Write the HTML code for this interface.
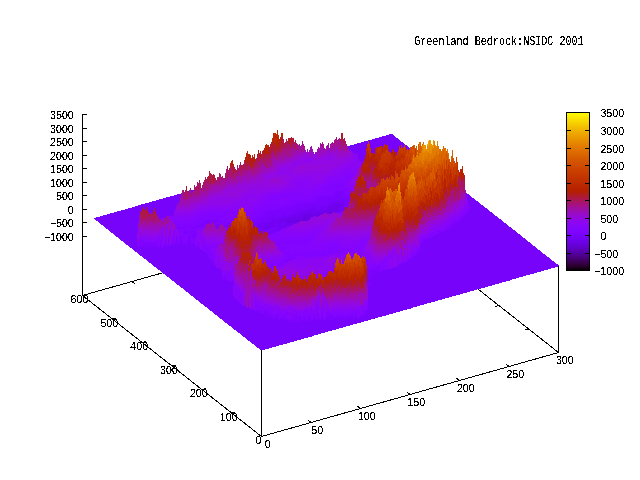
<!DOCTYPE html>
<html lang="en"><head><meta charset="utf-8"><title>Greenland Bedrock:NSIDC 2001</title>
<style>html,body{margin:0;padding:0;background:#fff}svg{display:block}</style></head><body>
<svg width="640" height="480" viewBox="0 0 640 480">
<rect width="640" height="480" fill="#fff"/>
<g stroke="#000" stroke-width="1" fill="none" shape-rendering="crispEdges">
<line x1="82.5" y1="295.5" x2="261.5" y2="436.5"/>
<line x1="261.5" y1="436.5" x2="558.5" y2="352.5"/>
<line x1="558.5" y1="352.5" x2="379.5" y2="211.5"/>
<line x1="379.5" y1="211.5" x2="82.5" y2="295.5"/>
<line x1="82.5" y1="114" x2="82.5" y2="295.5"/>
<line x1="82.5" y1="114.5" x2="87.0" y2="114.5"/>
<line x1="82.5" y1="128.5" x2="87.0" y2="128.5"/>
<line x1="82.5" y1="141.5" x2="87.0" y2="141.5"/>
<line x1="82.5" y1="155.5" x2="87.0" y2="155.5"/>
<line x1="82.5" y1="168.5" x2="87.0" y2="168.5"/>
<line x1="82.5" y1="182.5" x2="87.0" y2="182.5"/>
<line x1="82.5" y1="195.5" x2="87.0" y2="195.5"/>
<line x1="82.5" y1="209.5" x2="87.0" y2="209.5"/>
<line x1="82.5" y1="222.5" x2="87.0" y2="222.5"/>
<line x1="82.5" y1="236.5" x2="87.0" y2="236.5"/>
<line x1="261.5" y1="436.5" x2="257.9" y2="433.7"/>
<line x1="82.5" y1="295.5" x2="86.1" y2="298.3"/>
<line x1="311.0" y1="422.5" x2="307.4" y2="419.7"/>
<line x1="132.0" y1="281.5" x2="135.6" y2="284.3"/>
<line x1="360.5" y1="408.5" x2="356.9" y2="405.7"/>
<line x1="181.5" y1="267.5" x2="185.1" y2="270.3"/>
<line x1="410.0" y1="394.5" x2="406.4" y2="391.7"/>
<line x1="231.0" y1="253.5" x2="234.6" y2="256.3"/>
<line x1="459.5" y1="380.5" x2="455.9" y2="377.7"/>
<line x1="280.5" y1="239.5" x2="284.1" y2="242.3"/>
<line x1="509.0" y1="366.5" x2="505.4" y2="363.7"/>
<line x1="330.0" y1="225.5" x2="333.6" y2="228.3"/>
<line x1="558.5" y1="352.5" x2="554.9" y2="349.7"/>
<line x1="379.5" y1="211.5" x2="383.1" y2="214.3"/>
<line x1="261.5" y1="436.5" x2="265.5" y2="435.4"/>
<line x1="558.5" y1="352.5" x2="554.5" y2="353.6"/>
<line x1="231.7" y1="413.0" x2="235.6" y2="411.9"/>
<line x1="528.7" y1="329.0" x2="524.7" y2="330.1"/>
<line x1="201.8" y1="389.5" x2="205.8" y2="388.4"/>
<line x1="498.8" y1="305.5" x2="494.9" y2="306.6"/>
<line x1="172.0" y1="366.0" x2="176.0" y2="364.9"/>
<line x1="469.0" y1="282.0" x2="465.0" y2="283.1"/>
<line x1="142.2" y1="342.5" x2="146.1" y2="341.4"/>
<line x1="439.2" y1="258.5" x2="435.2" y2="259.6"/>
<line x1="112.3" y1="319.0" x2="116.3" y2="317.9"/>
<line x1="409.3" y1="235.0" x2="405.4" y2="236.1"/>
<line x1="82.5" y1="295.5" x2="86.5" y2="294.4"/>
<line x1="379.5" y1="211.5" x2="375.5" y2="212.6"/>
</g>
<g shape-rendering="crispEdges" fill="none" stroke-width="1">
<path stroke="#6a01e1" d="M285.5 220v1M286.5 220v2M288.5 221v1M289.5 220v1M290.5 221v1M291.5 221v1M293.5 220v2M294.5 222v1M296.5 220v2M297.5 220v2M298.5 220v2M299.5 220v2M302.5 219v2M303.5 218v2M304.5 216v5M305.5 215v6M306.5 215v4M307.5 215v6M308.5 215v2M309.5 215v2M309.5 218v2M313.5 216v1M328.5 213v1M329.5 212v1M331.5 212v1M332.5 212v1"/>
<path stroke="#6e02ec" d="M265.5 227v2M266.5 226v3M267.5 227v2M268.5 227v1M269.5 227v1M270.5 226v2M271.5 225v2M272.5 225v2M280.5 221v1M281.5 220v2M282.5 220v1M283.5 220v2M284.5 219v2M285.5 219v1M286.5 219v1M286.5 225v1M287.5 218v6M288.5 218v3M288.5 222v1M289.5 217v3M289.5 221v4M290.5 217v4M290.5 223v2M291.5 217v4M291.5 222v3M292.5 219v5M293.5 217v3M293.5 222v2M294.5 217v5M295.5 217v7M296.5 217v3M296.5 222v1M297.5 218v2M297.5 223v1M298.5 217v3M299.5 216v4M300.5 215v6M301.5 214v7M302.5 213v6M303.5 213v5M303.5 220v1M304.5 213v3M305.5 213v2M306.5 213v2M306.5 219v2M307.5 213v2M308.5 212v3M308.5 217v3M309.5 212v3M309.5 217v1M310.5 212v7M311.5 212v5M312.5 213v4M313.5 213v3M314.5 214v2M315.5 212v4M316.5 213v4M317.5 212v5M318.5 212v4M319.5 213v3M320.5 212v3M321.5 212v3M322.5 212v2M323.5 211v3M324.5 210v3M325.5 211v2M326.5 210v3M327.5 209v5M328.5 209v4M329.5 208v4M329.5 213v1M330.5 207v7M331.5 207v5M331.5 213v1M332.5 206v6M333.5 206v6M334.5 205v7M335.5 204v7M335.5 212v1M336.5 204v8M337.5 204v8M338.5 204v5M339.5 204v4M340.5 204v2M341.5 204v2"/>
<path stroke="#7302f4" d="M253.5 226v2M257.5 225v3M258.5 224v4M258.5 229v2M259.5 225v1M259.5 227v1M259.5 229v3M260.5 224v7M261.5 224v7M262.5 224v8M263.5 223v8M264.5 223v8M265.5 222v5M265.5 229v1M266.5 223v3M266.5 229v1M267.5 222v5M268.5 222v5M268.5 228v1M269.5 222v5M269.5 228v2M270.5 219v1M270.5 221v5M271.5 219v1M271.5 221v4M272.5 218v7M273.5 218v9M274.5 217v2M274.5 221v6M275.5 220v3M275.5 225v1M275.5 229v1M276.5 217v2M276.5 220v6M276.5 229v1M277.5 219v9M277.5 229v1M278.5 217v7M278.5 226v2M278.5 229v1M279.5 218v12M280.5 217v4M280.5 222v7M281.5 218v2M281.5 222v1M281.5 225v2M281.5 228v1M282.5 216v4M282.5 221v1M282.5 226v1M283.5 217v3M283.5 223v2M283.5 227v1M284.5 216v3M284.5 221v7M285.5 217v2M285.5 221v6M286.5 216v3M286.5 222v3M286.5 226v1M287.5 216v2M287.5 224v2M288.5 216v2M288.5 223v4M289.5 215v2M289.5 225v1M290.5 216v1M290.5 222v1M291.5 215v2M292.5 214v5M292.5 224v1M293.5 214v3M294.5 214v3M295.5 214v3M296.5 213v4M297.5 212v6M297.5 222v1M298.5 213v4M299.5 213v3M300.5 212v3M301.5 211v3M302.5 211v2M303.5 211v2M304.5 210v3M305.5 211v2M306.5 210v3M307.5 209v4M308.5 210v2M309.5 208v4M310.5 208v4M311.5 209v3M312.5 208v5M313.5 206v7M314.5 207v2M314.5 210v4M315.5 208v1M315.5 210v2M316.5 208v1M316.5 211v2M317.5 210v2M318.5 209v3M319.5 209v4M320.5 208v4M321.5 207v5M322.5 207v5M323.5 207v4M324.5 207v3M325.5 207v4M326.5 206v4M327.5 206v3M328.5 205v4M329.5 205v3M330.5 204v3M331.5 203v4M332.5 202v4M333.5 202v4M334.5 203v2M335.5 202v2M335.5 211v1M336.5 201v3M336.5 212v1M337.5 202v2M338.5 201v3M338.5 209v3M339.5 200v4M339.5 208v3M340.5 201v3M340.5 206v5M341.5 202v2M341.5 206v2M341.5 209v2M342.5 201v10M343.5 203v8M344.5 209v1"/>
<path stroke="#7703fa" d="M94.5 218v1M95.5 218v2M96.5 217v4M97.5 217v4M98.5 217v5M99.5 217v6M100.5 216v8M101.5 216v9M102.5 216v9M103.5 215v11M104.5 215v12M105.5 215v13M106.5 215v14M107.5 214v15M108.5 214v16M109.5 214v17M110.5 213v19M111.5 213v20M112.5 213v20M113.5 213v21M114.5 212v23M115.5 212v24M116.5 212v25M117.5 211v26M118.5 211v27M119.5 211v28M120.5 211v29M121.5 210v31M122.5 210v31M123.5 210v32M124.5 210v33M125.5 209v35M126.5 209v36M127.5 209v36M128.5 208v38M129.5 208v39M130.5 208v40M131.5 208v40M132.5 207v42M133.5 207v43M134.5 207v44M135.5 206v46M136.5 206v28M136.5 237v1M136.5 240v12M137.5 206v24M137.5 246v7M138.5 205v17M138.5 247v7M139.5 205v10M139.5 247v8M140.5 205v7M140.5 247v9M141.5 204v7M141.5 247v9M142.5 204v5M142.5 248v9M143.5 204v3M143.5 248v10M144.5 204v5M144.5 248v11M145.5 203v7M145.5 248v11M146.5 203v4M146.5 249v11M147.5 203v8M147.5 249v12M148.5 203v11M148.5 249v13M149.5 202v10M149.5 247v1M149.5 249v14M150.5 202v12M150.5 249v14M151.5 202v11M151.5 249v15M152.5 201v13M152.5 249v16M153.5 201v9M153.5 249v17M154.5 201v7M154.5 249v18M155.5 201v11M155.5 247v1M155.5 249v18M156.5 200v14M156.5 249v19M157.5 200v16M157.5 249v20M158.5 200v17M158.5 248v22M159.5 199v20M159.5 248v22M160.5 199v20M160.5 248v23M161.5 199v20M161.5 248v24M162.5 199v19M162.5 248v25M163.5 198v20M163.5 247v27M164.5 198v20M164.5 247v27M165.5 198v20M165.5 247v28M166.5 197v19M166.5 247v29M167.5 197v19M167.5 246v31M168.5 197v19M168.5 247v30M169.5 197v19M169.5 246v32M170.5 196v21M170.5 246v33M171.5 196v20M171.5 245v35M172.5 196v20M172.5 246v35M173.5 196v19M173.5 245v36M174.5 195v16M174.5 245v37M175.5 195v13M175.5 244v39M176.5 195v11M176.5 245v39M177.5 194v9M177.5 245v40M178.5 194v10M178.5 245v40M179.5 194v7M179.5 244v42M180.5 194v3M180.5 244v43M181.5 245v43M182.5 244v44M183.5 244v45M184.5 244v46M185.5 244v47M186.5 245v47M187.5 244v48M188.5 191v1M188.5 244v49M189.5 244v50M190.5 245v50M191.5 190v3M191.5 244v52M192.5 190v2M192.5 244v52M193.5 190v1M193.5 237v1M193.5 245v52M194.5 237v1M194.5 246v52M195.5 236v1M195.5 246v53M196.5 247v53M197.5 247v53M198.5 248v53M199.5 248v54M200.5 249v54M201.5 250v54M202.5 250v54M203.5 251v54M204.5 252v54M205.5 224v1M205.5 252v55M206.5 253v54M207.5 222v1M207.5 255v53M208.5 255v54M209.5 258v52M210.5 260v51M211.5 260v51M212.5 262v50M213.5 263v50M214.5 265v49M215.5 265v50M216.5 228v1M216.5 268v47M217.5 228v1M217.5 268v48M218.5 227v1M218.5 269v48M219.5 270v48M220.5 268v51M221.5 270v49M222.5 279v41M223.5 280v41M224.5 280v42M225.5 280v43M226.5 280v43M227.5 281v43M228.5 281v44M229.5 281v45M230.5 282v44M231.5 282v45M232.5 282v13M232.5 296v32M233.5 282v4M233.5 297v32M234.5 298v32M235.5 299v31M236.5 299v32M237.5 301v31M238.5 302v31M239.5 303v30M240.5 304v30M241.5 304v31M242.5 305v31M243.5 306v31M244.5 306v31M245.5 305v33M246.5 307v32M247.5 308v32M248.5 308v33M249.5 309v32M250.5 309v33M251.5 310v33M252.5 311v33M253.5 222v4M253.5 311v33M254.5 222v5M254.5 311v34M255.5 222v4M255.5 312v34M256.5 222v5M256.5 311v36M257.5 222v3M257.5 313v35M258.5 221v3M258.5 228v1M258.5 313v35M259.5 222v3M259.5 226v1M259.5 228v1M259.5 232v2M259.5 313v36M260.5 221v3M260.5 314v36M261.5 220v4M261.5 231v2M261.5 313v38M262.5 220v4M262.5 232v2M262.5 314v36M263.5 220v3M263.5 314v36M264.5 219v4M264.5 231v1M264.5 315v35M265.5 219v3M265.5 315v34M266.5 219v4M266.5 315v34M267.5 216v6M267.5 316v33M268.5 215v7M268.5 232v3M268.5 316v33M269.5 215v7M269.5 231v4M269.5 317v31M270.5 214v5M270.5 220v1M270.5 228v2M270.5 231v4M270.5 317v31M271.5 214v5M271.5 220v1M271.5 227v7M271.5 318v30M272.5 214v4M272.5 227v7M272.5 318v29M273.5 213v5M273.5 227v7M273.5 318v29M274.5 214v3M274.5 219v2M274.5 227v3M274.5 232v1M274.5 319v28M275.5 213v7M275.5 223v2M275.5 226v3M275.5 231v2M275.5 319v28M276.5 214v3M276.5 219v1M276.5 226v3M276.5 231v1M276.5 319v27M277.5 212v1M277.5 214v5M277.5 228v1M277.5 230v2M277.5 319v27M278.5 213v4M278.5 224v2M278.5 228v1M278.5 320v26M279.5 215v3M279.5 320v25M280.5 214v3M280.5 229v1M280.5 319v26M281.5 216v2M281.5 223v2M281.5 227v1M281.5 321v24M282.5 214v2M282.5 222v4M282.5 227v1M282.5 321v24M283.5 214v3M283.5 222v1M283.5 225v2M283.5 228v1M283.5 321v23M284.5 213v3M284.5 321v23M285.5 212v5M285.5 227v1M285.5 320v24M286.5 214v2M286.5 227v1M286.5 321v23M287.5 213v3M287.5 321v22M288.5 212v4M288.5 320v23M289.5 213v2M289.5 322v21M290.5 211v5M290.5 322v20M291.5 211v4M291.5 225v1M291.5 322v20M292.5 210v4M292.5 322v20M293.5 210v4M293.5 322v20M294.5 210v4M294.5 322v19M295.5 210v4M295.5 322v19M296.5 210v3M296.5 322v19M297.5 208v4M297.5 323v17M298.5 209v4M298.5 323v17M299.5 205v1M299.5 208v5M299.5 323v17M300.5 207v5M300.5 323v17M301.5 209v2M301.5 322v17M302.5 207v4M302.5 322v17M303.5 208v3M303.5 322v17M304.5 208v2M304.5 322v16M305.5 206v5M305.5 322v16M306.5 206v4M306.5 321v17M307.5 205v4M307.5 322v16M308.5 205v5M308.5 321v16M309.5 205v3M309.5 321v16M310.5 205v3M310.5 322v15M311.5 203v6M311.5 321v16M312.5 205v3M312.5 321v15M313.5 205v1M313.5 321v15M314.5 204v3M314.5 209v1M314.5 321v14M315.5 204v4M315.5 209v1M315.5 319v16M316.5 204v4M316.5 209v2M316.5 320v15M317.5 203v7M317.5 321v14M318.5 204v5M318.5 321v13M319.5 200v1M319.5 203v6M319.5 321v13M320.5 203v5M320.5 320v14M321.5 204v3M321.5 320v13M322.5 199v1M322.5 204v3M322.5 320v13M323.5 204v3M323.5 321v12M324.5 203v4M324.5 320v13M325.5 204v3M325.5 320v12M326.5 203v3M326.5 320v12M327.5 202v4M327.5 320v12M328.5 201v4M328.5 320v11M329.5 200v5M329.5 320v11M330.5 200v4M330.5 320v11M331.5 199v4M331.5 320v11M332.5 199v3M332.5 320v10M333.5 199v3M333.5 319v11M334.5 198v5M334.5 319v11M335.5 198v4M335.5 319v11M336.5 195v6M336.5 319v10M337.5 194v8M337.5 212v1M337.5 320v9M338.5 194v7M338.5 212v1M338.5 319v10M339.5 193v7M339.5 211v1M339.5 319v9M340.5 192v4M340.5 198v3M340.5 211v1M340.5 319v9M341.5 198v4M341.5 208v1M341.5 320v8M342.5 194v1M342.5 199v2M342.5 319v9M343.5 200v3M343.5 318v9M344.5 198v11M344.5 319v8M345.5 199v8M345.5 317v10M346.5 200v4M346.5 205v2M346.5 317v9M347.5 204v4M347.5 320v6M348.5 146v3M348.5 318v8M349.5 146v5M349.5 316v10M350.5 145v5M350.5 317v8M351.5 145v6M351.5 319v6M352.5 145v7M352.5 319v6M353.5 145v8M353.5 319v5M354.5 144v9M354.5 318v6M355.5 144v10M355.5 318v6M356.5 144v10M356.5 315v9M357.5 143v10M357.5 318v5M358.5 143v15M358.5 318v5M359.5 143v18M359.5 318v5M360.5 143v18M360.5 317v6M361.5 142v19M361.5 316v6M362.5 142v21M362.5 316v6M363.5 142v19M363.5 315v7M364.5 141v18M364.5 314v7M365.5 141v14M365.5 313v8M366.5 141v7M366.5 312v9M367.5 141v3M367.5 280v3M367.5 310v11M368.5 140v1M368.5 280v3M368.5 288v1M368.5 294v26M369.5 140v4M369.5 279v4M369.5 292v28M370.5 140v8M370.5 279v4M370.5 287v33M371.5 140v13M371.5 279v5M371.5 286v33M372.5 139v14M372.5 276v43M373.5 139v14M373.5 275v44M374.5 139v15M374.5 273v46M375.5 138v10M375.5 273v45M376.5 138v9M376.5 273v45M377.5 138v10M377.5 272v46M378.5 138v9M378.5 272v45M379.5 137v10M379.5 272v45M380.5 137v9M380.5 271v46M381.5 137v9M381.5 271v46M382.5 136v12M382.5 271v45M383.5 136v10M383.5 270v46M384.5 136v8M384.5 270v46M385.5 136v9M385.5 270v46M386.5 135v10M386.5 270v45M387.5 135v10M387.5 269v46M388.5 135v14M388.5 269v46M389.5 134v18M389.5 269v45M390.5 134v18M390.5 269v45M391.5 134v19M391.5 268v46M392.5 134v15M392.5 268v46M393.5 135v15M393.5 268v45M394.5 136v16M394.5 267v46M395.5 137v15M395.5 267v46M396.5 138v17M396.5 267v45M397.5 138v14M397.5 266v46M398.5 139v11M398.5 266v46M399.5 140v6M399.5 265v47M400.5 141v7M400.5 265v46M401.5 142v3M401.5 264v47M402.5 142v6M402.5 264v47M403.5 143v4M403.5 263v47M404.5 144v1M404.5 263v47M405.5 145v2M405.5 262v48M406.5 145v5M406.5 261v49M407.5 146v3M407.5 261v48M408.5 147v3M408.5 261v48M409.5 148v1M409.5 260v49M410.5 259v50M411.5 259v49M412.5 258v50M413.5 258v49M414.5 257v50M415.5 256v51M416.5 255v52M417.5 254v52M418.5 253v53M419.5 251v55M420.5 248v57M421.5 244v61M422.5 243v62M423.5 243v62M424.5 242v62M425.5 241v63M426.5 241v63M427.5 240v63M428.5 239v64M429.5 239v64M430.5 238v65M431.5 238v64M432.5 237v65M433.5 237v65M434.5 236v66M435.5 236v65M436.5 235v66M437.5 235v66M438.5 234v66M439.5 234v66M440.5 233v67M441.5 233v67M442.5 232v67M443.5 231v68M444.5 231v68M445.5 231v67M446.5 230v68M447.5 230v68M448.5 229v69M449.5 229v68M450.5 228v69M451.5 227v70M452.5 227v69M453.5 225v71M454.5 225v71M455.5 225v71M456.5 224v71M457.5 223v72M458.5 223v72M459.5 222v73M460.5 221v73M461.5 220v74M462.5 220v74M463.5 218v75M464.5 217v76M465.5 216v77M466.5 193v4M466.5 215v78M467.5 194v6M467.5 214v78M468.5 194v8M468.5 213v79M469.5 195v11M469.5 211v81M470.5 196v95M471.5 197v94M472.5 198v93M473.5 198v93M474.5 199v91M475.5 200v90M476.5 201v89M477.5 201v88M478.5 202v87M479.5 203v86M480.5 204v85M481.5 205v83M482.5 205v83M483.5 206v82M484.5 207v81M485.5 208v79M486.5 208v79M487.5 209v78M488.5 210v76M489.5 211v75M490.5 212v74M491.5 212v74M492.5 213v72M493.5 214v71M494.5 215v70M495.5 216v68M496.5 216v68M497.5 217v67M498.5 218v66M499.5 219v64M500.5 219v64M501.5 220v63M502.5 221v61M503.5 222v60M504.5 223v59M505.5 223v59M506.5 224v57M507.5 225v56M508.5 226v55M509.5 227v54M510.5 227v53M511.5 228v52M512.5 229v50M513.5 230v49M514.5 230v49M515.5 231v48M516.5 232v46M517.5 233v45M518.5 234v44M519.5 234v43M520.5 235v42M521.5 236v41M522.5 237v40M523.5 238v38M524.5 238v38M525.5 239v37M526.5 240v35M527.5 241v34M528.5 242v33M529.5 242v33M530.5 243v31M531.5 244v30M532.5 245v29M533.5 246v28M534.5 246v27M535.5 247v26M536.5 248v25M537.5 249v23M538.5 250v22M539.5 250v22M540.5 251v21M541.5 252v19M542.5 253v18M543.5 254v17M544.5 254v16M545.5 255v15M546.5 256v14M547.5 257v13M548.5 257v12M549.5 258v11M550.5 259v10M551.5 260v8M552.5 261v7M553.5 261v7M554.5 262v6M555.5 263v4M556.5 264v3M557.5 264v3M558.5 265v2"/>
<path stroke="#7b03fe" d="M136.5 238v2M139.5 245v2M140.5 241v1M141.5 245v2M142.5 241v1M142.5 245v3M143.5 241v7M144.5 243v1M144.5 246v2M145.5 242v6M146.5 244v5M147.5 242v2M147.5 245v4M148.5 243v6M149.5 245v2M149.5 248v1M150.5 242v2M150.5 245v4M151.5 244v5M152.5 246v3M153.5 243v2M153.5 246v3M154.5 243v6M155.5 248v1M156.5 245v4M157.5 246v3M159.5 246v2M160.5 243v5M161.5 246v2M164.5 244v3M165.5 240v7M167.5 244v2M168.5 240v7M171.5 243v2M172.5 239v7M175.5 241v3M176.5 228v1M176.5 237v8M177.5 228v1M177.5 242v3M178.5 227v2M178.5 243v2M179.5 227v2M179.5 241v3M180.5 227v2M180.5 236v8M181.5 227v2M181.5 236v9M182.5 227v2M183.5 226v3M183.5 233v1M184.5 226v2M184.5 232v2M185.5 227v1M185.5 231v3M186.5 231v3M187.5 232v1M187.5 241v3M188.5 232v1M188.5 236v8M189.5 231v2M189.5 235v1M189.5 237v7M190.5 227v1M190.5 233v1M190.5 235v1M190.5 237v8M191.5 227v2M191.5 231v3M191.5 235v2M191.5 243v1M192.5 227v2M192.5 231v2M192.5 234v3M192.5 240v1M193.5 227v2M193.5 231v1M193.5 234v3M193.5 243v2M194.5 226v3M194.5 231v1M194.5 233v4M194.5 240v1M194.5 243v3M195.5 227v1M195.5 231v5M196.5 225v4M196.5 231v3M197.5 225v2M197.5 245v2M198.5 224v4M198.5 230v1M198.5 242v6M199.5 225v2M200.5 224v3M201.5 222v5M202.5 221v5M202.5 227v1M203.5 222v5M204.5 221v4M205.5 220v4M206.5 220v4M207.5 220v2M207.5 223v1M208.5 220v4M209.5 220v2M210.5 221v3M211.5 221v2M212.5 220v2M213.5 220v3M214.5 220v4M215.5 220v3M215.5 224v1M215.5 226v2M216.5 220v3M216.5 225v3M217.5 220v2M217.5 224v4M218.5 220v1M218.5 224v3M219.5 219v2M219.5 225v1M219.5 267v3M220.5 224v1M223.5 224v2M223.5 278v2M224.5 223v4M224.5 275v5M225.5 224v4M226.5 224v4M226.5 279v1M227.5 224v4M228.5 223v5M228.5 280v1M229.5 223v2M230.5 224v3M230.5 281v1M232.5 280v2M249.5 218v1M249.5 307v2M250.5 220v1M252.5 219v3M252.5 308v3M253.5 219v3M253.5 309v2M254.5 219v3M255.5 220v2M255.5 311v1M256.5 218v4M257.5 218v4M257.5 311v2M258.5 217v4M258.5 307v1M258.5 310v3M259.5 217v5M260.5 217v4M260.5 312v2M261.5 217v3M262.5 214v1M262.5 216v4M262.5 312v2M263.5 215v5M264.5 214v5M264.5 313v2M265.5 210v9M265.5 230v2M265.5 310v5M266.5 211v8M266.5 230v2M267.5 211v5M267.5 229v4M267.5 309v7M268.5 211v4M268.5 229v3M269.5 211v4M269.5 230v1M269.5 315v2M270.5 210v4M270.5 230v1M270.5 313v4M271.5 210v4M272.5 210v1M272.5 212v2M272.5 316v2M273.5 209v4M274.5 210v4M274.5 230v2M274.5 318v1M275.5 209v4M275.5 230v1M275.5 315v4M276.5 210v4M276.5 230v1M276.5 317v2M277.5 209v3M277.5 213v1M277.5 313v6M278.5 209v4M278.5 230v2M279.5 208v7M279.5 230v1M279.5 319v1M280.5 208v6M280.5 230v1M280.5 250v1M281.5 207v9M281.5 229v1M281.5 250v1M281.5 319v2M282.5 208v6M282.5 228v1M282.5 250v1M282.5 264v1M282.5 318v3M283.5 209v5M283.5 248v1M283.5 314v7M284.5 207v2M284.5 211v2M284.5 243v1M284.5 318v3M285.5 207v2M285.5 211v1M285.5 261v2M285.5 313v2M286.5 206v3M286.5 210v4M286.5 261v2M286.5 317v4M287.5 207v6M287.5 260v2M287.5 312v2M288.5 207v5M288.5 254v1M288.5 260v1M289.5 206v7M289.5 243v1M289.5 259v2M290.5 206v5M290.5 258v2M291.5 206v5M291.5 259v1M292.5 206v4M292.5 258v1M292.5 319v3M293.5 206v4M293.5 257v1M293.5 314v2M293.5 319v3M294.5 206v4M294.5 315v7M295.5 204v6M295.5 257v1M295.5 320v2M296.5 203v7M296.5 316v2M297.5 203v5M297.5 321v2M298.5 203v6M298.5 318v5M299.5 203v2M299.5 206v2M299.5 316v7M300.5 202v5M300.5 243v1M300.5 317v6M301.5 202v7M301.5 320v2M302.5 202v5M302.5 243v1M302.5 320v2M303.5 202v6M303.5 319v3M304.5 201v7M304.5 315v7M305.5 203v3M305.5 319v3M306.5 203v3M307.5 202v3M308.5 202v3M308.5 318v3M309.5 202v3M309.5 314v7M310.5 202v3M310.5 317v5M311.5 202v1M312.5 202v3M313.5 201v4M313.5 318v3M314.5 201v3M314.5 314v7M315.5 202v2M316.5 199v5M317.5 198v5M317.5 318v3M318.5 197v7M318.5 313v8M319.5 196v4M319.5 201v2M319.5 318v3M320.5 196v7M321.5 196v8M321.5 317v3M322.5 196v3M322.5 200v4M322.5 312v8M323.5 196v8M323.5 254v1M323.5 318v3M324.5 196v7M324.5 254v1M325.5 196v8M325.5 254v1M325.5 318v2M326.5 195v8M326.5 315v5M327.5 196v6M327.5 253v1M327.5 312v8M328.5 196v5M328.5 253v1M328.5 311v9M329.5 196v4M329.5 316v4M330.5 196v4M330.5 313v7M331.5 196v3M331.5 314v6M332.5 196v3M332.5 315v5M333.5 195v4M333.5 318v1M334.5 193v2M334.5 196v2M334.5 317v2M335.5 192v6M335.5 317v2M336.5 191v4M336.5 317v2M337.5 190v4M337.5 316v4M338.5 190v4M338.5 213v1M338.5 316v3M339.5 191v2M339.5 212v1M339.5 318v1M340.5 191v1M340.5 196v2M340.5 212v1M340.5 317v2M341.5 190v8M341.5 211v2M341.5 316v4M342.5 191v3M342.5 195v4M342.5 211v1M342.5 316v3M343.5 191v3M343.5 197v3M343.5 317v1M344.5 192v1M344.5 195v3M344.5 316v3M345.5 197v2M345.5 316v1M346.5 196v4M346.5 204v1M346.5 316v1M347.5 198v6M347.5 317v3M348.5 196v9M348.5 315v3M349.5 197v2M349.5 200v1M350.5 315v2M351.5 314v5M352.5 315v4M353.5 318v1M354.5 315v3M355.5 311v7M360.5 314v1M360.5 316v1M361.5 315v1M364.5 310v4M366.5 309v3M367.5 275v5M367.5 284v3M368.5 273v7M368.5 284v4M368.5 289v5M369.5 270v9M369.5 284v8M370.5 270v9M370.5 284v3M371.5 270v9M371.5 284v2M372.5 269v7M373.5 269v6M374.5 270v3M375.5 269v4M376.5 269v4M377.5 267v5M378.5 266v6M379.5 270v2M398.5 263v3M400.5 263v2M402.5 261v3M408.5 258v3M411.5 257v2M413.5 256v2M414.5 254v3M416.5 254v1M417.5 251v3M418.5 252v1M419.5 250v1M420.5 243v5M421.5 243v1M423.5 241v2M424.5 240v2M425.5 238v3M426.5 239v1M427.5 237v3M429.5 235v1M429.5 238v1M431.5 236v2M433.5 233v1M433.5 236v1M435.5 234v2M437.5 230v2M437.5 234v1M438.5 233v1M439.5 230v4M441.5 230v3M444.5 230v1M447.5 226v1M447.5 228v2M449.5 228v1M450.5 226v2M451.5 226v1M452.5 224v3M453.5 224v1M454.5 222v3M455.5 222v3M456.5 221v3M457.5 221v2M459.5 219v3M460.5 219v2M461.5 217v3M462.5 217v3M463.5 215v3M464.5 214v3M465.5 213v3M466.5 214v1M467.5 211v3M468.5 210v3M469.5 208v3"/>
<path stroke="#8004ff" d="M136.5 234v3M137.5 230v2M137.5 233v1M137.5 243v3M138.5 241v6M139.5 239v6M140.5 243v4M141.5 238v7M142.5 244v1M144.5 244v2M145.5 241v1M146.5 243v1M147.5 241v1M147.5 244v1M148.5 241v2M150.5 244v1M151.5 242v2M152.5 242v4M153.5 245v1M154.5 242v1M155.5 244v3M156.5 240v5M157.5 238v8M158.5 238v10M160.5 240v3M161.5 236v10M162.5 243v5M175.5 208v2M175.5 224v2M176.5 224v4M177.5 224v4M177.5 229v1M178.5 224v3M178.5 229v3M178.5 240v3M179.5 223v4M179.5 229v5M179.5 235v6M180.5 224v3M180.5 229v5M181.5 223v4M181.5 229v6M182.5 224v3M182.5 229v6M182.5 240v4M183.5 223v3M183.5 229v4M183.5 234v10M184.5 223v3M184.5 228v4M184.5 235v9M185.5 223v4M185.5 228v3M185.5 235v9M186.5 224v7M186.5 235v10M187.5 223v9M187.5 233v2M187.5 240v1M188.5 225v7M188.5 233v3M189.5 225v6M189.5 233v2M190.5 224v3M190.5 228v5M190.5 234v1M191.5 224v3M191.5 229v2M191.5 234v1M191.5 241v2M192.5 224v3M192.5 229v2M192.5 233v1M192.5 237v3M192.5 241v3M193.5 223v4M193.5 229v2M193.5 232v2M193.5 238v5M194.5 222v4M194.5 229v2M194.5 232v1M194.5 239v1M195.5 222v5M195.5 228v3M196.5 221v1M196.5 223v2M196.5 229v2M197.5 221v4M197.5 227v2M197.5 243v2M198.5 220v4M198.5 228v2M199.5 219v6M199.5 227v3M200.5 218v6M200.5 227v3M201.5 217v5M201.5 227v2M202.5 217v4M202.5 226v1M203.5 216v6M203.5 227v3M204.5 216v5M204.5 225v3M204.5 248v4M205.5 216v4M205.5 225v2M205.5 243v9M206.5 216v4M206.5 246v7M207.5 214v6M207.5 248v7M208.5 214v6M208.5 248v7M209.5 214v6M209.5 250v3M209.5 255v3M210.5 215v6M210.5 251v9M211.5 215v6M211.5 223v2M211.5 251v3M211.5 255v5M212.5 215v1M212.5 217v3M212.5 252v10M213.5 215v1M213.5 217v3M213.5 253v3M213.5 257v2M214.5 214v1M214.5 217v3M214.5 224v1M215.5 213v2M215.5 216v4M215.5 223v1M215.5 225v1M216.5 215v5M216.5 223v2M217.5 215v5M217.5 222v2M218.5 214v6M218.5 221v3M219.5 215v4M219.5 221v4M220.5 216v4M220.5 221v3M221.5 216v3M221.5 220v4M222.5 214v3M222.5 220v5M223.5 214v4M223.5 221v3M223.5 275v3M224.5 214v1M224.5 216v1M224.5 222v1M225.5 214v2M225.5 221v3M225.5 276v4M226.5 219v5M226.5 228v2M226.5 271v8M227.5 220v4M227.5 228v3M228.5 221v2M228.5 271v9M229.5 220v3M230.5 220v4M230.5 277v4M231.5 220v3M232.5 220v1M232.5 277v3M232.5 295v1M233.5 219v2M237.5 299v2M238.5 295v2M244.5 302v4M246.5 215v1M247.5 216v3M248.5 214v1M248.5 303v5M249.5 216v2M250.5 214v1M250.5 216v4M251.5 215v5M252.5 215v4M253.5 215v4M254.5 212v1M254.5 215v4M255.5 211v3M255.5 215v5M255.5 308v3M256.5 211v7M257.5 211v7M257.5 309v2M258.5 211v6M258.5 305v1M259.5 210v7M259.5 309v4M260.5 209v8M260.5 307v5M261.5 208v9M262.5 208v6M262.5 215v1M262.5 311v1M263.5 208v7M264.5 207v7M264.5 310v3M265.5 207v3M265.5 305v1M266.5 206v5M266.5 312v3M267.5 206v5M267.5 265v2M267.5 307v1M268.5 201v1M268.5 206v5M268.5 266v1M268.5 312v4M269.5 206v5M269.5 266v2M269.5 308v7M270.5 201v1M270.5 205v5M270.5 265v2M270.5 309v1M271.5 206v4M271.5 264v2M271.5 314v4M272.5 200v1M272.5 205v5M272.5 211v1M272.5 265v1M272.5 309v7M273.5 204v5M273.5 264v2M274.5 199v2M274.5 205v5M274.5 265v1M274.5 314v4M275.5 205v4M275.5 242v3M276.5 198v1M276.5 205v5M276.5 241v1M276.5 243v2M276.5 264v1M276.5 315v2M277.5 199v1M277.5 206v3M277.5 243v1M277.5 263v2M278.5 205v4M278.5 242v2M278.5 245v1M278.5 247v2M278.5 263v2M278.5 316v4M279.5 198v1M279.5 206v2M279.5 241v4M279.5 246v4M279.5 263v2M279.5 310v9M280.5 197v1M280.5 205v3M280.5 242v2M280.5 247v3M280.5 262v4M280.5 313v1M280.5 316v3M281.5 196v2M281.5 205v2M281.5 241v4M281.5 246v4M281.5 262v3M281.5 313v6M282.5 205v3M282.5 241v4M282.5 247v3M282.5 261v3M282.5 316v2M283.5 196v1M283.5 205v4M283.5 241v3M283.5 246v2M283.5 249v1M283.5 252v2M283.5 261v3M283.5 311v1M284.5 196v1M284.5 205v2M284.5 209v2M284.5 241v2M284.5 245v4M284.5 252v2M284.5 260v3M285.5 204v3M285.5 209v2M285.5 240v4M285.5 246v3M285.5 252v2M285.5 258v3M286.5 196v1M286.5 204v2M286.5 209v1M286.5 240v4M286.5 245v4M286.5 252v4M286.5 257v4M287.5 203v4M287.5 240v4M287.5 246v1M287.5 248v1M287.5 251v9M287.5 317v4M288.5 203v4M288.5 240v3M288.5 244v3M288.5 248v1M288.5 251v3M288.5 255v5M288.5 312v2M289.5 203v3M289.5 241v2M289.5 244v2M289.5 247v1M289.5 251v8M289.5 318v4M290.5 203v3M290.5 241v4M290.5 251v3M290.5 255v3M290.5 312v2M290.5 318v4M291.5 203v3M291.5 241v4M291.5 247v1M291.5 252v1M291.5 256v3M291.5 313v9M292.5 201v5M292.5 240v5M292.5 252v1M292.5 255v3M293.5 197v1M293.5 200v6M293.5 239v6M293.5 255v2M294.5 197v1M294.5 200v6M294.5 239v6M294.5 252v1M294.5 255v3M295.5 199v5M295.5 238v6M295.5 251v1M295.5 254v3M295.5 317v3M296.5 200v3M296.5 240v4M296.5 254v4M296.5 312v2M296.5 318v4M297.5 200v3M297.5 238v6M297.5 253v4M297.5 312v9M298.5 200v3M298.5 240v5M298.5 254v3M299.5 197v1M299.5 200v3M299.5 239v5M299.5 253v4M300.5 200v2M300.5 239v4M300.5 244v1M300.5 254v3M301.5 198v4M301.5 239v1M301.5 241v2M301.5 244v2M301.5 253v4M302.5 198v4M302.5 241v2M302.5 244v1M302.5 254v2M302.5 316v4M303.5 197v5M303.5 239v6M303.5 253v3M303.5 311v8M304.5 198v3M304.5 239v4M304.5 244v1M304.5 253v4M305.5 199v4M305.5 238v4M305.5 243v2M305.5 247v1M305.5 253v3M305.5 315v4M306.5 199v4M306.5 239v3M306.5 243v3M306.5 252v4M306.5 309v12M307.5 199v3M307.5 238v5M307.5 252v4M307.5 312v10M308.5 200v2M308.5 240v3M308.5 252v4M308.5 317v1M309.5 198v4M309.5 252v4M310.5 199v3M310.5 240v1M310.5 253v4M311.5 199v3M311.5 253v1M311.5 316v5M312.5 198v4M312.5 309v12M313.5 197v4M313.5 252v2M313.5 316v2M314.5 195v6M314.5 251v3M315.5 195v7M315.5 252v2M316.5 194v5M316.5 251v4M316.5 313v7M317.5 194v4M317.5 253v2M317.5 256v1M317.5 305v13M318.5 194v3M318.5 253v2M319.5 194v2M319.5 252v5M320.5 194v2M320.5 253v4M321.5 193v3M321.5 252v5M322.5 192v4M322.5 252v5M323.5 188v1M323.5 192v4M323.5 251v3M323.5 255v1M324.5 193v3M324.5 251v3M324.5 255v2M325.5 188v3M325.5 192v4M325.5 250v4M325.5 256v1M326.5 187v3M326.5 193v2M326.5 251v3M326.5 255v1M327.5 187v9M327.5 249v4M328.5 187v5M328.5 193v3M328.5 248v5M329.5 186v6M329.5 193v3M329.5 247v7M330.5 185v7M330.5 193v3M330.5 247v8M331.5 184v1M331.5 186v10M331.5 247v8M332.5 185v11M332.5 246v9M332.5 314v1M333.5 185v10M333.5 246v3M333.5 250v4M333.5 316v2M334.5 183v10M334.5 195v1M334.5 244v1M334.5 246v2M334.5 249v5M334.5 315v2M335.5 182v1M335.5 184v8M335.5 246v1M335.5 250v4M335.5 314v3M336.5 183v8M336.5 249v5M336.5 314v3M337.5 184v6M337.5 250v1M337.5 252v1M337.5 314v2M338.5 184v6M338.5 252v1M338.5 315v1M339.5 183v8M339.5 314v4M340.5 183v8M340.5 252v1M340.5 313v4M341.5 181v9M341.5 315v1M342.5 183v3M342.5 187v4M342.5 251v1M342.5 314v2M343.5 182v2M343.5 185v1M343.5 187v4M343.5 194v3M343.5 314v3M344.5 181v3M344.5 188v4M344.5 193v2M345.5 181v2M345.5 188v9M345.5 252v1M345.5 314v2M346.5 179v1M346.5 192v4M346.5 314v2M347.5 178v2M347.5 192v6M347.5 315v2M348.5 177v2M348.5 193v3M348.5 250v1M348.5 313v2M349.5 177v1M349.5 196v1M349.5 199v1M349.5 201v1M349.5 313v3M350.5 177v1M350.5 251v1M351.5 176v1M351.5 251v1M351.5 313v1M352.5 250v1M352.5 312v3M353.5 250v1M353.5 311v7M356.5 313v2M357.5 254v1M357.5 310v8M358.5 254v1M358.5 309v9M359.5 255v1M359.5 312v6M363.5 306v9M365.5 245v1M366.5 260v2M367.5 268v7M367.5 283v1M367.5 305v5M368.5 268v5M368.5 283v1M369.5 267v3M369.5 283v1M370.5 266v4M370.5 283v1M371.5 266v4M372.5 266v3M373.5 267v2M374.5 266v4M375.5 265v4M376.5 268v1M377.5 266v1M379.5 265v5M380.5 264v7M381.5 262v9M382.5 261v10M383.5 266v4M403.5 256v7M406.5 255v6M412.5 251v7M415.5 252v4M417.5 247v4M418.5 248v4M419.5 246v4M420.5 240v3M421.5 239v4M422.5 238v5M423.5 235v6M425.5 235v1M426.5 240v1M428.5 233v6M430.5 231v7M432.5 232v5M434.5 229v7M436.5 229v6M442.5 230v2M443.5 225v6M445.5 226v5M448.5 224v5M449.5 224v4M450.5 223v3M451.5 222v4M452.5 221v3M453.5 220v4M454.5 221v1M455.5 219v3M456.5 219v2M458.5 219v4M462.5 215v2M463.5 212v3M464.5 212v2M465.5 212v1M466.5 211v3M467.5 209v2M468.5 208v2M469.5 206v2"/>
<path stroke="#8305fe" d="M140.5 242v1M141.5 237v1M142.5 242v2M143.5 239v2M144.5 240v3M145.5 240v1M146.5 240v3M148.5 240v1M149.5 241v4M151.5 241v1M152.5 241v1M153.5 241v2M155.5 241v3M165.5 236v4M166.5 230v17M168.5 236v4M169.5 231v15M172.5 236v3M173.5 218v1M173.5 222v1M173.5 232v13M174.5 219v1M174.5 222v2M175.5 219v1M175.5 221v3M176.5 221v3M176.5 235v2M177.5 221v3M177.5 231v11M178.5 221v3M178.5 238v2M179.5 220v3M180.5 220v4M181.5 219v4M182.5 220v4M183.5 220v3M184.5 219v4M185.5 219v4M186.5 219v5M187.5 220v3M188.5 218v7M189.5 219v6M189.5 236v1M190.5 218v6M190.5 236v1M191.5 217v3M191.5 221v3M191.5 237v4M192.5 218v2M192.5 221v3M193.5 217v6M194.5 217v5M194.5 238v1M194.5 241v2M195.5 216v6M195.5 237v9M196.5 216v5M196.5 222v1M196.5 234v5M197.5 216v5M197.5 241v2M198.5 215v5M198.5 233v3M199.5 214v5M200.5 214v4M201.5 212v5M202.5 214v3M203.5 212v4M203.5 238v13M204.5 212v4M204.5 239v9M205.5 212v4M206.5 213v3M207.5 212v2M207.5 245v3M208.5 212v2M208.5 246v2M209.5 212v2M209.5 245v5M209.5 253v2M210.5 211v4M210.5 246v3M210.5 250v1M211.5 211v4M211.5 245v4M212.5 211v4M212.5 216v1M212.5 246v2M213.5 211v4M213.5 216v1M213.5 246v2M213.5 259v4M214.5 212v2M214.5 215v2M214.5 247v1M214.5 253v5M214.5 262v3M215.5 211v1M215.5 215v1M215.5 246v2M215.5 256v2M216.5 212v3M217.5 211v4M218.5 212v2M219.5 212v3M219.5 264v3M220.5 211v5M220.5 220v1M221.5 211v5M221.5 219v1M222.5 211v3M222.5 217v3M222.5 265v3M222.5 275v4M223.5 211v3M223.5 218v3M223.5 269v6M224.5 211v3M224.5 215v1M224.5 217v5M225.5 211v3M225.5 216v5M225.5 274v2M226.5 210v6M226.5 217v2M226.5 266v1M227.5 210v5M227.5 217v3M227.5 275v6M228.5 211v4M228.5 217v4M229.5 210v4M229.5 216v4M229.5 275v6M230.5 210v4M230.5 216v4M230.5 267v10M231.5 210v4M231.5 216v4M232.5 210v5M232.5 216v4M233.5 211v3M233.5 215v4M233.5 276v6M234.5 211v7M234.5 269v3M235.5 210v8M236.5 211v7M237.5 211v4M238.5 211v1M238.5 287v6M238.5 297v5M239.5 291v12M240.5 291v13M241.5 293v11M242.5 293v4M246.5 212v3M247.5 211v5M248.5 211v3M248.5 215v1M249.5 210v6M250.5 211v3M250.5 215v1M251.5 210v5M252.5 209v6M252.5 303v5M253.5 208v7M254.5 208v4M254.5 213v2M254.5 306v5M255.5 208v3M255.5 214v1M255.5 299v9M256.5 206v5M256.5 306v5M257.5 206v5M257.5 299v10M258.5 204v1M258.5 206v5M258.5 301v3M258.5 308v2M259.5 205v5M259.5 304v5M260.5 204v5M261.5 204v4M261.5 308v5M262.5 202v1M262.5 204v4M262.5 304v7M263.5 201v7M263.5 308v6M264.5 198v2M264.5 201v6M264.5 304v6M265.5 200v7M266.5 200v6M266.5 263v1M266.5 309v3M267.5 198v8M267.5 262v3M267.5 304v1M268.5 198v3M268.5 202v4M268.5 263v3M268.5 310v2M269.5 197v9M269.5 235v1M269.5 262v4M269.5 268v1M269.5 307v1M270.5 197v4M270.5 202v3M270.5 235v1M270.5 238v2M270.5 263v2M270.5 267v1M270.5 311v2M271.5 195v11M271.5 234v2M271.5 239v2M271.5 262v2M271.5 266v3M271.5 307v7M272.5 196v1M272.5 198v2M272.5 201v4M272.5 238v3M272.5 262v3M272.5 266v2M273.5 195v9M273.5 234v2M273.5 237v4M273.5 262v2M273.5 266v2M273.5 312v6M274.5 195v4M274.5 201v4M274.5 233v3M274.5 238v4M274.5 261v4M274.5 305v9M275.5 195v10M275.5 233v5M275.5 239v3M275.5 261v5M276.5 195v3M276.5 199v1M276.5 202v3M276.5 232v5M276.5 239v2M276.5 242v1M276.5 245v1M276.5 262v2M276.5 265v3M276.5 313v2M277.5 195v4M277.5 201v5M277.5 233v3M277.5 239v4M277.5 244v3M277.5 262v1M277.5 265v3M277.5 306v3M278.5 194v6M278.5 201v4M278.5 232v1M278.5 234v2M278.5 239v3M278.5 244v1M278.5 246v1M278.5 260v3M278.5 265v2M278.5 313v3M279.5 196v2M279.5 200v6M279.5 231v5M279.5 238v3M279.5 245v1M279.5 260v3M279.5 265v2M279.5 308v2M280.5 194v3M280.5 200v1M280.5 202v3M280.5 231v1M280.5 235v1M280.5 237v5M280.5 244v3M280.5 259v3M280.5 314v2M281.5 195v1M281.5 201v4M281.5 237v4M281.5 245v1M281.5 258v4M281.5 265v1M281.5 311v1M282.5 193v5M282.5 199v6M282.5 229v1M282.5 235v1M282.5 238v3M282.5 245v2M282.5 251v1M282.5 259v2M282.5 314v2M283.5 193v3M283.5 200v5M283.5 229v1M283.5 234v1M283.5 238v3M283.5 244v2M283.5 250v2M283.5 257v4M284.5 193v3M284.5 199v6M284.5 234v1M284.5 236v5M284.5 244v1M284.5 249v3M284.5 254v1M284.5 256v4M284.5 315v3M285.5 193v4M285.5 199v5M285.5 236v4M285.5 244v2M285.5 249v3M285.5 254v4M285.5 309v1M285.5 315v5M286.5 193v3M286.5 200v4M286.5 235v1M286.5 239v1M286.5 244v1M286.5 249v3M286.5 256v1M286.5 308v9M287.5 193v5M287.5 199v4M287.5 237v3M287.5 244v2M287.5 247v1M287.5 249v2M288.5 193v5M288.5 199v4M288.5 238v2M288.5 243v1M288.5 247v1M288.5 249v2M289.5 193v4M289.5 199v4M289.5 226v1M289.5 236v5M289.5 246v1M289.5 248v3M290.5 193v10M290.5 237v4M290.5 245v6M290.5 254v1M290.5 260v1M291.5 194v9M291.5 237v4M291.5 245v2M291.5 248v4M291.5 253v3M292.5 194v7M292.5 237v3M292.5 245v7M292.5 253v2M292.5 315v4M293.5 193v4M293.5 198v2M293.5 236v3M293.5 245v10M293.5 258v2M293.5 309v3M293.5 316v3M294.5 192v5M294.5 198v2M294.5 236v3M294.5 245v7M294.5 253v2M294.5 310v3M295.5 193v6M295.5 236v2M295.5 244v7M295.5 252v2M296.5 193v7M296.5 235v5M296.5 244v10M297.5 192v8M297.5 237v1M297.5 244v9M298.5 192v8M298.5 236v4M298.5 245v9M298.5 315v3M299.5 191v6M299.5 198v2M299.5 236v3M299.5 244v9M299.5 311v5M300.5 193v7M300.5 236v3M300.5 245v9M300.5 311v6M301.5 191v1M301.5 194v4M301.5 235v1M301.5 237v2M301.5 240v1M301.5 243v1M301.5 246v7M301.5 310v10M302.5 192v6M302.5 237v4M302.5 245v9M302.5 259v1M303.5 189v1M303.5 192v5M303.5 236v3M303.5 245v8M303.5 256v3M304.5 189v1M304.5 191v4M304.5 196v2M304.5 236v3M304.5 243v1M304.5 245v8M304.5 257v2M304.5 313v2M305.5 190v1M305.5 193v3M305.5 198v1M305.5 236v2M305.5 242v1M305.5 245v2M305.5 248v5M305.5 256v3M305.5 309v6M306.5 189v1M306.5 194v1M306.5 196v3M306.5 235v4M306.5 242v1M306.5 246v6M306.5 256v3M306.5 280v2M307.5 195v4M307.5 236v2M307.5 243v9M307.5 256v3M308.5 196v4M308.5 234v6M308.5 243v9M308.5 256v3M309.5 189v1M309.5 194v1M309.5 196v2M309.5 234v18M309.5 256v2M310.5 194v1M310.5 196v3M310.5 234v1M310.5 236v4M310.5 241v4M310.5 247v6M310.5 257v1M310.5 312v5M311.5 191v2M311.5 194v5M311.5 234v3M311.5 238v7M311.5 246v7M311.5 254v4M311.5 306v10M312.5 190v2M312.5 193v5M312.5 232v12M312.5 246v12M313.5 191v6M313.5 233v2M313.5 237v3M313.5 241v1M313.5 244v1M313.5 246v6M313.5 254v4M314.5 192v3M314.5 240v1M314.5 244v7M314.5 254v3M315.5 189v1M315.5 192v3M315.5 231v3M315.5 244v3M315.5 249v3M315.5 254v3M315.5 310v9M316.5 189v1M316.5 191v3M316.5 244v4M316.5 249v2M316.5 255v2M316.5 300v13M317.5 189v1M317.5 191v3M317.5 246v1M317.5 250v3M317.5 255v1M318.5 188v2M318.5 191v3M318.5 245v2M318.5 249v4M318.5 255v2M319.5 187v7M319.5 246v1M319.5 249v3M320.5 186v3M320.5 191v3M320.5 229v1M320.5 244v2M320.5 249v4M320.5 312v8M321.5 186v7M321.5 244v2M321.5 249v3M321.5 303v14M322.5 186v6M322.5 244v3M322.5 248v4M323.5 185v3M323.5 189v3M323.5 245v2M323.5 248v3M323.5 277v3M324.5 186v7M324.5 244v7M324.5 275v2M325.5 184v4M325.5 191v1M325.5 244v6M325.5 255v1M325.5 275v2M326.5 185v2M326.5 190v3M326.5 245v6M326.5 254v1M326.5 275v1M327.5 182v5M327.5 243v6M327.5 254v1M328.5 183v4M328.5 192v1M328.5 243v5M328.5 254v1M329.5 181v5M329.5 192v1M329.5 244v3M329.5 254v1M330.5 181v4M330.5 192v1M330.5 243v4M331.5 180v4M331.5 185v1M331.5 242v5M331.5 312v2M332.5 179v6M332.5 242v4M332.5 313v1M333.5 180v5M333.5 241v5M333.5 249v1M333.5 312v4M334.5 180v3M334.5 242v2M334.5 245v1M334.5 248v1M334.5 313v2M335.5 179v3M335.5 183v1M335.5 241v5M335.5 247v3M335.5 312v2M336.5 179v4M336.5 243v6M336.5 311v3M337.5 179v5M337.5 243v7M337.5 251v1M337.5 253v1M337.5 311v3M338.5 179v5M338.5 243v9M338.5 253v2M338.5 311v4M339.5 179v4M339.5 243v2M339.5 247v8M339.5 313v1M340.5 179v4M340.5 244v1M340.5 247v5M340.5 253v1M340.5 312v1M341.5 178v3M341.5 247v8M341.5 311v4M342.5 176v7M342.5 186v1M342.5 247v4M342.5 252v3M342.5 312v2M343.5 177v5M343.5 184v1M343.5 186v1M343.5 247v7M343.5 312v2M344.5 176v5M344.5 184v4M344.5 248v6M344.5 312v4M345.5 176v5M345.5 183v5M345.5 248v4M345.5 253v1M346.5 174v5M346.5 180v12M346.5 248v6M346.5 312v2M347.5 174v4M347.5 180v2M347.5 183v1M347.5 186v6M347.5 248v6M347.5 313v2M348.5 173v4M348.5 179v1M348.5 181v1M348.5 187v6M348.5 246v4M348.5 251v1M348.5 311v2M349.5 174v3M349.5 187v9M349.5 248v6M349.5 311v2M350.5 173v4M350.5 190v4M350.5 247v4M350.5 252v1M350.5 255v1M350.5 311v4M351.5 173v3M351.5 246v5M351.5 252v7M351.5 312v1M352.5 173v3M352.5 246v4M352.5 251v8M352.5 310v2M353.5 171v1M353.5 173v2M353.5 246v4M353.5 251v6M354.5 172v3M354.5 247v7M354.5 309v6M355.5 173v1M355.5 246v7M356.5 247v6M356.5 309v4M357.5 246v8M358.5 160v1M358.5 245v9M359.5 243v1M359.5 245v10M359.5 307v2M360.5 242v16M360.5 315v1M361.5 242v16M362.5 242v8M362.5 252v2M362.5 255v1M362.5 305v11M363.5 242v6M363.5 256v1M364.5 242v4M364.5 256v1M365.5 240v5M365.5 256v3M366.5 240v4M366.5 257v3M367.5 241v1M367.5 257v5M367.5 264v4M368.5 240v1M368.5 257v4M368.5 264v4M369.5 264v3M370.5 264v2M371.5 264v2M372.5 265v1M373.5 263v4M374.5 263v3M375.5 264v1M376.5 264v4M377.5 264v2M378.5 265v1M379.5 264v1M383.5 260v6M384.5 258v12M385.5 257v13M386.5 264v6M397.5 255v11M399.5 254v11M409.5 252v8M410.5 250v9M413.5 248v8M416.5 247v7M420.5 238v2M424.5 233v7M426.5 231v8M428.5 230v1M429.5 236v2M432.5 228v2M433.5 234v2M436.5 226v1M437.5 232v2M438.5 225v8M440.5 225v8M446.5 222v8M447.5 227v1M452.5 219v2M453.5 219v1M454.5 215v6M455.5 217v2M457.5 217v4M458.5 216v3M459.5 215v4M460.5 215v4M461.5 213v4M462.5 212v3M463.5 210v2M464.5 208v4M465.5 208v4M466.5 207v4M467.5 206v3M468.5 205v3"/>
<path stroke="#8706fa" d="M137.5 232v1M137.5 238v5M138.5 229v1M140.5 239v2M141.5 235v2M142.5 240v1M143.5 238v1M144.5 238v2M145.5 238v2M146.5 239v1M147.5 238v3M149.5 239v2M150.5 239v3M151.5 239v2M152.5 240v1M153.5 239v2M154.5 239v3M155.5 238v3M158.5 236v2M159.5 232v14M161.5 233v3M162.5 228v15M163.5 238v9M169.5 217v2M170.5 217v1M170.5 220v1M171.5 216v2M171.5 219v1M172.5 216v6M173.5 216v2M173.5 219v3M173.5 231v1M174.5 215v4M174.5 220v2M174.5 228v17M175.5 216v3M175.5 220v1M176.5 215v6M177.5 217v4M178.5 215v6M179.5 215v5M180.5 216v4M180.5 234v2M181.5 216v3M181.5 235v1M182.5 216v4M182.5 235v5M183.5 216v4M184.5 216v3M184.5 234v1M185.5 215v4M185.5 234v1M186.5 216v3M186.5 234v1M187.5 215v5M187.5 235v5M188.5 215v3M189.5 215v4M190.5 216v2M191.5 214v3M191.5 220v1M192.5 215v3M192.5 220v1M193.5 215v2M194.5 212v5M195.5 212v4M196.5 211v5M196.5 240v7M197.5 211v5M197.5 231v10M198.5 210v5M199.5 211v3M199.5 240v8M200.5 211v3M200.5 230v10M201.5 210v2M201.5 241v9M202.5 210v4M202.5 232v18M203.5 209v3M203.5 235v3M204.5 210v2M205.5 210v2M206.5 210v3M206.5 242v4M207.5 209v3M207.5 244v1M208.5 209v3M208.5 243v3M209.5 209v3M209.5 243v2M210.5 208v3M210.5 243v3M210.5 249v1M211.5 209v2M211.5 242v3M211.5 249v2M211.5 254v1M212.5 207v4M212.5 244v2M212.5 248v4M213.5 209v2M213.5 242v4M213.5 248v4M213.5 256v1M214.5 208v4M214.5 244v3M214.5 248v2M214.5 258v4M215.5 209v2M215.5 212v1M215.5 242v4M215.5 248v2M215.5 251v3M216.5 207v5M216.5 243v6M216.5 263v5M217.5 209v2M217.5 244v4M217.5 255v4M218.5 209v3M218.5 244v2M218.5 261v8M219.5 208v4M219.5 243v2M219.5 251v13M220.5 208v3M221.5 208v3M221.5 244v1M222.5 208v3M222.5 243v2M222.5 262v3M223.5 209v2M224.5 209v2M225.5 208v3M225.5 272v2M226.5 208v2M226.5 216v1M226.5 262v2M227.5 207v3M227.5 215v2M227.5 273v2M228.5 207v4M228.5 215v2M228.5 263v4M229.5 208v2M229.5 214v2M229.5 273v2M230.5 207v3M230.5 214v2M230.5 263v3M231.5 208v2M231.5 214v2M231.5 273v9M232.5 207v3M232.5 215v1M232.5 262v15M233.5 208v3M233.5 214v1M233.5 273v3M233.5 291v6M234.5 208v3M234.5 284v14M235.5 207v3M235.5 283v16M236.5 207v4M236.5 284v15M237.5 207v4M237.5 285v14M238.5 206v5M238.5 286v1M239.5 204v1M239.5 206v3M240.5 206v3M242.5 207v1M243.5 207v1M244.5 209v3M244.5 298v4M245.5 208v4M246.5 208v4M247.5 207v4M248.5 208v3M249.5 206v4M250.5 207v4M251.5 206v4M252.5 205v4M253.5 204v4M254.5 205v3M254.5 304v2M255.5 204v4M255.5 295v2M256.5 203v3M256.5 303v3M257.5 202v4M257.5 297v2M258.5 201v3M258.5 205v1M258.5 304v1M258.5 306v1M259.5 200v5M259.5 301v3M260.5 196v1M260.5 199v5M260.5 305v2M261.5 198v6M261.5 303v5M262.5 195v7M262.5 203v1M262.5 262v1M263.5 197v4M263.5 261v3M263.5 306v2M264.5 196v2M264.5 200v1M265.5 195v5M265.5 260v2M265.5 307v3M266.5 195v5M266.5 260v3M266.5 303v6M267.5 195v3M267.5 260v2M267.5 308v1M268.5 194v4M268.5 235v3M268.5 260v3M268.5 306v4M269.5 193v4M269.5 236v3M269.5 260v2M270.5 193v4M270.5 236v2M270.5 260v3M270.5 306v3M270.5 310v1M271.5 194v1M271.5 236v3M271.5 261v1M271.5 269v1M272.5 194v2M272.5 197v1M272.5 234v4M272.5 260v2M273.5 192v3M273.5 236v1M273.5 259v3M273.5 311v1M274.5 192v3M274.5 236v2M274.5 259v2M275.5 192v3M275.5 238v1M275.5 259v2M275.5 311v4M276.5 193v2M276.5 200v2M276.5 237v2M276.5 259v3M276.5 305v8M277.5 192v3M277.5 200v1M277.5 232v1M277.5 236v3M277.5 258v4M277.5 305v1M277.5 310v3M278.5 192v2M278.5 200v1M278.5 233v1M278.5 236v3M278.5 258v2M278.5 306v7M279.5 192v4M279.5 199v1M279.5 236v2M279.5 257v3M279.5 267v1M280.5 192v2M280.5 198v2M280.5 201v1M280.5 232v3M280.5 236v1M280.5 257v2M280.5 266v1M280.5 312v1M281.5 191v4M281.5 198v3M281.5 230v7M281.5 256v2M281.5 266v1M281.5 310v1M281.5 312v1M282.5 191v2M282.5 198v1M282.5 230v5M282.5 236v2M282.5 255v4M282.5 265v1M282.5 310v4M283.5 191v2M283.5 197v3M283.5 230v4M283.5 235v3M283.5 254v3M283.5 264v2M283.5 312v2M284.5 191v2M284.5 197v2M284.5 228v6M284.5 235v1M284.5 255v1M284.5 263v1M284.5 309v6M285.5 190v3M285.5 197v2M285.5 228v2M285.5 232v4M286.5 190v3M286.5 197v3M286.5 228v1M286.5 232v3M286.5 236v3M287.5 190v3M287.5 198v1M287.5 226v2M287.5 232v5M287.5 314v3M288.5 189v4M288.5 198v1M288.5 233v5M288.5 306v3M288.5 314v6M289.5 189v4M289.5 197v2M289.5 227v1M289.5 232v4M289.5 306v12M290.5 189v4M290.5 225v2M290.5 233v4M290.5 281v1M290.5 314v4M291.5 189v5M291.5 231v6M291.5 260v1M291.5 306v4M292.5 190v4M292.5 232v5M292.5 259v2M293.5 184v1M293.5 189v4M293.5 232v4M293.5 260v1M294.5 183v2M294.5 188v4M294.5 233v3M294.5 258v3M294.5 313v2M295.5 183v2M295.5 188v5M295.5 232v4M295.5 258v1M295.5 260v2M295.5 310v7M296.5 183v2M296.5 187v6M296.5 232v3M296.5 259v2M296.5 314v2M297.5 183v3M297.5 187v5M297.5 233v4M297.5 257v1M297.5 259v2M297.5 311v1M298.5 182v4M298.5 188v4M298.5 232v4M298.5 257v5M299.5 182v3M299.5 188v3M299.5 234v2M299.5 257v5M300.5 181v4M300.5 187v6M300.5 233v3M300.5 257v4M301.5 182v4M301.5 187v4M301.5 192v2M301.5 232v3M301.5 236v1M301.5 257v4M301.5 278v2M302.5 163v1M302.5 180v3M302.5 184v8M302.5 233v4M302.5 256v3M302.5 260v1M302.5 265v1M302.5 278v2M303.5 184v5M303.5 190v2M303.5 232v4M303.5 259v2M303.5 263v1M303.5 265v1M303.5 278v1M303.5 310v1M304.5 162v2M304.5 182v1M304.5 184v1M304.5 187v2M304.5 190v1M304.5 195v1M304.5 231v5M304.5 259v1M304.5 266v1M304.5 308v5M305.5 181v9M305.5 191v2M305.5 196v2M305.5 232v4M305.5 265v2M305.5 278v1M306.5 158v1M306.5 185v4M306.5 190v4M306.5 195v1M306.5 231v4M306.5 261v1M306.5 265v1M306.5 277v3M307.5 182v1M307.5 185v10M307.5 232v4M307.5 261v1M307.5 265v1M307.5 277v2M307.5 310v2M308.5 185v11M308.5 220v1M308.5 231v3M308.5 260v2M308.5 307v10M309.5 187v2M309.5 190v4M309.5 195v1M309.5 230v1M309.5 232v2M309.5 311v3M310.5 159v2M310.5 181v1M310.5 187v7M310.5 195v1M310.5 230v4M310.5 235v1M310.5 245v2M310.5 307v5M311.5 187v4M311.5 193v1M311.5 231v3M311.5 237v1M311.5 245v1M312.5 187v3M312.5 192v1M312.5 229v3M312.5 244v2M313.5 183v1M313.5 185v6M313.5 230v3M313.5 235v2M313.5 240v1M313.5 242v2M313.5 245v1M314.5 185v7M314.5 230v10M314.5 241v3M314.5 309v5M315.5 187v2M315.5 190v2M315.5 229v2M315.5 234v7M315.5 242v2M315.5 247v2M315.5 302v8M316.5 184v5M316.5 190v1M316.5 232v8M316.5 241v3M316.5 248v1M316.5 257v1M316.5 276v3M317.5 184v5M317.5 190v1M317.5 231v9M317.5 241v5M317.5 247v3M317.5 257v1M317.5 259v1M317.5 276v2M318.5 186v2M318.5 190v1M318.5 229v5M318.5 236v3M318.5 240v5M318.5 247v2M319.5 184v3M319.5 228v5M319.5 240v6M319.5 247v2M319.5 266v1M320.5 184v2M320.5 189v2M320.5 227v2M320.5 230v1M320.5 240v4M320.5 246v3M320.5 274v1M321.5 184v2M321.5 241v3M321.5 246v3M322.5 184v2M322.5 230v1M322.5 242v2M322.5 247v1M322.5 273v4M323.5 183v2M323.5 241v4M323.5 247v1M323.5 273v4M323.5 308v10M324.5 183v3M324.5 242v2M324.5 273v2M324.5 297v23M325.5 180v4M325.5 241v3M325.5 272v3M325.5 308v10M326.5 180v5M326.5 241v4M326.5 256v1M326.5 272v3M326.5 299v16M327.5 176v2M327.5 179v3M327.5 240v3M327.5 271v3M327.5 303v9M328.5 177v6M328.5 240v3M328.5 306v5M329.5 177v4M329.5 239v5M329.5 309v7M330.5 176v5M330.5 240v3M330.5 312v1M331.5 176v4M331.5 240v2M331.5 270v1M331.5 311v1M332.5 176v3M332.5 239v3M332.5 270v3M332.5 310v3M333.5 176v4M333.5 240v1M333.5 270v2M333.5 310v2M334.5 176v4M334.5 240v2M334.5 309v4M335.5 176v3M335.5 240v1M335.5 309v3M336.5 175v4M336.5 240v3M337.5 175v4M337.5 240v3M337.5 254v1M337.5 309v2M338.5 176v3M338.5 238v5M338.5 255v1M338.5 308v1M338.5 310v1M339.5 175v4M339.5 239v4M339.5 245v2M339.5 255v1M339.5 308v5M340.5 174v5M340.5 241v3M340.5 245v2M340.5 254v1M340.5 310v2M341.5 171v7M341.5 213v1M341.5 241v6M341.5 309v1M342.5 170v6M342.5 242v5M343.5 170v7M343.5 239v1M343.5 241v6M343.5 254v1M343.5 310v2M344.5 169v7M344.5 242v6M344.5 254v1M344.5 310v2M345.5 169v7M345.5 242v6M345.5 254v1M345.5 256v2M345.5 309v5M346.5 169v5M346.5 242v6M346.5 254v1M346.5 311v1M347.5 170v4M347.5 182v1M347.5 184v2M347.5 242v6M347.5 308v5M348.5 169v4M348.5 180v1M348.5 182v5M348.5 242v4M348.5 310v1M349.5 169v5M349.5 178v4M349.5 184v3M349.5 241v7M349.5 309v2M350.5 168v5M350.5 178v3M350.5 185v5M350.5 240v7M350.5 253v2M350.5 309v2M351.5 168v5M351.5 177v2M351.5 186v5M351.5 240v1M351.5 242v4M351.5 308v4M352.5 169v4M352.5 188v3M352.5 242v4M353.5 170v1M353.5 172v1M353.5 189v3M353.5 242v4M353.5 310v1M354.5 169v3M354.5 241v6M355.5 156v2M355.5 170v3M355.5 241v5M356.5 157v2M356.5 170v3M356.5 241v6M357.5 156v4M357.5 169v2M357.5 240v6M357.5 307v3M358.5 158v2M358.5 240v5M359.5 240v3M359.5 244v1M360.5 163v1M360.5 240v2M360.5 306v8M361.5 163v1M361.5 240v2M361.5 304v11M362.5 239v3M362.5 250v2M362.5 254v1M363.5 239v3M363.5 248v8M364.5 239v3M364.5 246v2M364.5 250v1M364.5 252v4M364.5 299v11M365.5 238v2M365.5 253v1M365.5 255v1M365.5 301v12M366.5 237v3M366.5 255v2M366.5 262v3M366.5 301v8M367.5 237v4M367.5 254v3M367.5 262v2M367.5 298v7M368.5 237v3M368.5 254v3M368.5 261v3M369.5 236v3M369.5 256v8M370.5 260v4M371.5 260v4M372.5 261v4M373.5 261v2M374.5 261v2M375.5 261v3M376.5 263v1M377.5 261v3M378.5 261v4M379.5 263v1M380.5 261v3M386.5 256v8M387.5 255v14M388.5 253v16M389.5 262v7M391.5 254v6M392.5 251v17M401.5 249v15M404.5 250v13M407.5 249v12M410.5 246v3M411.5 254v3M413.5 245v2M414.5 252v2M416.5 244v3M421.5 234v5M431.5 227v9M433.5 224v9M435.5 224v10M441.5 221v9M442.5 219v11M444.5 220v10M447.5 221v5M448.5 220v4M449.5 219v5M450.5 218v5M451.5 218v4M455.5 215v2M456.5 216v3M459.5 211v4M460.5 211v4M462.5 210v2M463.5 206v4M465.5 204v4M466.5 205v2M467.5 204v2M468.5 202v3"/>
<path stroke="#8b07f4" d="M139.5 237v2M140.5 233v6M142.5 235v5M143.5 235v3M144.5 236v2M145.5 235v1M145.5 237v1M146.5 236v3M147.5 236v2M148.5 236v4M149.5 237v2M150.5 235v4M151.5 235v4M152.5 236v4M153.5 236v3M154.5 238v1M155.5 237v1M156.5 236v4M157.5 237v1M158.5 235v1M160.5 230v10M161.5 219v2M162.5 218v3M163.5 218v4M169.5 216v1M169.5 229v2M170.5 218v2M170.5 225v21M171.5 218v1M173.5 215v1M174.5 211v4M175.5 215v1M175.5 228v13M177.5 214v3M178.5 233v5M179.5 214v1M180.5 212v4M181.5 214v2M182.5 212v4M183.5 214v2M184.5 214v2M185.5 214v1M186.5 212v4M187.5 212v3M188.5 213v2M189.5 213v2M190.5 213v3M191.5 212v2M192.5 211v4M193.5 212v3M194.5 211v1M195.5 211v1M196.5 210v1M196.5 239v1M197.5 209v2M197.5 229v2M198.5 208v2M198.5 237v5M199.5 208v3M199.5 230v10M200.5 206v5M200.5 240v9M201.5 206v4M201.5 229v12M202.5 208v2M202.5 228v4M203.5 208v1M204.5 206v4M205.5 206v4M205.5 239v4M206.5 208v2M207.5 207v2M207.5 241v3M208.5 206v3M208.5 240v3M209.5 205v4M209.5 240v3M210.5 205v1M210.5 207v1M210.5 241v2M211.5 206v3M211.5 240v2M212.5 206v1M212.5 241v3M213.5 206v3M213.5 252v1M214.5 206v2M214.5 240v1M214.5 242v2M214.5 250v3M215.5 204v5M215.5 250v1M215.5 258v7M216.5 205v2M216.5 240v3M216.5 249v14M217.5 206v3M217.5 241v3M217.5 249v3M218.5 207v2M218.5 243v1M218.5 260v1M219.5 206v2M219.5 241v2M220.5 206v2M220.5 241v2M221.5 205v3M221.5 242v2M222.5 206v2M222.5 241v2M222.5 271v4M223.5 205v4M223.5 241v2M223.5 261v6M224.5 205v4M224.5 269v6M225.5 205v3M225.5 261v11M226.5 204v4M227.5 204v3M227.5 270v3M228.5 206v1M229.5 205v3M229.5 270v3M230.5 205v2M230.5 262v1M231.5 204v4M232.5 189v2M232.5 204v3M233.5 204v4M233.5 286v1M234.5 203v5M234.5 276v2M234.5 279v1M235.5 202v5M236.5 202v5M236.5 260v3M237.5 201v6M238.5 201v5M238.5 293v2M239.5 201v3M239.5 205v1M239.5 289v2M240.5 200v6M241.5 199v8M242.5 199v8M242.5 292v1M242.5 297v8M243.5 199v8M243.5 287v8M244.5 197v12M245.5 197v11M246.5 194v1M246.5 196v12M247.5 194v1M247.5 197v10M248.5 195v4M248.5 201v7M248.5 297v6M249.5 194v1M249.5 196v3M249.5 200v6M250.5 194v4M250.5 201v6M251.5 194v4M251.5 200v6M251.5 300v10M252.5 195v2M252.5 199v6M252.5 288v15M253.5 195v3M253.5 201v3M254.5 195v3M254.5 199v6M254.5 302v2M255.5 195v4M255.5 201v3M256.5 195v8M257.5 195v7M258.5 194v7M259.5 194v6M259.5 300v1M260.5 193v3M260.5 197v2M260.5 302v3M261.5 194v4M261.5 301v2M262.5 193v2M262.5 259v3M263.5 193v4M263.5 258v3M263.5 302v4M264.5 193v3M265.5 192v3M265.5 259v1M265.5 306v1M266.5 192v3M266.5 258v2M267.5 192v3M267.5 258v2M267.5 305v2M268.5 177v1M268.5 191v3M268.5 257v3M268.5 303v3M269.5 191v2M269.5 258v2M269.5 303v4M270.5 190v3M270.5 257v3M270.5 305v1M271.5 191v3M271.5 257v4M271.5 270v2M271.5 304v3M272.5 189v5M272.5 256v4M272.5 268v5M272.5 307v2M273.5 190v2M273.5 256v3M273.5 268v3M273.5 304v7M274.5 190v2M274.5 257v2M275.5 191v1M275.5 256v3M275.5 308v3M276.5 174v1M276.5 190v3M276.5 256v3M276.5 268v1M276.5 303v1M277.5 189v3M277.5 256v2M277.5 268v3M277.5 309v1M278.5 189v3M278.5 255v3M278.5 267v2M279.5 173v2M279.5 190v2M279.5 255v2M280.5 189v3M280.5 255v2M280.5 308v4M281.5 173v2M281.5 189v2M281.5 251v1M281.5 253v3M281.5 280v2M282.5 173v1M282.5 189v2M282.5 252v3M282.5 266v1M282.5 308v2M283.5 171v3M283.5 187v4M283.5 310v1M284.5 171v3M284.5 188v3M284.5 264v2M285.5 170v1M285.5 172v1M285.5 188v2M285.5 230v2M285.5 263v3M285.5 310v3M286.5 170v1M286.5 186v4M286.5 229v3M286.5 263v3M286.5 306v1M287.5 168v1M287.5 187v3M287.5 228v4M287.5 262v4M287.5 279v2M287.5 310v2M288.5 170v1M288.5 187v2M288.5 227v6M288.5 261v3M288.5 278v1M289.5 186v3M289.5 228v4M289.5 261v3M289.5 278v3M290.5 186v3M290.5 227v6M290.5 261v1M290.5 278v3M291.5 181v8M291.5 226v5M291.5 261v2M291.5 264v2M291.5 278v2M291.5 310v3M292.5 180v1M292.5 182v8M292.5 225v1M292.5 229v3M292.5 261v5M292.5 306v9M293.5 165v1M293.5 181v3M293.5 185v4M293.5 224v2M293.5 229v3M293.5 261v4M293.5 308v1M293.5 312v2M294.5 162v4M294.5 179v4M294.5 185v3M294.5 228v5M294.5 261v5M294.5 308v2M295.5 163v1M295.5 177v6M295.5 185v3M295.5 230v2M295.5 259v1M295.5 262v4M295.5 277v1M296.5 178v5M296.5 185v2M296.5 229v3M296.5 258v1M296.5 261v7M296.5 311v1M297.5 164v2M297.5 177v6M297.5 186v1M297.5 228v5M297.5 258v1M297.5 261v8M297.5 309v2M298.5 176v6M298.5 186v2M298.5 230v2M298.5 262v7M298.5 310v5M299.5 176v6M299.5 185v3M299.5 229v5M299.5 262v8M299.5 276v2M300.5 176v5M300.5 185v2M300.5 230v3M300.5 261v8M300.5 275v3M301.5 177v5M301.5 186v1M301.5 230v2M301.5 261v8M301.5 275v3M302.5 176v4M302.5 183v1M302.5 228v5M302.5 261v4M302.5 266v3M302.5 275v3M302.5 308v8M303.5 176v8M303.5 227v5M303.5 261v2M303.5 264v1M303.5 266v1M303.5 275v3M304.5 161v1M304.5 176v6M304.5 183v1M304.5 185v2M304.5 228v3M304.5 260v6M304.5 275v1M305.5 160v3M305.5 178v3M305.5 226v1M305.5 228v4M305.5 259v6M305.5 275v3M306.5 177v8M306.5 229v2M306.5 259v2M306.5 262v3M306.5 274v3M307.5 161v1M307.5 177v5M307.5 183v2M307.5 228v4M307.5 259v2M307.5 262v3M307.5 274v3M307.5 307v3M308.5 160v2M308.5 175v3M308.5 179v6M308.5 221v1M308.5 228v3M308.5 259v1M308.5 262v3M308.5 274v1M309.5 159v4M309.5 176v2M309.5 179v8M309.5 228v2M309.5 231v1M309.5 258v7M309.5 273v4M310.5 176v5M310.5 182v5M310.5 227v3M310.5 258v7M310.5 274v1M311.5 160v2M311.5 176v11M311.5 225v6M311.5 258v7M312.5 175v5M312.5 181v6M312.5 225v4M312.5 258v7M313.5 176v7M313.5 184v1M313.5 226v4M313.5 258v7M313.5 272v1M314.5 176v1M314.5 180v1M314.5 182v3M314.5 226v4M314.5 257v9M314.5 273v1M315.5 175v1M315.5 181v6M315.5 226v3M315.5 241v1M315.5 257v11M315.5 272v2M316.5 174v2M316.5 181v3M316.5 225v7M316.5 240v1M316.5 258v3M316.5 262v7M316.5 273v3M317.5 181v3M317.5 227v4M317.5 240v1M317.5 258v1M317.5 262v6M317.5 272v4M318.5 174v2M318.5 181v5M318.5 226v3M318.5 234v2M318.5 239v1M318.5 257v4M318.5 262v6M318.5 271v3M318.5 305v8M319.5 180v4M319.5 225v3M319.5 233v7M319.5 257v4M319.5 262v4M319.5 267v1M319.5 271v2M319.5 295v23M320.5 180v4M320.5 225v2M320.5 231v9M320.5 257v4M320.5 262v6M320.5 271v3M320.5 308v4M321.5 180v4M321.5 225v9M321.5 236v5M321.5 257v11M321.5 270v4M322.5 181v3M322.5 223v7M322.5 231v1M322.5 233v9M322.5 257v11M322.5 270v3M322.5 303v9M323.5 175v1M323.5 177v6M323.5 221v3M323.5 225v1M323.5 227v3M323.5 233v2M323.5 237v4M323.5 256v4M323.5 262v5M323.5 269v4M323.5 293v15M324.5 175v8M324.5 225v1M324.5 228v2M324.5 233v1M324.5 237v5M324.5 257v3M324.5 264v3M324.5 270v3M325.5 159v1M325.5 175v5M325.5 223v2M325.5 226v1M325.5 228v1M325.5 236v5M325.5 257v2M325.5 269v3M326.5 159v1M326.5 175v5M326.5 228v1M326.5 236v5M326.5 257v3M326.5 269v3M327.5 174v2M327.5 178v1M327.5 227v2M327.5 238v2M327.5 255v4M327.5 268v3M328.5 174v3M328.5 227v1M328.5 237v3M328.5 255v4M328.5 268v4M329.5 174v3M329.5 237v2M329.5 255v3M329.5 268v3M330.5 159v1M330.5 174v2M330.5 236v4M330.5 255v2M330.5 267v4M330.5 310v2M331.5 173v3M331.5 237v3M331.5 255v2M331.5 267v3M331.5 310v1M332.5 173v3M332.5 237v2M332.5 255v2M332.5 266v4M332.5 308v2M333.5 171v5M333.5 236v4M333.5 254v3M333.5 266v4M333.5 308v2M334.5 171v5M334.5 237v3M334.5 254v3M334.5 266v2M334.5 307v2M335.5 170v6M335.5 237v3M335.5 254v3M335.5 307v2M336.5 169v6M336.5 236v4M336.5 254v2M336.5 307v4M337.5 169v6M337.5 235v5M337.5 255v2M337.5 308v1M338.5 169v7M338.5 236v2M338.5 256v1M338.5 306v1M338.5 309v1M339.5 168v7M339.5 216v1M339.5 236v3M339.5 256v1M340.5 167v7M340.5 236v5M340.5 255v2M340.5 309v1M341.5 167v4M341.5 237v4M341.5 255v2M341.5 307v1M341.5 310v1M342.5 167v3M342.5 236v6M342.5 255v2M342.5 307v5M343.5 166v4M343.5 237v2M343.5 240v1M343.5 255v3M343.5 263v1M343.5 309v1M344.5 166v3M344.5 236v6M344.5 255v3M344.5 307v3M345.5 166v3M345.5 238v4M345.5 255v1M345.5 307v2M346.5 166v3M346.5 236v6M346.5 307v4M347.5 165v5M347.5 237v5M348.5 163v6M348.5 238v4M348.5 306v4M349.5 162v7M349.5 182v2M349.5 237v4M349.5 308v1M350.5 162v6M350.5 181v4M350.5 238v2M350.5 307v2M351.5 153v1M351.5 160v1M351.5 162v6M351.5 179v1M351.5 182v4M351.5 237v3M351.5 241v1M351.5 306v1M352.5 152v4M352.5 157v12M352.5 176v2M352.5 182v3M352.5 186v2M352.5 237v5M352.5 309v1M353.5 153v3M353.5 157v13M353.5 175v3M353.5 186v3M353.5 238v4M353.5 307v3M354.5 153v1M354.5 155v2M354.5 158v11M354.5 175v1M354.5 238v3M354.5 307v2M355.5 154v2M355.5 158v12M355.5 174v2M355.5 238v3M355.5 307v4M356.5 154v3M356.5 159v11M356.5 237v4M357.5 153v3M357.5 160v9M357.5 238v2M358.5 161v8M358.5 238v2M358.5 303v6M359.5 161v7M359.5 237v3M359.5 309v3M360.5 161v2M360.5 164v2M360.5 236v4M361.5 161v2M361.5 164v2M361.5 236v4M362.5 235v4M363.5 237v2M364.5 236v3M364.5 248v2M364.5 251v1M365.5 236v2M365.5 249v4M365.5 254v1M366.5 235v2M366.5 249v6M367.5 235v2M367.5 252v2M368.5 236v1M368.5 250v4M369.5 235v1M369.5 251v5M370.5 234v1M370.5 252v8M371.5 256v4M372.5 258v3M373.5 260v1M374.5 259v2M375.5 260v1M376.5 259v4M378.5 259v2M379.5 259v4M380.5 259v2M381.5 260v2M382.5 260v1M388.5 252v1M389.5 250v12M390.5 251v18M391.5 260v8M392.5 250v1M393.5 248v20M396.5 250v17M404.5 245v3M405.5 259v3M407.5 245v3M408.5 255v3M411.5 245v9M414.5 242v10M415.5 244v8M419.5 237v9M420.5 234v4M422.5 229v9M424.5 227v2M425.5 236v2M427.5 227v10M429.5 226v9M431.5 224v2M432.5 230v2M437.5 220v10M439.5 220v10M445.5 218v8M448.5 217v3M450.5 213v5M451.5 216v2M452.5 214v5M453.5 212v7M455.5 210v5M456.5 213v3M457.5 213v4M458.5 211v5M461.5 208v5M464.5 204v4M466.5 203v2M467.5 200v4"/>
<path stroke="#8f08ec" d="M137.5 234v4M138.5 223v1M138.5 236v5M139.5 226v1M139.5 228v6M139.5 235v2M140.5 231v2M142.5 233v2M143.5 234v1M144.5 234v2M145.5 233v2M145.5 236v1M146.5 234v2M147.5 233v3M148.5 235v1M149.5 234v3M151.5 234v1M152.5 234v2M153.5 234v2M154.5 235v3M155.5 233v4M156.5 235v1M157.5 235v2M162.5 227v1M163.5 224v14M164.5 236v8M175.5 211v4M176.5 207v1M176.5 211v4M176.5 230v5M177.5 210v4M178.5 212v3M179.5 212v2M179.5 234v1M181.5 210v4M183.5 211v3M184.5 210v4M185.5 210v4M188.5 211v2M189.5 211v2M190.5 210v3M191.5 207v5M192.5 209v2M193.5 208v4M194.5 209v2M195.5 209v2M196.5 207v3M197.5 207v2M198.5 207v1M198.5 236v1M199.5 207v1M202.5 205v3M203.5 204v4M204.5 205v1M205.5 203v3M205.5 238v1M206.5 204v4M206.5 238v4M207.5 204v3M207.5 238v3M208.5 197v1M208.5 203v3M208.5 239v1M209.5 200v5M209.5 238v2M210.5 200v5M210.5 206v1M210.5 238v3M211.5 198v2M211.5 203v3M211.5 237v3M212.5 201v5M212.5 237v4M213.5 199v1M213.5 201v5M213.5 238v4M214.5 199v7M214.5 237v3M214.5 241v1M215.5 198v6M215.5 238v4M216.5 197v8M216.5 237v3M217.5 196v1M217.5 199v7M217.5 239v2M217.5 259v9M218.5 199v8M218.5 238v5M218.5 248v12M219.5 203v3M219.5 239v2M219.5 248v1M220.5 198v1M220.5 201v5M220.5 240v1M221.5 196v4M221.5 203v2M221.5 239v3M221.5 258v12M222.5 198v8M222.5 239v2M222.5 245v17M222.5 268v3M223.5 198v4M223.5 203v2M223.5 238v3M223.5 256v4M224.5 198v3M224.5 203v2M224.5 258v2M224.5 261v1M225.5 198v4M225.5 203v2M226.5 197v4M226.5 202v2M227.5 189v3M227.5 198v2M227.5 201v3M228.5 192v1M228.5 197v3M228.5 202v4M229.5 190v2M229.5 195v3M229.5 199v1M229.5 201v4M230.5 198v7M231.5 199v5M231.5 269v4M232.5 198v6M233.5 190v1M233.5 198v6M233.5 270v3M233.5 287v4M234.5 197v6M234.5 261v1M234.5 280v4M235.5 197v5M235.5 281v1M236.5 197v5M237.5 198v3M238.5 197v4M238.5 260v1M239.5 191v1M239.5 197v4M240.5 194v1M240.5 196v4M240.5 289v2M241.5 194v5M241.5 290v3M242.5 187v1M242.5 193v6M242.5 289v3M243.5 193v6M243.5 295v11M244.5 193v4M244.5 282v16M245.5 192v5M246.5 192v2M246.5 195v1M247.5 192v2M247.5 195v2M248.5 190v5M248.5 199v2M249.5 188v1M249.5 191v3M249.5 195v1M249.5 199v1M250.5 189v5M250.5 198v3M251.5 189v5M251.5 198v2M251.5 298v2M252.5 188v7M252.5 197v2M253.5 188v7M253.5 198v3M254.5 184v2M254.5 187v8M254.5 198v1M254.5 286v16M255.5 188v7M255.5 199v2M256.5 186v4M256.5 191v4M256.5 300v3M257.5 188v1M257.5 191v4M257.5 295v2M258.5 187v2M258.5 191v3M258.5 258v1M258.5 298v3M259.5 187v1M259.5 189v5M260.5 186v1M260.5 189v1M260.5 191v2M260.5 299v3M261.5 186v2M261.5 189v5M261.5 256v3M261.5 299v2M262.5 185v2M262.5 190v3M262.5 255v4M262.5 298v6M263.5 177v1M263.5 186v2M263.5 189v4M263.5 256v2M264.5 185v1M264.5 187v6M264.5 257v3M264.5 302v2M265.5 178v2M265.5 184v1M265.5 188v4M265.5 257v2M265.5 301v4M266.5 179v1M266.5 188v4M266.5 256v2M267.5 175v4M267.5 180v1M267.5 188v4M267.5 255v3M267.5 301v3M268.5 176v1M268.5 188v3M268.5 256v1M269.5 176v2M269.5 187v4M269.5 256v2M269.5 302v1M270.5 175v2M270.5 187v3M270.5 255v2M270.5 304v1M271.5 175v1M271.5 187v4M271.5 255v2M271.5 302v2M272.5 176v1M272.5 187v2M272.5 254v2M272.5 303v1M272.5 305v2M273.5 187v3M273.5 254v2M274.5 175v2M274.5 187v3M274.5 255v2M275.5 173v5M275.5 186v5M275.5 255v1M275.5 306v2M276.5 173v1M276.5 186v4M276.5 254v2M277.5 173v2M277.5 185v4M277.5 253v3M278.5 168v2M278.5 172v3M278.5 187v2M278.5 253v2M278.5 269v6M279.5 168v5M279.5 186v4M279.5 252v3M279.5 268v2M279.5 272v5M280.5 166v8M280.5 186v3M280.5 251v4M280.5 267v3M280.5 272v7M280.5 306v2M281.5 167v6M281.5 186v3M281.5 252v1M281.5 267v3M281.5 273v7M281.5 307v3M282.5 168v5M282.5 186v3M282.5 267v3M282.5 272v6M283.5 166v5M283.5 186v1M283.5 266v4M283.5 273v2M283.5 306v1M283.5 308v2M284.5 167v4M284.5 174v1M284.5 178v1M284.5 186v2M284.5 266v3M285.5 165v5M285.5 171v1M285.5 173v3M285.5 178v3M285.5 185v3M285.5 266v3M285.5 275v1M285.5 308v1M286.5 166v4M286.5 171v4M286.5 179v1M286.5 184v2M286.5 266v3M286.5 271v1M286.5 275v4M287.5 167v1M287.5 169v6M287.5 177v5M287.5 183v4M287.5 266v2M287.5 275v4M288.5 166v4M288.5 171v6M288.5 178v9M288.5 264v4M288.5 275v3M288.5 309v3M289.5 165v7M289.5 173v4M289.5 178v8M289.5 264v5M289.5 274v4M289.5 304v1M290.5 167v1M290.5 172v14M290.5 262v6M290.5 269v1M290.5 274v4M290.5 309v3M291.5 164v2M291.5 169v1M291.5 172v9M291.5 263v1M291.5 266v4M291.5 274v4M292.5 163v6M292.5 173v7M292.5 181v1M292.5 226v3M292.5 266v4M292.5 274v3M293.5 162v1M293.5 164v1M293.5 168v1M293.5 174v7M293.5 226v3M293.5 265v5M294.5 173v6M294.5 223v5M294.5 266v4M294.5 274v3M294.5 307v1M295.5 161v2M295.5 164v3M295.5 175v2M295.5 225v5M295.5 266v4M295.5 273v4M295.5 308v2M296.5 163v1M296.5 173v5M296.5 226v3M296.5 268v2M296.5 273v2M296.5 308v3M297.5 161v3M297.5 174v3M297.5 225v3M297.5 269v1M298.5 159v6M298.5 174v2M298.5 224v6M298.5 269v1M298.5 272v3M298.5 309v1M299.5 159v5M299.5 173v3M299.5 222v1M299.5 225v4M299.5 272v4M300.5 155v10M300.5 172v4M300.5 221v1M300.5 227v3M300.5 269v1M300.5 271v4M300.5 309v2M301.5 159v4M301.5 173v4M301.5 226v4M301.5 269v6M301.5 309v1M302.5 159v4M302.5 172v4M302.5 225v3M302.5 269v6M303.5 157v6M303.5 174v2M303.5 225v2M303.5 267v8M304.5 158v3M304.5 173v3M304.5 225v3M304.5 267v8M305.5 159v1M305.5 173v5M305.5 221v1M305.5 224v2M305.5 227v1M305.5 267v8M305.5 308v1M306.5 155v3M306.5 159v2M306.5 172v5M306.5 222v2M306.5 225v4M306.5 266v8M306.5 306v3M307.5 155v6M307.5 173v4M307.5 221v1M307.5 223v1M307.5 225v3M307.5 266v8M308.5 158v2M308.5 173v2M308.5 178v1M308.5 224v4M308.5 267v7M309.5 172v4M309.5 178v1M309.5 223v5M309.5 266v7M310.5 157v2M310.5 161v2M310.5 173v3M310.5 219v2M310.5 224v3M310.5 266v8M311.5 159v1M311.5 163v1M311.5 172v4M311.5 217v2M311.5 223v2M311.5 265v7M312.5 158v2M312.5 173v2M312.5 180v1M312.5 217v4M312.5 223v2M312.5 265v6M312.5 304v5M313.5 158v3M313.5 163v2M313.5 172v4M313.5 218v1M313.5 223v3M313.5 265v7M313.5 297v19M314.5 154v5M314.5 162v2M314.5 173v3M314.5 177v3M314.5 181v1M314.5 216v3M314.5 223v3M314.5 266v7M314.5 306v3M315.5 158v1M315.5 162v2M315.5 172v3M315.5 176v5M315.5 218v1M315.5 223v3M315.5 268v4M316.5 157v2M316.5 162v2M316.5 172v2M316.5 176v5M316.5 217v3M316.5 222v3M316.5 261v1M316.5 269v4M317.5 163v1M317.5 171v10M317.5 220v1M317.5 223v4M317.5 260v2M317.5 268v4M318.5 160v1M318.5 163v1M318.5 171v3M318.5 176v5M318.5 219v3M318.5 224v2M318.5 261v1M318.5 268v3M319.5 160v4M319.5 169v11M319.5 224v1M319.5 261v1M319.5 268v3M320.5 158v6M320.5 169v1M320.5 172v8M320.5 219v2M320.5 224v1M320.5 261v1M320.5 268v3M321.5 158v1M321.5 161v3M321.5 168v2M321.5 172v8M321.5 223v2M321.5 234v2M321.5 268v2M322.5 161v2M322.5 169v1M322.5 173v8M322.5 221v2M322.5 232v1M322.5 268v2M323.5 161v3M323.5 168v2M323.5 172v3M323.5 176v1M323.5 224v1M323.5 226v1M323.5 230v3M323.5 235v2M323.5 260v2M323.5 267v2M324.5 160v1M324.5 162v1M324.5 172v3M324.5 219v6M324.5 226v2M324.5 230v3M324.5 234v3M324.5 260v4M324.5 267v3M325.5 167v1M325.5 172v3M325.5 220v3M325.5 225v1M325.5 227v1M325.5 229v7M325.5 259v10M326.5 157v2M326.5 161v1M326.5 172v3M326.5 220v8M326.5 230v6M326.5 260v9M327.5 156v5M327.5 162v2M327.5 171v3M327.5 221v6M327.5 230v3M327.5 234v4M327.5 259v9M328.5 149v15M328.5 170v4M328.5 219v3M328.5 223v4M328.5 231v2M328.5 234v3M328.5 262v6M329.5 157v3M329.5 162v2M329.5 169v1M329.5 171v3M329.5 219v2M329.5 224v3M329.5 234v3M329.5 263v5M329.5 307v2M330.5 155v4M330.5 161v2M330.5 169v5M330.5 221v1M330.5 224v2M330.5 233v3M330.5 262v5M330.5 309v1M331.5 159v1M331.5 168v5M331.5 220v2M331.5 223v1M331.5 235v2M331.5 262v5M331.5 306v4M332.5 157v1M332.5 167v6M332.5 219v3M332.5 233v4M332.5 262v4M332.5 306v2M333.5 155v3M333.5 167v4M333.5 234v2M333.5 262v4M333.5 304v4M334.5 162v1M334.5 166v5M334.5 233v4M334.5 262v4M334.5 306v1M335.5 167v3M335.5 234v3M335.5 262v1M335.5 304v3M336.5 166v3M336.5 234v2M336.5 304v3M337.5 166v3M337.5 304v4M338.5 165v4M338.5 234v2M338.5 307v1M339.5 165v3M339.5 233v3M339.5 262v1M339.5 304v2M339.5 307v1M340.5 163v4M340.5 213v4M340.5 233v3M340.5 257v1M340.5 260v4M340.5 305v4M341.5 164v3M341.5 214v2M341.5 234v3M341.5 257v1M341.5 308v1M342.5 164v3M342.5 232v4M342.5 257v1M342.5 260v4M342.5 305v2M343.5 157v3M343.5 163v3M343.5 234v3M343.5 258v5M343.5 304v5M344.5 159v1M344.5 162v4M344.5 234v2M344.5 258v3M344.5 306v1M345.5 159v1M345.5 162v4M345.5 234v4M345.5 304v3M346.5 157v3M346.5 161v5M346.5 234v2M346.5 304v3M347.5 158v7M347.5 234v3M347.5 305v3M348.5 159v4M348.5 236v2M349.5 157v5M349.5 235v2M349.5 304v4M350.5 150v2M350.5 156v1M350.5 158v4M350.5 235v3M350.5 306v1M351.5 151v2M351.5 156v4M351.5 161v1M351.5 180v2M351.5 234v3M351.5 304v1M351.5 307v1M352.5 156v1M352.5 178v4M352.5 185v1M352.5 234v3M352.5 305v4M353.5 156v1M353.5 181v5M353.5 236v2M354.5 154v1M354.5 157v1M354.5 183v4M354.5 235v3M354.5 305v2M355.5 184v1M355.5 235v3M355.5 305v2M356.5 173v1M356.5 235v2M356.5 304v5M357.5 233v5M357.5 306v1M358.5 234v4M359.5 233v4M360.5 233v3M361.5 234v2M362.5 234v1M363.5 233v4M364.5 232v4M365.5 233v3M365.5 246v3M366.5 232v3M366.5 244v2M366.5 247v2M367.5 232v3M367.5 250v2M368.5 232v4M368.5 247v3M369.5 232v3M369.5 250v1M370.5 232v2M370.5 249v2M371.5 253v1M371.5 255v1M372.5 254v4M373.5 257v3M374.5 255v4M375.5 256v4M376.5 258v1M377.5 256v5M378.5 256v3M379.5 257v2M380.5 256v1M380.5 258v1M381.5 257v3M382.5 258v2M383.5 257v3M384.5 257v1M393.5 247v1M394.5 245v22M395.5 247v20M400.5 247v16M405.5 243v16M412.5 244v7M418.5 236v12M427.5 223v2M428.5 231v2M434.5 220v9M435.5 220v2M436.5 227v2M446.5 217v5M447.5 214v7M448.5 212v5M449.5 214v5M454.5 212v3M456.5 210v3M459.5 208v3M460.5 201v3M460.5 205v6M462.5 205v5M464.5 198v6M465.5 201v3M466.5 200v3"/>
<path stroke="#9209e1" d="M139.5 234v1M140.5 228v3M141.5 231v4M143.5 231v3M144.5 229v5M145.5 230v3M146.5 231v3M147.5 232v1M148.5 231v4M149.5 231v3M150.5 231v4M151.5 233v1M152.5 232v2M153.5 232v2M154.5 233v2M155.5 232v1M156.5 233v2M157.5 232v3M158.5 231v2M158.5 234v1M160.5 229v1M161.5 227v6M164.5 227v9M165.5 235v1M166.5 224v6M167.5 216v28M170.5 223v2M171.5 220v23M175.5 210v1M176.5 208v3M177.5 209v1M178.5 209v3M178.5 232v1M179.5 209v3M180.5 209v3M181.5 207v3M182.5 205v2M182.5 208v4M183.5 210v1M184.5 209v1M185.5 209v1M186.5 208v4M187.5 210v2M188.5 208v3M189.5 208v3M193.5 205v2M194.5 202v7M195.5 203v6M196.5 204v3M197.5 204v3M198.5 204v3M199.5 203v4M200.5 203v3M201.5 202v4M202.5 201v4M203.5 203v1M204.5 201v4M204.5 236v3M205.5 202v1M205.5 235v3M206.5 200v4M206.5 236v2M207.5 202v2M207.5 234v4M208.5 201v2M208.5 235v4M209.5 197v3M209.5 235v3M210.5 197v3M210.5 236v2M211.5 197v1M211.5 200v3M211.5 236v1M212.5 195v6M212.5 235v2M213.5 195v4M213.5 200v1M213.5 235v3M214.5 196v3M214.5 235v2M215.5 195v3M215.5 236v2M215.5 254v2M216.5 194v3M216.5 236v1M217.5 191v5M217.5 197v2M217.5 236v3M218.5 194v5M218.5 237v1M219.5 195v8M219.5 236v3M220.5 194v4M220.5 199v2M220.5 237v3M220.5 257v11M221.5 194v2M221.5 200v3M221.5 236v3M221.5 246v12M222.5 193v5M222.5 236v3M223.5 196v2M223.5 202v1M223.5 235v3M223.5 267v2M224.5 192v2M224.5 195v3M224.5 201v2M224.5 235v4M224.5 263v6M225.5 188v10M225.5 202v1M225.5 257v3M226.5 189v8M226.5 201v1M226.5 267v4M227.5 192v2M227.5 196v2M227.5 200v1M227.5 261v9M228.5 195v2M228.5 200v2M228.5 267v4M229.5 187v3M229.5 192v1M229.5 198v1M229.5 200v1M229.5 264v6M230.5 188v3M230.5 195v3M231.5 186v5M231.5 195v4M232.5 193v5M233.5 188v2M233.5 192v6M234.5 189v8M235.5 187v1M235.5 189v3M235.5 194v3M235.5 282v1M236.5 185v3M236.5 190v7M236.5 257v3M237.5 190v1M237.5 194v4M238.5 187v1M238.5 189v2M238.5 192v5M238.5 258v1M238.5 284v2M239.5 184v7M239.5 192v5M239.5 285v4M240.5 186v8M240.5 195v1M240.5 286v3M241.5 186v8M241.5 287v3M242.5 186v1M242.5 188v1M242.5 191v2M242.5 287v2M243.5 183v5M243.5 191v2M244.5 183v10M245.5 184v8M246.5 186v6M247.5 185v7M248.5 185v5M249.5 184v4M249.5 189v2M250.5 183v6M251.5 183v6M251.5 296v2M252.5 184v4M252.5 282v1M253.5 182v6M254.5 186v1M255.5 184v4M255.5 297v2M256.5 181v5M256.5 190v1M256.5 293v7M257.5 184v4M257.5 189v2M258.5 180v1M258.5 183v4M258.5 189v2M258.5 257v1M258.5 296v2M259.5 179v2M259.5 182v1M259.5 184v3M259.5 188v1M259.5 254v1M259.5 256v3M259.5 297v3M260.5 176v2M260.5 181v5M260.5 187v2M260.5 190v1M260.5 253v5M260.5 297v2M261.5 183v3M261.5 188v1M261.5 255v1M261.5 296v3M262.5 183v2M262.5 187v3M262.5 296v2M263.5 172v1M263.5 182v4M263.5 188v1M263.5 255v1M263.5 296v2M263.5 299v3M264.5 173v2M264.5 180v5M264.5 186v1M264.5 253v4M264.5 299v3M265.5 173v5M265.5 180v4M265.5 185v3M265.5 256v1M266.5 174v5M266.5 180v8M266.5 252v4M266.5 301v2M267.5 171v4M267.5 179v1M267.5 182v6M267.5 253v2M268.5 173v3M268.5 178v3M268.5 185v3M268.5 253v3M268.5 301v2M269.5 178v2M269.5 183v4M269.5 254v2M269.5 299v3M270.5 173v2M270.5 178v1M270.5 182v5M270.5 253v2M270.5 299v1M270.5 301v3M271.5 172v3M271.5 176v3M271.5 181v1M271.5 183v4M271.5 252v3M272.5 172v4M272.5 177v2M272.5 183v4M272.5 253v1M272.5 300v1M272.5 302v1M272.5 304v1M273.5 171v7M273.5 184v3M273.5 252v2M273.5 300v1M273.5 302v1M274.5 173v2M274.5 177v1M274.5 184v3M274.5 253v2M274.5 304v1M275.5 169v4M275.5 183v3M275.5 251v4M275.5 303v3M276.5 165v3M276.5 171v2M276.5 175v2M276.5 183v3M276.5 250v4M277.5 167v6M277.5 175v2M277.5 184v1M277.5 252v1M278.5 164v4M278.5 170v2M278.5 175v5M278.5 183v4M278.5 249v4M278.5 303v3M279.5 167v1M279.5 175v4M279.5 182v4M279.5 250v2M279.5 270v2M279.5 303v5M280.5 174v6M280.5 182v4M280.5 270v2M281.5 165v2M281.5 175v5M281.5 182v4M281.5 270v3M281.5 304v3M282.5 167v1M282.5 174v6M282.5 181v5M282.5 270v2M282.5 304v4M283.5 163v3M283.5 174v12M283.5 270v3M283.5 305v1M283.5 307v1M284.5 164v3M284.5 175v3M284.5 179v1M284.5 181v5M284.5 269v5M284.5 305v4M285.5 164v1M285.5 176v2M285.5 181v4M285.5 269v6M285.5 306v2M286.5 162v4M286.5 175v4M286.5 180v4M286.5 269v2M286.5 272v3M286.5 307v1M287.5 165v2M287.5 175v2M287.5 182v1M287.5 268v7M287.5 305v5M288.5 163v3M288.5 177v1M288.5 268v7M289.5 163v2M289.5 172v1M289.5 177v1M289.5 269v5M290.5 162v5M290.5 168v4M290.5 268v1M290.5 270v4M291.5 163v1M291.5 166v3M291.5 170v2M291.5 270v4M292.5 161v1M292.5 169v4M292.5 270v4M293.5 161v1M293.5 163v1M293.5 166v2M293.5 169v5M293.5 270v4M294.5 160v2M294.5 166v7M294.5 270v4M295.5 160v1M295.5 167v8M295.5 224v1M295.5 270v3M295.5 307v1M296.5 159v4M296.5 164v9M296.5 223v3M296.5 270v3M296.5 306v1M297.5 160v1M297.5 166v2M297.5 169v5M297.5 224v1M297.5 270v2M297.5 308v1M298.5 165v9M298.5 222v2M298.5 270v2M298.5 306v3M299.5 164v3M299.5 168v5M299.5 223v2M299.5 270v2M299.5 308v3M300.5 165v2M300.5 168v4M300.5 222v5M300.5 270v1M301.5 158v1M301.5 163v4M301.5 170v3M301.5 224v2M301.5 307v2M302.5 156v3M302.5 166v1M302.5 169v3M302.5 223v2M302.5 306v2M303.5 163v2M303.5 166v2M303.5 170v4M303.5 223v2M303.5 306v4M304.5 153v1M304.5 164v1M304.5 166v7M304.5 222v3M304.5 306v2M305.5 154v5M305.5 163v1M305.5 166v7M305.5 222v2M306.5 162v2M306.5 165v7M306.5 221v1M306.5 224v1M307.5 163v10M307.5 222v1M307.5 224v1M308.5 162v11M308.5 222v2M308.5 265v2M308.5 306v1M309.5 155v4M309.5 163v9M309.5 220v3M309.5 265v1M309.5 305v6M310.5 156v1M310.5 163v10M310.5 221v3M310.5 265v1M310.5 306v1M311.5 154v5M311.5 162v1M311.5 164v3M311.5 168v4M311.5 219v4M311.5 303v3M312.5 160v13M312.5 221v2M312.5 299v5M313.5 155v3M313.5 161v2M313.5 165v2M313.5 168v4M313.5 217v1M313.5 219v4M314.5 159v3M314.5 165v8M314.5 221v2M315.5 155v2M315.5 159v3M315.5 164v2M315.5 169v3M315.5 216v2M315.5 219v4M316.5 155v2M316.5 159v3M316.5 164v2M316.5 167v5M316.5 220v2M317.5 157v6M317.5 164v7M317.5 217v3M317.5 221v2M317.5 299v6M318.5 158v2M318.5 161v2M318.5 164v1M318.5 166v5M318.5 216v2M318.5 222v2M318.5 292v13M319.5 157v3M319.5 164v5M319.5 217v7M320.5 156v2M320.5 165v4M320.5 170v2M320.5 217v2M320.5 221v3M321.5 156v2M321.5 159v2M321.5 165v3M321.5 170v2M321.5 217v6M322.5 156v2M322.5 159v2M322.5 163v1M322.5 165v4M322.5 170v3M322.5 219v2M323.5 156v5M323.5 164v4M323.5 170v2M323.5 217v4M324.5 153v3M324.5 158v2M324.5 161v1M324.5 163v9M324.5 217v2M325.5 156v3M325.5 160v7M325.5 168v4M325.5 218v2M326.5 160v1M326.5 162v10M326.5 216v4M326.5 229v1M327.5 154v2M327.5 161v1M327.5 164v7M327.5 218v3M327.5 229v1M327.5 233v1M328.5 164v6M328.5 218v1M328.5 222v1M328.5 228v3M328.5 233v1M328.5 259v3M328.5 304v2M329.5 153v4M329.5 160v2M329.5 164v5M329.5 170v1M329.5 217v2M329.5 221v3M329.5 228v2M329.5 231v3M329.5 258v5M330.5 152v3M330.5 160v1M330.5 163v6M330.5 217v4M330.5 222v2M330.5 231v2M330.5 257v5M330.5 307v2M331.5 154v5M331.5 160v8M331.5 215v1M331.5 217v3M331.5 222v1M331.5 231v4M331.5 257v5M331.5 304v2M332.5 152v5M332.5 158v9M332.5 217v2M332.5 222v1M332.5 232v1M332.5 257v5M332.5 304v2M333.5 158v9M333.5 217v6M333.5 232v2M333.5 257v5M333.5 302v2M334.5 153v9M334.5 163v3M334.5 216v6M334.5 230v1M334.5 232v1M334.5 257v5M334.5 302v4M335.5 155v12M335.5 215v4M335.5 232v2M335.5 257v5M336.5 158v4M336.5 163v3M336.5 213v1M336.5 216v2M336.5 229v5M336.5 256v4M336.5 302v2M337.5 157v9M337.5 213v2M337.5 231v4M337.5 257v1M337.5 302v2M338.5 159v6M338.5 214v5M338.5 230v4M338.5 257v2M338.5 302v4M339.5 158v7M339.5 213v3M339.5 232v1M339.5 257v5M339.5 306v1M340.5 158v5M340.5 230v3M340.5 258v2M341.5 158v6M341.5 231v3M341.5 258v2M341.5 305v2M342.5 159v5M342.5 212v3M342.5 258v2M342.5 302v3M343.5 160v3M343.5 231v3M343.5 301v2M344.5 160v2M344.5 232v2M345.5 160v2M345.5 229v5M346.5 160v1M346.5 231v3M347.5 157v1M347.5 232v2M347.5 303v2M348.5 157v2M348.5 230v6M348.5 303v3M349.5 154v2M349.5 232v3M349.5 301v3M350.5 152v3M350.5 157v1M350.5 232v3M350.5 301v5M351.5 154v2M351.5 230v4M351.5 305v1M352.5 231v3M352.5 302v3M353.5 178v3M353.5 233v3M353.5 300v7M354.5 176v7M354.5 231v4M354.5 303v2M355.5 177v7M355.5 232v3M355.5 302v3M356.5 230v5M357.5 230v3M357.5 304v2M358.5 231v3M358.5 302v1M359.5 231v2M359.5 299v8M360.5 231v2M361.5 231v3M362.5 230v4M363.5 231v2M364.5 230v2M365.5 229v4M366.5 231v1M366.5 246v1M367.5 231v1M367.5 242v8M368.5 230v2M369.5 229v3M369.5 245v2M369.5 248v2M370.5 230v2M370.5 251v1M371.5 229v2M371.5 250v3M371.5 254v1M372.5 249v5M373.5 248v1M373.5 250v1M373.5 252v1M373.5 255v2M374.5 254v1M375.5 253v3M376.5 253v5M377.5 254v2M380.5 255v1M380.5 257v1M381.5 255v2M382.5 255v3M384.5 255v2M385.5 255v2M386.5 255v1M398.5 246v17M408.5 241v14M409.5 242v10M410.5 249v1M412.5 242v2M413.5 247v1M418.5 233v3M419.5 230v2M423.5 224v11M425.5 223v12M430.5 221v10M432.5 220v8M440.5 215v10M441.5 215v4M443.5 214v11M451.5 208v8M454.5 203v9M455.5 206v4M457.5 207v6M458.5 206v5M459.5 204v4M461.5 200v8M462.5 201v2M463.5 200v6M465.5 198v3M466.5 197v3"/>
<path stroke="#960ad4" d="M141.5 229v2M142.5 228v5M143.5 230v1M145.5 227v3M146.5 230v1M147.5 230v2M149.5 230v1M150.5 228v3M151.5 229v4M152.5 230v2M153.5 231v1M154.5 229v4M155.5 228v4M156.5 229v4M157.5 230v2M158.5 233v1M159.5 229v3M172.5 222v14M176.5 206v1M176.5 229v1M177.5 203v6M177.5 230v1M178.5 204v5M179.5 202v1M179.5 207v2M180.5 207v2M182.5 207v1M183.5 204v6M184.5 207v2M185.5 205v4M186.5 207v1M187.5 205v5M188.5 206v2M189.5 204v4M190.5 204v6M191.5 202v5M192.5 202v7M193.5 207v1M195.5 202v1M197.5 201v3M198.5 201v3M198.5 231v2M199.5 201v2M200.5 199v4M203.5 198v2M203.5 201v2M203.5 233v2M204.5 200v1M204.5 232v4M205.5 198v4M205.5 233v2M206.5 197v3M206.5 234v2M207.5 198v4M208.5 196v1M208.5 198v3M208.5 233v2M209.5 194v3M209.5 234v1M210.5 195v2M210.5 233v3M211.5 192v5M211.5 232v4M212.5 232v3M213.5 193v2M213.5 234v1M214.5 193v3M214.5 233v2M215.5 188v7M215.5 232v4M216.5 229v1M216.5 234v2M217.5 235v1M218.5 235v2M219.5 192v3M220.5 191v3M220.5 234v3M220.5 252v5M221.5 190v4M221.5 234v2M222.5 191v2M222.5 233v3M223.5 190v6M223.5 233v2M223.5 254v2M224.5 188v4M224.5 194v1M224.5 233v2M224.5 243v6M224.5 251v3M224.5 255v1M225.5 234v1M226.5 187v2M226.5 264v2M227.5 183v6M227.5 194v2M228.5 193v2M229.5 193v2M229.5 263v1M230.5 184v4M230.5 191v4M230.5 266v1M231.5 191v4M231.5 264v5M232.5 187v2M232.5 191v2M233.5 184v4M233.5 191v1M233.5 266v4M234.5 184v5M235.5 186v1M235.5 188v1M235.5 192v2M235.5 278v1M236.5 188v2M236.5 281v3M237.5 185v5M237.5 191v3M237.5 281v4M238.5 182v5M238.5 188v1M238.5 191v1M238.5 280v1M238.5 282v2M239.5 283v2M240.5 183v3M240.5 284v2M241.5 183v3M241.5 283v4M242.5 179v7M242.5 189v2M242.5 284v3M243.5 182v1M243.5 188v3M243.5 285v1M244.5 182v1M245.5 182v2M246.5 179v7M247.5 183v2M247.5 290v18M248.5 181v4M248.5 271v26M249.5 181v3M250.5 179v4M250.5 294v15M251.5 182v1M251.5 278v18M252.5 181v3M252.5 281v1M253.5 181v1M253.5 295v14M254.5 180v4M254.5 280v4M255.5 179v5M256.5 178v3M257.5 177v7M257.5 253v1M258.5 178v2M258.5 181v2M258.5 253v4M258.5 294v2M259.5 175v2M259.5 181v1M259.5 183v1M259.5 253v1M259.5 255v1M259.5 295v2M260.5 178v3M260.5 294v3M261.5 174v4M261.5 179v4M261.5 252v3M261.5 293v3M262.5 173v10M262.5 253v2M262.5 294v2M263.5 173v4M263.5 178v4M263.5 251v4M263.5 295v1M263.5 298v1M264.5 175v5M264.5 293v2M264.5 296v3M265.5 172v1M265.5 253v3M265.5 296v5M266.5 173v1M266.5 296v5M267.5 181v1M267.5 252v1M267.5 299v2M268.5 181v4M268.5 251v2M268.5 297v4M269.5 168v8M269.5 180v3M269.5 249v5M270.5 171v2M270.5 177v1M270.5 179v3M270.5 252v1M270.5 300v1M271.5 170v1M271.5 179v2M271.5 182v1M271.5 298v4M272.5 170v2M272.5 179v4M272.5 250v3M272.5 299v1M272.5 301v1M273.5 178v6M273.5 250v2M273.5 297v2M273.5 301v1M273.5 303v1M274.5 159v4M274.5 170v3M274.5 178v6M274.5 250v3M274.5 299v5M275.5 164v5M275.5 178v5M275.5 248v2M275.5 301v1M276.5 168v3M276.5 177v2M276.5 180v3M276.5 249v1M276.5 302v1M276.5 304v1M277.5 163v2M277.5 177v7M277.5 247v5M277.5 300v5M278.5 180v3M279.5 163v4M279.5 179v3M279.5 302v1M280.5 164v2M280.5 180v2M280.5 301v5M281.5 180v2M281.5 302v2M282.5 161v6M282.5 180v1M282.5 299v5M283.5 304v1M284.5 161v3M284.5 180v1M284.5 302v2M285.5 161v3M285.5 305v1M286.5 303v3M287.5 160v5M287.5 304v1M288.5 161v2M288.5 305v1M289.5 160v3M289.5 303v1M289.5 305v1M290.5 160v2M290.5 303v6M291.5 159v4M291.5 305v1M292.5 160v1M292.5 162v1M292.5 303v3M293.5 157v4M293.5 304v4M294.5 157v3M294.5 306v1M295.5 156v4M295.5 306v1M296.5 156v3M296.5 303v3M296.5 307v1M297.5 155v5M297.5 168v1M297.5 303v5M298.5 155v4M299.5 155v4M299.5 167v1M299.5 304v4M300.5 151v4M300.5 167v1M300.5 303v1M300.5 305v4M301.5 155v3M301.5 167v3M301.5 221v3M301.5 306v1M302.5 155v1M302.5 164v2M302.5 167v2M302.5 221v2M302.5 304v2M303.5 155v2M303.5 165v1M303.5 168v2M303.5 221v2M303.5 303v2M304.5 154v4M304.5 165v1M304.5 221v1M304.5 305v1M305.5 150v4M305.5 164v2M305.5 303v5M306.5 154v1M306.5 161v1M306.5 164v1M306.5 305v1M307.5 152v3M307.5 162v1M307.5 305v2M308.5 153v5M308.5 305v1M309.5 304v1M311.5 167v1M312.5 152v6M313.5 167v1M314.5 164v1M314.5 219v2M315.5 152v2M315.5 166v3M316.5 166v1M317.5 154v3M318.5 156v2M318.5 165v1M318.5 218v1M319.5 216v1M320.5 164v1M320.5 215v2M321.5 154v2M321.5 164v1M321.5 215v2M321.5 296v7M322.5 154v2M322.5 158v1M322.5 164v1M322.5 214v5M322.5 288v15M323.5 154v2M323.5 215v2M324.5 156v2M324.5 213v4M325.5 151v5M325.5 213v5M326.5 150v7M326.5 213v3M327.5 151v3M327.5 214v4M327.5 302v1M328.5 214v4M329.5 214v3M329.5 227v1M329.5 230v1M329.5 305v2M330.5 214v3M330.5 226v1M330.5 228v3M330.5 303v4M331.5 214v1M331.5 216v1M331.5 224v2M331.5 229v2M331.5 302v2M332.5 151v1M332.5 213v4M332.5 227v5M332.5 302v2M333.5 149v6M333.5 212v5M333.5 229v3M334.5 212v4M334.5 229v1M334.5 231v1M334.5 301v1M335.5 151v4M335.5 213v2M335.5 229v3M335.5 299v5M336.5 148v10M336.5 162v1M336.5 214v2M336.5 228v1M336.5 301v1M337.5 150v3M337.5 156v1M337.5 215v2M337.5 229v2M337.5 300v2M338.5 154v5M338.5 227v3M338.5 300v2M339.5 156v2M339.5 217v2M339.5 228v1M339.5 230v2M339.5 300v4M340.5 155v3M340.5 302v3M341.5 151v2M341.5 155v3M341.5 228v3M341.5 300v5M342.5 154v5M342.5 229v3M343.5 155v2M343.5 228v3M343.5 303v1M344.5 154v5M344.5 227v5M344.5 300v6M345.5 152v7M345.5 228v1M345.5 303v1M346.5 155v2M346.5 226v3M346.5 230v1M346.5 301v3M347.5 154v3M347.5 231v1M347.5 300v3M348.5 150v1M348.5 153v4M348.5 229v1M348.5 301v2M349.5 151v2M349.5 156v1M349.5 226v1M349.5 228v4M350.5 155v1M350.5 230v2M351.5 302v2M352.5 229v2M352.5 299v3M353.5 228v5M354.5 229v2M355.5 228v4M356.5 178v3M356.5 300v4M357.5 229v1M357.5 301v3M358.5 229v2M359.5 228v3M360.5 228v3M361.5 226v5M363.5 228v3M363.5 293v13M364.5 227v3M365.5 227v2M365.5 293v8M366.5 229v2M367.5 227v4M367.5 287v11M368.5 227v3M368.5 245v2M369.5 226v3M369.5 243v1M369.5 247v1M370.5 228v2M370.5 244v5M371.5 227v2M371.5 244v6M372.5 227v1M372.5 246v3M373.5 247v1M373.5 251v1M373.5 253v2M374.5 244v2M374.5 252v2M377.5 252v2M378.5 251v5M379.5 253v4M380.5 253v2M381.5 254v1M382.5 252v3M383.5 253v4M384.5 252v3M385.5 252v3M386.5 254v1M387.5 254v1M402.5 240v21M406.5 240v15M410.5 243v3M411.5 241v4M412.5 240v2M413.5 237v8M415.5 238v6M416.5 237v7M417.5 233v14M419.5 232v5M420.5 224v10M426.5 219v12M428.5 221v9M430.5 219v1M431.5 226v1M436.5 216v10M438.5 215v10M444.5 212v8M446.5 212v5M447.5 206v8M452.5 206v8M453.5 208v4M458.5 202v4M459.5 200v4M460.5 204v1M463.5 198v2"/>
<path stroke="#990cc5" d="M138.5 230v6M139.5 219v6M141.5 226v3M142.5 226v2M143.5 224v6M144.5 227v2M146.5 226v4M147.5 226v1M147.5 229v1M148.5 226v5M149.5 226v4M152.5 228v2M153.5 224v7M154.5 225v4M155.5 226v2M156.5 226v3M157.5 226v4M158.5 228v3M160.5 227v1M168.5 216v20M173.5 223v8M175.5 227v1M181.5 204v3M182.5 199v4M186.5 205v2M188.5 203v3M189.5 201v3M192.5 200v2M193.5 204v1M196.5 197v7M197.5 198v3M199.5 199v2M200.5 196v1M200.5 198v1M201.5 195v3M201.5 199v3M202.5 195v6M203.5 197v1M203.5 200v1M203.5 231v2M204.5 195v5M204.5 228v2M204.5 231v1M205.5 197v1M205.5 230v3M206.5 195v2M206.5 231v3M207.5 196v2M207.5 230v4M208.5 194v2M208.5 229v1M208.5 231v2M209.5 193v1M209.5 231v3M210.5 191v4M210.5 230v3M211.5 190v2M211.5 231v1M212.5 192v3M212.5 229v3M213.5 231v3M214.5 230v3M215.5 228v1M215.5 230v2M216.5 192v2M216.5 230v4M217.5 186v5M217.5 229v6M217.5 248v1M217.5 252v3M218.5 184v1M218.5 189v5M218.5 232v3M218.5 246v2M219.5 190v1M219.5 232v4M220.5 190v1M220.5 231v3M221.5 232v2M222.5 188v3M222.5 231v2M223.5 185v5M223.5 231v2M224.5 186v2M224.5 231v2M224.5 249v1M224.5 254v1M224.5 260v1M224.5 262v1M225.5 184v3M225.5 230v4M227.5 181v2M228.5 185v7M228.5 262v1M229.5 182v5M229.5 258v5M230.5 261v1M231.5 185v1M231.5 252v1M231.5 262v2M232.5 260v1M234.5 263v6M234.5 278v1M235.5 183v3M235.5 256v8M235.5 272v4M235.5 277v1M235.5 279v2M236.5 181v4M236.5 278v3M237.5 176v4M237.5 184v1M237.5 277v4M238.5 177v4M238.5 279v1M238.5 281v1M239.5 182v2M239.5 277v1M239.5 279v4M240.5 182v1M240.5 280v4M241.5 279v4M242.5 280v4M243.5 176v6M243.5 279v6M244.5 180v2M244.5 281v1M245.5 175v3M245.5 179v3M247.5 180v3M248.5 175v6M249.5 178v1M250.5 178v1M250.5 291v3M251.5 178v4M251.5 273v5M252.5 177v4M253.5 175v6M253.5 293v2M254.5 178v2M255.5 255v2M255.5 293v2M256.5 290v2M257.5 175v2M257.5 250v3M258.5 173v5M258.5 250v3M259.5 177v2M259.5 251v2M259.5 292v3M260.5 174v2M260.5 249v4M260.5 292v2M261.5 166v8M261.5 178v1M261.5 291v2M262.5 172v1M263.5 291v4M264.5 249v4M264.5 292v1M264.5 295v1M265.5 167v4M265.5 249v4M265.5 291v1M265.5 293v2M266.5 168v5M266.5 249v3M266.5 294v2M267.5 170v1M267.5 250v2M267.5 296v3M268.5 171v2M268.5 247v4M269.5 296v3M270.5 169v2M270.5 251v1M270.5 296v3M271.5 168v2M271.5 171v1M271.5 250v2M271.5 296v2M272.5 167v3M272.5 248v2M272.5 296v3M273.5 168v3M273.5 249v1M273.5 299v1M274.5 163v3M274.5 168v2M274.5 248v2M274.5 296v2M275.5 245v3M275.5 250v1M275.5 299v2M275.5 302v1M276.5 160v4M276.5 179v1M276.5 246v3M276.5 300v2M277.5 165v2M278.5 162v2M278.5 298v5M279.5 158v5M279.5 301v1M280.5 299v2M281.5 160v5M281.5 299v3M283.5 159v4M283.5 302v2M284.5 298v2M284.5 301v1M284.5 304v1M285.5 159v2M285.5 299v6M286.5 160v2M286.5 302v1M287.5 157v3M287.5 300v4M288.5 158v3M288.5 303v2M289.5 159v1M290.5 157v3M291.5 158v1M291.5 304v1M292.5 156v4M292.5 301v1M293.5 155v2M294.5 151v6M294.5 302v4M295.5 305v1M296.5 150v4M297.5 154v1M298.5 302v4M299.5 153v2M300.5 304v1M301.5 154v1M301.5 302v4M302.5 152v3M302.5 303v1M303.5 152v3M303.5 301v2M303.5 305v1M304.5 149v1M304.5 302v3M306.5 152v2M306.5 302v3M307.5 149v3M307.5 302v3M308.5 152v1M308.5 304v1M309.5 151v4M309.5 302v2M310.5 148v8M310.5 300v2M310.5 303v3M311.5 152v2M313.5 152v2M314.5 300v6M315.5 154v1M315.5 157v1M315.5 296v6M316.5 153v2M316.5 296v4M317.5 153v1M317.5 290v9M318.5 152v4M319.5 150v7M320.5 153v3M321.5 149v5M322.5 151v3M323.5 148v6M323.5 214v1M325.5 296v12M326.5 298v1M327.5 301v1M328.5 302v2M329.5 301v4M330.5 151v1M330.5 227v1M330.5 300v3M331.5 148v6M331.5 226v3M332.5 223v1M332.5 226v1M332.5 299v3M333.5 223v1M333.5 227v2M333.5 299v3M334.5 145v3M334.5 152v1M334.5 227v2M334.5 298v3M335.5 224v5M336.5 227v1M336.5 298v3M337.5 153v3M337.5 227v2M337.5 299v1M338.5 150v4M338.5 297v3M339.5 143v1M339.5 151v5M339.5 224v1M339.5 226v2M339.5 229v1M339.5 296v1M340.5 154v1M340.5 226v4M340.5 300v2M341.5 153v2M341.5 226v2M342.5 150v4M342.5 225v4M342.5 300v2M343.5 153v2M343.5 225v1M343.5 227v1M343.5 297v4M344.5 153v1M344.5 226v1M344.5 298v2M345.5 225v3M345.5 296v7M346.5 153v2M346.5 229v1M346.5 299v2M347.5 152v2M347.5 225v6M348.5 151v2M348.5 227v2M348.5 299v2M349.5 153v1M349.5 227v1M349.5 298v3M350.5 224v6M350.5 298v3M351.5 226v4M351.5 297v5M352.5 227v2M353.5 227v1M354.5 225v4M354.5 299v4M355.5 176v1M355.5 227v1M355.5 301v1M356.5 174v4M356.5 227v3M357.5 173v1M357.5 176v3M357.5 226v3M357.5 298v3M358.5 175v1M358.5 228v1M358.5 294v8M359.5 176v1M359.5 225v3M359.5 294v5M360.5 225v3M360.5 292v14M361.5 224v2M362.5 221v3M362.5 226v4M363.5 225v3M365.5 225v2M366.5 225v4M366.5 292v9M367.5 224v3M368.5 187v2M368.5 223v1M368.5 226v1M368.5 241v2M368.5 244v1M369.5 225v1M369.5 239v1M369.5 242v1M369.5 244v1M370.5 224v4M370.5 241v2M371.5 226v1M372.5 223v4M372.5 244v2M373.5 243v4M373.5 249v1M374.5 246v2M374.5 249v1M375.5 251v2M376.5 248v1M376.5 250v3M377.5 250v2M379.5 251v2M380.5 248v5M381.5 251v3M382.5 251v1M383.5 251v2M384.5 249v3M386.5 249v5M387.5 246v8M388.5 250v2M391.5 249v5M392.5 247v3M397.5 243v12M400.5 240v5M409.5 236v3M410.5 238v5M411.5 238v3M412.5 239v1M414.5 234v8M421.5 219v15M423.5 217v4M424.5 229v4M429.5 218v8M431.5 217v7M433.5 217v7M434.5 216v2M435.5 222v2M440.5 211v3M441.5 219v2M444.5 210v1M445.5 212v6M450.5 210v3M452.5 205v1M453.5 201v7M456.5 202v8M457.5 202v4M461.5 196v2M462.5 198v3M462.5 203v2M464.5 193v5M465.5 193v5"/>
<path stroke="#9c0db4" d="M139.5 227v1M140.5 220v1M140.5 224v4M142.5 224v1M147.5 225v1M147.5 227v2M148.5 223v3M150.5 225v3M151.5 222v7M155.5 225v1M156.5 224v2M157.5 223v3M158.5 225v3M159.5 224v5M161.5 223v3M162.5 221v1M162.5 226v1M164.5 224v3M165.5 218v17M169.5 219v10M174.5 224v4M175.5 226v1M179.5 201v1M179.5 203v4M180.5 197v10M181.5 201v3M182.5 203v2M183.5 200v4M184.5 201v6M185.5 204v1M186.5 201v2M187.5 200v5M188.5 199v4M189.5 195v6M190.5 197v7M191.5 200v2M192.5 198v2M193.5 194v10M194.5 197v5M195.5 195v7M198.5 198v3M199.5 195v4M200.5 197v1M201.5 191v4M201.5 198v1M202.5 194v1M203.5 192v5M203.5 230v1M204.5 230v1M205.5 195v2M205.5 228v2M206.5 224v7M207.5 192v4M207.5 229v1M208.5 190v4M208.5 227v2M208.5 230v1M209.5 190v3M209.5 224v7M210.5 227v1M210.5 229v1M211.5 189v1M211.5 226v5M212.5 184v8M212.5 225v4M213.5 227v4M214.5 186v7M214.5 229v1M215.5 185v3M215.5 229v1M216.5 184v8M218.5 186v3M218.5 228v4M219.5 191v1M219.5 230v2M219.5 249v2M220.5 187v3M220.5 229v2M220.5 246v6M221.5 185v5M221.5 230v2M222.5 187v1M222.5 230v1M223.5 229v2M223.5 252v2M223.5 260v1M224.5 229v2M224.5 257v1M225.5 228v2M225.5 246v1M225.5 256v1M225.5 260v1M226.5 182v5M226.5 258v4M227.5 259v2M228.5 184v1M228.5 259v3M230.5 183v1M230.5 251v2M230.5 256v2M230.5 259v2M231.5 179v6M231.5 251v1M231.5 255v7M232.5 181v6M232.5 250v2M232.5 256v4M232.5 261v1M233.5 181v3M233.5 257v9M234.5 181v3M234.5 274v2M235.5 180v3M235.5 269v3M235.5 276v1M236.5 263v3M236.5 273v5M237.5 182v2M237.5 255v9M237.5 271v1M237.5 274v3M238.5 181v1M238.5 257v1M238.5 274v2M238.5 277v2M239.5 179v3M239.5 278v1M240.5 181v1M240.5 275v1M240.5 277v3M241.5 176v7M241.5 277v1M242.5 279v1M243.5 278v1M244.5 176v4M244.5 278v1M245.5 172v2M245.5 178v1M245.5 289v16M246.5 175v4M246.5 271v15M247.5 178v2M247.5 288v2M248.5 266v2M249.5 179v2M250.5 175v3M250.5 290v1M251.5 173v5M251.5 271v2M252.5 256v1M253.5 291v2M254.5 176v2M254.5 258v1M255.5 176v3M256.5 173v5M256.5 249v3M256.5 292v1M257.5 171v4M257.5 290v5M258.5 248v2M258.5 290v4M259.5 250v1M261.5 165v1M261.5 249v3M261.5 290v1M262.5 163v9M262.5 248v5M262.5 290v4M263.5 168v4M263.5 247v4M263.5 289v2M264.5 166v3M264.5 245v4M264.5 288v4M265.5 171v1M265.5 247v2M265.5 285v6M265.5 295v1M266.5 246v3M266.5 287v3M267.5 168v2M267.5 248v2M267.5 294v2M268.5 167v4M268.5 292v5M269.5 246v3M269.5 292v1M269.5 294v2M270.5 167v2M270.5 248v3M270.5 293v3M271.5 166v2M271.5 245v5M271.5 295v1M272.5 159v8M272.5 247v1M272.5 293v3M273.5 161v7M273.5 245v4M273.5 295v2M274.5 166v2M274.5 242v6M274.5 293v3M274.5 298v1M275.5 161v3M275.5 294v5M276.5 164v1M276.5 292v1M276.5 295v5M277.5 297v3M278.5 296v2M279.5 296v5M280.5 158v6M280.5 295v2M281.5 297v2M282.5 297v2M283.5 297v5M284.5 300v1M285.5 155v4M285.5 298v1M286.5 158v2M286.5 298v4M287.5 297v2M288.5 157v1M288.5 300v3M289.5 156v3M289.5 298v5M290.5 300v3M291.5 300v4M292.5 150v6M292.5 302v1M293.5 299v5M295.5 153v3M295.5 300v5M296.5 154v2M296.5 301v2M297.5 151v3M297.5 298v5M298.5 153v2M298.5 300v2M299.5 151v2M299.5 299v5M300.5 147v4M300.5 302v1M301.5 151v3M301.5 300v2M302.5 299v4M304.5 150v3M304.5 300v2M305.5 300v3M306.5 300v2M307.5 300v2M308.5 298v6M309.5 150v1M309.5 301v1M310.5 147v1M310.5 299v1M310.5 302v1M311.5 150v2M311.5 299v4M312.5 149v3M313.5 154v1M316.5 152v1M317.5 149v4M318.5 151v1M320.5 149v3M321.5 146v3M324.5 149v4M325.5 149v2M326.5 146v4M328.5 300v2M329.5 148v1M329.5 298v3M331.5 298v4M332.5 147v4M332.5 224v2M332.5 297v1M333.5 224v3M333.5 298v1M334.5 148v4M334.5 223v4M334.5 296v2M335.5 149v2M335.5 223v1M335.5 296v3M336.5 146v2M336.5 221v6M337.5 220v2M337.5 223v4M338.5 146v2M338.5 149v1M338.5 220v7M339.5 150v1M339.5 225v1M339.5 297v3M340.5 151v3M340.5 222v2M340.5 225v1M340.5 292v8M341.5 150v1M341.5 223v3M342.5 148v2M342.5 218v1M342.5 223v2M343.5 151v2M343.5 220v5M343.5 226v1M344.5 150v3M344.5 223v3M345.5 151v1M346.5 148v1M346.5 150v3M346.5 223v3M346.5 297v2M347.5 146v6M347.5 295v5M348.5 149v1M348.5 223v4M348.5 298v1M349.5 224v2M349.5 296v2M350.5 221v3M350.5 295v1M351.5 223v3M352.5 224v3M352.5 298v1M353.5 221v2M353.5 224v3M353.5 295v5M354.5 293v6M355.5 224v3M355.5 295v6M356.5 225v2M356.5 292v8M357.5 172v1M357.5 174v2M357.5 223v3M357.5 297v1M358.5 171v2M358.5 174v1M358.5 224v4M359.5 168v2M359.5 172v4M360.5 169v1M360.5 222v3M361.5 222v2M362.5 224v2M362.5 288v17M363.5 220v5M364.5 223v4M365.5 222v3M366.5 186v2M366.5 223v2M366.5 287v2M367.5 221v3M368.5 185v2M368.5 221v2M368.5 224v2M368.5 243v1M369.5 186v2M369.5 220v5M369.5 240v2M370.5 222v2M370.5 237v4M370.5 243v1M371.5 222v4M371.5 240v4M372.5 222v1M372.5 239v5M373.5 222v1M374.5 241v3M374.5 248v1M374.5 250v2M375.5 244v1M375.5 246v5M376.5 249v1M377.5 246v4M378.5 246v2M379.5 249v2M380.5 245v1M381.5 249v2M382.5 248v3M383.5 247v4M385.5 247v5M387.5 245v1M388.5 243v7M389.5 246v4M390.5 248v3M399.5 242v12M406.5 238v2M407.5 248v1M409.5 239v3M410.5 235v3M411.5 236v2M412.5 235v4M415.5 232v4M416.5 229v8M419.5 223v7M426.5 217v2M427.5 225v2M435.5 212v8M437.5 210v10M439.5 210v10M442.5 208v11M446.5 207v4M447.5 202v4M448.5 196v16M449.5 200v14M450.5 204v6M454.5 202v1M455.5 199v7M456.5 201v1M457.5 200v2M457.5 206v1M458.5 199v1M460.5 193v8M461.5 198v2M462.5 192v3M463.5 193v5"/>
<path stroke="#9f0fa2" d="M138.5 224v5M139.5 215v4M139.5 225v1M140.5 222v1M142.5 225v1M143.5 223v1M144.5 221v6M145.5 222v5M146.5 222v4M149.5 224v2M150.5 222v3M152.5 221v7M153.5 223v1M154.5 223v2M155.5 222v3M156.5 221v3M158.5 221v4M160.5 222v5M160.5 228v1M161.5 221v2M161.5 226v1M162.5 222v2M181.5 196v3M182.5 190v5M183.5 198v2M184.5 200v1M185.5 199v5M186.5 199v2M186.5 203v2M188.5 192v3M188.5 198v1M191.5 193v1M191.5 197v3M192.5 195v3M193.5 193v1M194.5 196v1M197.5 195v2M199.5 193v1M200.5 192v4M204.5 191v4M205.5 188v7M205.5 227v1M206.5 191v4M207.5 189v3M207.5 224v5M208.5 186v4M208.5 224v3M209.5 189v1M209.5 222v2M210.5 186v5M210.5 224v3M210.5 228v1M211.5 184v5M211.5 225v1M212.5 222v3M213.5 186v7M214.5 226v3M219.5 186v4M219.5 226v4M219.5 245v3M220.5 179v8M220.5 225v4M220.5 245v1M221.5 182v3M221.5 224v6M222.5 180v6M222.5 226v4M223.5 183v2M223.5 226v3M223.5 249v3M224.5 182v1M224.5 227v2M225.5 179v5M225.5 187v1M226.5 179v3M226.5 255v3M227.5 253v2M228.5 176v8M228.5 249v1M228.5 253v6M229.5 178v4M229.5 248v3M229.5 255v3M230.5 179v4M230.5 249v2M230.5 253v3M230.5 258v1M231.5 177v2M231.5 249v2M231.5 253v2M232.5 252v4M233.5 253v4M234.5 262v1M236.5 272v1M237.5 180v2M237.5 272v2M238.5 176v1M238.5 271v3M238.5 276v1M239.5 173v6M239.5 256v1M239.5 271v1M239.5 274v3M240.5 175v6M240.5 273v2M240.5 276v1M241.5 273v4M241.5 278v1M242.5 176v3M242.5 272v3M242.5 276v3M243.5 171v5M243.5 276v2M243.5 286v1M244.5 276v2M244.5 279v2M245.5 275v4M245.5 285v4M246.5 172v3M246.5 286v21M247.5 169v9M247.5 264v24M248.5 171v4M249.5 166v12M249.5 288v19M250.5 267v23M251.5 270v1M252.5 174v3M253.5 171v4M253.5 253v1M254.5 173v3M254.5 253v5M255.5 171v1M255.5 173v3M255.5 290v3M256.5 246v3M256.5 286v4M257.5 170v1M257.5 246v4M257.5 288v2M258.5 168v5M258.5 245v3M258.5 289v1M259.5 172v3M259.5 245v5M259.5 287v5M260.5 168v6M260.5 247v2M260.5 289v3M261.5 159v6M261.5 246v3M261.5 286v4M262.5 245v3M262.5 284v6M263.5 164v4M263.5 244v3M263.5 287v2M264.5 169v4M264.5 286v2M265.5 243v4M265.5 292v1M266.5 244v2M266.5 284v3M266.5 290v1M266.5 292v2M267.5 244v4M267.5 286v1M267.5 289v5M268.5 164v3M268.5 244v3M269.5 163v5M269.5 244v2M269.5 293v1M270.5 165v2M270.5 242v6M270.5 291v2M271.5 157v3M271.5 241v4M271.5 290v5M272.5 156v3M272.5 241v6M273.5 152v9M273.5 241v4M273.5 292v3M274.5 157v2M274.5 290v3M275.5 293v1M276.5 290v2M276.5 293v1M277.5 159v4M278.5 157v5M279.5 295v1M280.5 155v3M280.5 297v2M281.5 157v3M281.5 293v4M282.5 154v7M282.5 295v2M283.5 150v9M283.5 294v2M284.5 155v6M284.5 296v2M285.5 293v5M286.5 155v3M286.5 297v1M287.5 296v1M287.5 299v1M288.5 297v3M290.5 299v1M291.5 152v4M292.5 148v2M292.5 300v1M293.5 144v11M294.5 299v3M295.5 297v3M296.5 296v5M298.5 296v4M299.5 148v3M299.5 296v3M300.5 298v4M301.5 296v4M302.5 296v2M303.5 144v4M304.5 299v1M305.5 297v3M307.5 298v2M308.5 297v1M309.5 298v3M310.5 297v2M311.5 146v4M312.5 298v1M313.5 295v2M318.5 147v4M319.5 148v2M319.5 290v5M320.5 143v6M320.5 152v1M320.5 283v25M321.5 294v2M322.5 148v3M324.5 148v1M324.5 293v4M327.5 145v6M327.5 299v2M328.5 143v6M328.5 296v4M329.5 149v4M330.5 144v7M330.5 297v3M331.5 147v1M331.5 295v3M332.5 145v1M332.5 296v1M332.5 298v1M333.5 144v5M333.5 293v5M334.5 222v1M334.5 293v3M335.5 219v4M335.5 294v2M336.5 218v3M336.5 292v6M337.5 148v2M337.5 222v1M337.5 293v6M338.5 148v1M338.5 219v1M338.5 294v3M339.5 138v5M339.5 145v5M339.5 221v3M340.5 149v2M340.5 217v5M340.5 224v1M341.5 145v2M341.5 216v7M341.5 296v4M342.5 219v4M342.5 291v9M343.5 150v1M343.5 219v1M343.5 293v4M344.5 219v4M344.5 288v10M345.5 219v6M345.5 293v3M346.5 149v1M346.5 222v1M347.5 220v5M348.5 207v1M348.5 219v4M348.5 293v5M349.5 204v7M349.5 219v5M349.5 295v1M350.5 210v2M350.5 293v2M350.5 296v2M351.5 204v4M351.5 219v4M351.5 292v5M352.5 219v5M352.5 293v5M353.5 205v2M353.5 223v1M354.5 220v5M355.5 223v1M356.5 223v2M357.5 171v1M357.5 220v3M358.5 169v2M358.5 173v1M358.5 221v3M358.5 292v2M359.5 170v2M359.5 219v6M359.5 289v5M360.5 168v1M360.5 170v4M360.5 219v3M361.5 220v2M361.5 289v15M364.5 219v4M365.5 221v1M366.5 184v2M366.5 221v2M366.5 289v3M367.5 183v2M368.5 182v3M369.5 180v6M369.5 219v1M370.5 220v2M370.5 235v2M371.5 217v5M371.5 232v2M371.5 235v1M371.5 237v2M372.5 218v4M373.5 220v2M373.5 234v9M374.5 186v1M374.5 239v2M375.5 237v4M376.5 241v2M376.5 247v1M377.5 244v2M378.5 244v2M378.5 248v3M379.5 244v5M380.5 246v2M381.5 243v6M382.5 245v3M383.5 245v2M384.5 247v2M385.5 245v2M390.5 246v2M391.5 244v5M392.5 245v2M393.5 241v6M396.5 243v7M403.5 232v24M407.5 236v9M408.5 232v2M408.5 239v2M409.5 232v4M410.5 234v1M411.5 231v5M412.5 233v2M413.5 232v5M414.5 231v3M415.5 236v2M417.5 226v7M427.5 214v9M429.5 214v1M430.5 215v4M430.5 220v1M432.5 214v6M433.5 212v2M434.5 218v2M445.5 208v4M446.5 211v1M451.5 203v5M455.5 198v1M456.5 199v2M457.5 196v1M458.5 198v1M458.5 200v2M462.5 195v3M465.5 190v3"/>
<path stroke="#a3118e" d="M138.5 222v1M140.5 223v1M141.5 220v6M142.5 223v1M143.5 220v3M144.5 219v2M147.5 221v4M148.5 221v2M149.5 217v5M151.5 220v2M156.5 220v1M157.5 216v7M159.5 222v2M160.5 219v3M162.5 224v2M164.5 221v3M170.5 221v2M181.5 193v3M181.5 199v2M182.5 195v4M183.5 194v2M187.5 197v3M192.5 192v3M196.5 193v1M197.5 197v1M198.5 193v5M199.5 190v3M200.5 188v4M201.5 190v1M202.5 187v7M203.5 189v3M205.5 180v2M207.5 182v7M208.5 185v1M213.5 223v4M214.5 183v2M214.5 225v1M216.5 183v1M217.5 181v5M218.5 183v1M218.5 185v1M219.5 182v4M220.5 243v2M221.5 177v1M221.5 179v1M221.5 181v1M221.5 245v1M222.5 186v1M222.5 225v1M223.5 179v4M223.5 243v2M223.5 247v2M224.5 178v2M224.5 183v3M224.5 240v3M224.5 250v1M224.5 256v1M225.5 173v3M225.5 243v2M225.5 252v4M226.5 250v5M227.5 178v3M227.5 245v3M227.5 251v1M227.5 255v4M228.5 246v3M228.5 250v1M229.5 173v5M229.5 246v2M229.5 251v4M230.5 245v4M231.5 245v4M232.5 178v3M232.5 246v4M233.5 175v6M233.5 244v9M234.5 173v8M234.5 248v3M234.5 253v4M234.5 258v3M234.5 272v2M235.5 174v1M235.5 251v2M235.5 264v5M236.5 172v2M236.5 177v4M236.5 267v5M237.5 266v3M237.5 270v1M238.5 259v1M238.5 268v3M239.5 269v2M240.5 254v4M240.5 268v1M242.5 170v6M242.5 275v1M243.5 271v5M244.5 170v6M244.5 273v3M245.5 174v1M245.5 274v1M245.5 283v2M250.5 168v7M251.5 170v3M252.5 171v3M252.5 283v5M253.5 169v2M253.5 254v2M253.5 277v14M254.5 249v4M255.5 168v3M255.5 172v1M255.5 247v2M255.5 251v4M256.5 164v9M257.5 167v3M257.5 287v1M258.5 240v5M258.5 283v6M259.5 162v10M259.5 242v3M259.5 286v1M260.5 164v4M260.5 240v7M260.5 287v2M261.5 244v2M262.5 244v1M263.5 283v3M264.5 243v2M264.5 285v1M265.5 241v1M265.5 283v2M266.5 242v2M266.5 291v1M267.5 162v6M267.5 242v2M267.5 283v3M267.5 287v1M268.5 239v1M268.5 243v1M268.5 291v1M269.5 159v4M269.5 239v5M269.5 288v4M270.5 163v2M270.5 240v2M270.5 287v4M271.5 154v1M271.5 162v1M271.5 288v2M272.5 291v2M273.5 288v4M274.5 155v2M274.5 289v1M275.5 154v7M275.5 287v6M276.5 157v3M276.5 294v1M277.5 157v2M277.5 292v5M278.5 155v2M278.5 292v4M279.5 152v6M279.5 294v1M280.5 152v3M280.5 294v1M281.5 155v2M283.5 296v1M284.5 150v1M284.5 293v3M285.5 151v4M286.5 150v5M286.5 295v2M287.5 147v10M287.5 291v4M288.5 150v7M288.5 294v2M289.5 145v11M289.5 297v1M290.5 150v7M290.5 294v5M291.5 147v5M291.5 156v2M291.5 297v3M292.5 293v7M293.5 294v5M294.5 148v3M294.5 297v2M295.5 148v3M295.5 295v2M296.5 145v5M296.5 295v1M297.5 296v2M298.5 147v6M299.5 144v4M300.5 146v1M300.5 296v2M301.5 145v6M302.5 141v11M302.5 298v1M303.5 148v4M303.5 295v6M304.5 146v3M304.5 296v3M306.5 297v3M308.5 296v1M309.5 295v3M310.5 293v4M311.5 295v4M312.5 295v3M314.5 297v3M321.5 144v2M323.5 144v4M327.5 295v4M329.5 295v3M331.5 143v4M332.5 142v3M332.5 146v1M332.5 292v4M333.5 143v1M333.5 290v3M334.5 140v5M335.5 139v10M336.5 139v7M337.5 141v7M337.5 217v3M337.5 291v2M338.5 139v7M339.5 219v2M339.5 295v1M340.5 147v2M341.5 140v3M341.5 295v1M342.5 147v1M342.5 217v1M343.5 143v7M343.5 214v1M344.5 145v5M344.5 217v2M345.5 143v8M345.5 216v3M346.5 145v3M346.5 219v3M347.5 217v3M352.5 202v7M353.5 219v1M353.5 294v1M354.5 192v2M354.5 218v2M354.5 291v2M355.5 213v2M355.5 218v5M355.5 287v8M356.5 215v8M357.5 219v1M357.5 291v6M358.5 194v1M358.5 217v4M359.5 217v2M360.5 166v2M360.5 197v1M360.5 214v5M361.5 166v2M362.5 218v3M363.5 214v6M364.5 180v1M364.5 282v17M365.5 219v2M366.5 182v2M366.5 217v4M367.5 178v5M367.5 217v4M368.5 180v2M368.5 219v2M369.5 216v3M370.5 182v5M370.5 216v4M371.5 180v7M371.5 216v1M371.5 231v1M371.5 234v1M371.5 236v1M371.5 239v1M372.5 168v2M372.5 182v5M372.5 217v1M372.5 236v3M373.5 186v1M373.5 215v5M374.5 183v3M374.5 187v1M374.5 216v4M374.5 237v2M375.5 180v6M375.5 245v1M376.5 234v1M376.5 243v4M377.5 240v2M378.5 243v1M380.5 243v1M382.5 242v2M383.5 244v1M384.5 242v5M385.5 244v1M386.5 241v8M388.5 242v1M389.5 240v6M390.5 240v6M391.5 243v1M392.5 244v1M393.5 240v1M394.5 241v4M395.5 240v7M398.5 239v7M399.5 238v4M400.5 245v2M403.5 231v1M404.5 248v2M405.5 236v7M407.5 229v5M408.5 235v4M410.5 233v1M411.5 230v1M412.5 228v5M418.5 226v7M422.5 211v18M424.5 211v16M428.5 213v8M431.5 212v5M439.5 208v1M440.5 214v1M443.5 205v9M446.5 206v1M451.5 198v5M452.5 188v17M453.5 195v6M457.5 197v3M459.5 188v4M460.5 182v7M460.5 190v3M461.5 191v5M464.5 185v8"/>
<path stroke="#a61378" d="M140.5 221v1M141.5 217v3M142.5 219v4M145.5 219v3M146.5 218v4M147.5 220v1M148.5 217v4M149.5 222v2M150.5 218v4M151.5 219v1M152.5 218v3M153.5 219v4M154.5 219v4M155.5 218v4M156.5 216v4M158.5 217v4M159.5 219v3M163.5 222v2M164.5 218v2M183.5 196v2M184.5 192v8M185.5 195v4M186.5 193v6M189.5 193v2M190.5 188v9M191.5 194v3M193.5 191v2M194.5 185v11M195.5 190v5M196.5 194v3M197.5 189v6M198.5 183v2M198.5 187v1M199.5 183v7M199.5 194v1M201.5 188v2M202.5 185v2M203.5 186v3M204.5 184v7M206.5 183v8M208.5 181v4M209.5 184v5M210.5 183v3M213.5 182v4M214.5 185v1M215.5 180v5M216.5 180v3M218.5 179v4M221.5 178v1M222.5 176v4M223.5 245v2M224.5 180v2M225.5 176v3M225.5 241v2M225.5 245v1M225.5 249v3M226.5 169v4M226.5 242v2M226.5 246v4M227.5 241v4M227.5 248v3M227.5 252v1M228.5 170v2M228.5 244v2M228.5 251v2M229.5 170v3M229.5 242v2M230.5 166v8M231.5 242v3M232.5 242v2M234.5 257v1M235.5 175v5M235.5 255v1M236.5 174v3M236.5 252v5M236.5 266v1M237.5 165v11M237.5 264v2M237.5 269v1M238.5 171v5M238.5 265v3M239.5 172v1M239.5 265v4M239.5 272v2M240.5 266v2M240.5 269v1M240.5 271v2M241.5 171v5M241.5 264v9M242.5 169v1M242.5 266v6M243.5 168v3M243.5 268v3M244.5 271v2M245.5 268v2M245.5 272v2M245.5 279v4M246.5 171v1M249.5 280v8M250.5 262v5M251.5 254v2M252.5 249v7M253.5 241v3M253.5 249v4M254.5 167v6M254.5 244v5M254.5 284v2M255.5 240v7M255.5 249v2M255.5 280v10M256.5 159v2M256.5 239v7M256.5 284v2M257.5 241v5M258.5 161v3M259.5 285v1M260.5 281v4M261.5 241v3M261.5 284v2M262.5 162v1M262.5 243v1M262.5 282v1M263.5 241v3M263.5 286v1M264.5 162v4M264.5 281v4M265.5 158v9M265.5 239v2M265.5 242v1M266.5 155v13M266.5 240v2M266.5 281v3M267.5 160v2M267.5 241v1M267.5 288v1M268.5 163v1M268.5 240v3M268.5 282v1M268.5 285v6M270.5 158v5M271.5 151v1M271.5 155v2M271.5 160v2M271.5 163v3M272.5 151v3M272.5 288v3M274.5 287v2M276.5 152v5M277.5 154v3M277.5 283v9M278.5 153v2M278.5 281v5M278.5 289v3M279.5 290v4M280.5 288v3M280.5 292v2M281.5 153v2M281.5 287v6M282.5 148v6M282.5 288v7M283.5 292v2M284.5 149v1M284.5 151v4M284.5 288v5M285.5 146v5M285.5 289v4M286.5 143v2M286.5 292v3M287.5 295v1M288.5 292v2M288.5 296v1M289.5 291v2M289.5 294v3M290.5 287v4M291.5 295v2M292.5 292v1M293.5 293v1M294.5 144v1M294.5 293v4M295.5 144v4M295.5 151v2M295.5 294v1M296.5 292v3M297.5 144v7M297.5 294v2M298.5 145v2M299.5 295v1M300.5 293v3M302.5 294v2M303.5 293v2M305.5 294v3M306.5 293v4M307.5 292v6M308.5 295v1M314.5 293v4M318.5 290v2M319.5 286v4M322.5 142v6M323.5 291v2M326.5 289v1M326.5 292v6M327.5 289v1M328.5 292v4M329.5 291v4M330.5 290v7M331.5 291v4M335.5 292v2M336.5 288v4M338.5 290v4M339.5 144v1M339.5 287v8M340.5 141v6M341.5 147v3M341.5 292v3M342.5 143v4M342.5 287v2M343.5 215v4M344.5 210v7M345.5 141v2M345.5 213v3M345.5 292v1M346.5 144v1M346.5 218v1M346.5 289v8M347.5 208v1M347.5 215v2M347.5 288v7M348.5 205v2M348.5 217v2M348.5 290v3M349.5 217v2M349.5 288v7M350.5 214v7M350.5 291v2M351.5 217v2M351.5 290v2M352.5 218v1M352.5 289v4M353.5 192v2M353.5 214v5M353.5 220v1M353.5 291v3M354.5 188v4M354.5 212v6M355.5 204v1M355.5 217v1M356.5 202v1M357.5 194v1M359.5 194v2M360.5 195v2M361.5 194v1M361.5 216v4M362.5 174v2M362.5 211v5M362.5 217v1M364.5 178v2M364.5 216v3M365.5 175v6M365.5 192v1M365.5 218v1M365.5 284v9M366.5 181v1M366.5 190v4M366.5 281v3M367.5 191v1M367.5 215v2M368.5 177v3M368.5 213v6M369.5 178v2M369.5 210v6M370.5 175v7M370.5 215v1M371.5 174v6M372.5 216v1M373.5 183v3M374.5 179v4M374.5 214v2M374.5 235v2M375.5 186v1M375.5 211v6M375.5 230v7M375.5 241v3M376.5 183v2M376.5 232v1M376.5 235v6M377.5 178v3M377.5 184v2M377.5 237v3M377.5 242v2M378.5 208v2M378.5 240v3M380.5 181v1M380.5 241v2M380.5 244v1M381.5 238v5M382.5 244v1M383.5 241v3M387.5 240v5M390.5 239v1M391.5 237v6M392.5 243v1M396.5 240v3M397.5 241v2M401.5 231v18M404.5 234v11M406.5 236v2M407.5 234v2M408.5 234v1M409.5 227v5M410.5 228v2M413.5 229v3M414.5 230v1M425.5 210v13M428.5 209v3M429.5 215v3M432.5 208v6M433.5 214v3M434.5 207v9M436.5 207v9M438.5 206v9M441.5 202v13M443.5 204v1M444.5 204v6M444.5 211v1M446.5 203v3M450.5 191v13M451.5 184v14M455.5 195v3M456.5 192v7M457.5 187v9M458.5 191v7M459.5 177v8M460.5 189v1M461.5 187v4"/>
<path stroke="#a91562" d="M140.5 215v5M143.5 217v3M145.5 217v2M146.5 214v4M147.5 215v5M148.5 215v2M150.5 214v1M150.5 216v2M151.5 213v6M152.5 215v3M153.5 215v4M154.5 217v2M164.5 220v1M166.5 216v8M183.5 190v4M185.5 193v2M187.5 191v6M188.5 195v3M189.5 190v3M196.5 186v7M197.5 182v7M198.5 188v5M199.5 180v3M203.5 182v3M205.5 182v6M206.5 181v2M207.5 177v3M214.5 181v2M217.5 177v4M218.5 177v2M219.5 173v9M220.5 176v3M221.5 180v1M223.5 178v1M224.5 239v1M225.5 236v5M225.5 247v2M226.5 173v6M226.5 238v4M226.5 244v2M227.5 166v12M227.5 234v2M227.5 237v1M227.5 239v1M228.5 172v4M228.5 243v1M229.5 238v4M229.5 244v2M230.5 174v5M230.5 241v4M231.5 168v9M232.5 174v4M232.5 244v2M233.5 240v4M234.5 171v1M234.5 242v3M234.5 246v2M234.5 251v2M235.5 173v1M235.5 240v3M235.5 247v4M235.5 253v2M236.5 247v5M237.5 250v1M237.5 253v2M238.5 168v3M238.5 250v7M238.5 264v1M239.5 166v6M239.5 251v3M239.5 262v2M240.5 168v7M240.5 265v1M240.5 270v1M241.5 165v1M241.5 262v2M242.5 167v2M242.5 265v1M243.5 164v1M243.5 263v3M244.5 167v3M244.5 266v5M245.5 162v10M245.5 270v2M246.5 167v4M246.5 266v5M247.5 165v1M249.5 250v2M250.5 249v3M251.5 167v3M251.5 249v5M252.5 165v6M252.5 242v3M252.5 247v2M252.5 257v1M252.5 262v2M253.5 168v1M253.5 244v5M253.5 259v2M254.5 243v1M254.5 259v1M255.5 162v6M257.5 159v5M258.5 164v4M259.5 239v1M259.5 282v1M260.5 158v6M260.5 285v2M261.5 239v2M261.5 281v3M262.5 161v1M262.5 237v6M262.5 283v1M263.5 158v6M264.5 237v6M265.5 279v4M266.5 235v5M267.5 237v4M267.5 281v2M268.5 146v1M268.5 158v5M268.5 238v1M268.5 283v2M269.5 149v1M269.5 284v3M270.5 153v3M270.5 284v3M271.5 153v1M271.5 280v8M272.5 154v2M272.5 280v5M273.5 150v2M273.5 287v1M274.5 285v2M275.5 285v2M276.5 283v7M277.5 147v7M277.5 282v1M279.5 288v2M280.5 147v5M281.5 151v2M283.5 146v4M283.5 290v2M284.5 147v2M284.5 286v2M285.5 142v1M285.5 144v2M286.5 139v4M286.5 147v3M286.5 287v5M287.5 144v3M287.5 286v5M288.5 142v8M288.5 288v4M289.5 289v2M290.5 147v3M291.5 294v1M292.5 291v1M294.5 142v2M295.5 141v3M296.5 143v2M297.5 291v3M298.5 290v6M299.5 289v6M300.5 292v1M301.5 290v6M302.5 288v5M303.5 288v1M303.5 292v1M304.5 289v7M307.5 291v1M308.5 288v7M309.5 290v5M310.5 290v3M311.5 290v5M312.5 290v5M313.5 289v6M315.5 293v3M316.5 288v8M317.5 289v1M318.5 286v4M324.5 292v1M325.5 290v6M327.5 290v5M329.5 290v1M330.5 287v3M332.5 289v3M333.5 288v2M334.5 286v7M336.5 137v2M337.5 140v1M337.5 289v2M338.5 285v5M339.5 285v1M340.5 290v2M341.5 143v2M341.5 288v4M342.5 139v4M342.5 215v2M342.5 289v2M343.5 211v3M343.5 286v7M344.5 138v1M345.5 288v4M346.5 213v5M347.5 209v6M348.5 212v5M349.5 213v4M349.5 287v1M350.5 203v7M350.5 285v6M351.5 203v1M351.5 212v5M351.5 288v2M352.5 200v1M352.5 215v3M352.5 288v1M353.5 204v1M354.5 201v5M355.5 205v1M355.5 211v2M355.5 215v2M356.5 189v1M356.5 209v6M356.5 288v4M357.5 188v4M357.5 213v6M357.5 286v5M358.5 213v4M358.5 282v10M359.5 193v1M359.5 215v2M359.5 286v3M360.5 192v3M360.5 284v8M361.5 187v4M361.5 215v1M362.5 163v1M362.5 191v3M362.5 209v2M362.5 216v1M363.5 161v3M363.5 176v1M363.5 188v4M363.5 281v10M364.5 159v1M364.5 174v4M364.5 190v3M364.5 211v5M365.5 213v5M366.5 174v7M366.5 211v6M366.5 284v3M367.5 177v1M367.5 185v6M367.5 209v6M368.5 189v2M370.5 211v4M371.5 169v3M371.5 211v5M372.5 213v3M372.5 232v4M373.5 169v1M373.5 180v3M373.5 213v2M373.5 230v4M375.5 167v1M376.5 213v2M376.5 233v1M377.5 231v1M379.5 183v2M379.5 226v1M379.5 238v6M380.5 233v8M381.5 236v2M382.5 234v8M383.5 236v5M384.5 179v1M384.5 234v5M384.5 241v1M385.5 239v5M388.5 238v4M389.5 239v1M390.5 236v3M392.5 239v4M396.5 237v2M397.5 236v5M398.5 238v1M399.5 237v1M400.5 233v7M406.5 225v5M406.5 232v4M407.5 228v1M408.5 226v6M410.5 224v3M410.5 230v3M411.5 226v4M413.5 228v1M414.5 225v5M415.5 225v7M422.5 209v2M423.5 221v3M429.5 211v3M430.5 206v9M438.5 204v1M439.5 209v1M445.5 194v2M446.5 190v13M447.5 198v4M449.5 198v2M453.5 192v3M454.5 199v3M460.5 180v2M461.5 182v1M462.5 180v12M463.5 179v14"/>
<path stroke="#ac184a" d="M140.5 212v3M141.5 212v5M142.5 211v8M143.5 214v3M144.5 210v9M145.5 210v7M147.5 213v2M148.5 214v1M149.5 212v5M150.5 215v1M152.5 214v1M153.5 211v4M154.5 214v3M155.5 214v4M156.5 214v2M185.5 190v3M186.5 186v7M195.5 187v3M198.5 185v2M200.5 183v5M203.5 185v1M204.5 180v4M205.5 177v3M209.5 178v6M210.5 173v10M211.5 174v10M212.5 180v4M213.5 174v3M214.5 176v5M215.5 178v2M220.5 174v2M226.5 237v1M227.5 238v1M227.5 240v1M228.5 236v1M228.5 238v5M229.5 236v2M232.5 166v8M232.5 240v2M233.5 172v3M234.5 169v2M234.5 245v1M235.5 169v4M235.5 243v2M236.5 170v2M236.5 238v2M237.5 248v2M237.5 251v2M238.5 243v2M238.5 246v3M238.5 261v3M239.5 165v1M239.5 248v3M239.5 254v2M239.5 257v5M239.5 264v1M240.5 162v6M240.5 249v4M240.5 261v4M241.5 166v5M241.5 252v2M242.5 165v2M242.5 251v1M242.5 260v1M242.5 262v3M243.5 165v3M243.5 266v2M244.5 160v7M244.5 262v4M245.5 252v1M245.5 264v4M246.5 166v1M246.5 265v1M247.5 166v3M247.5 245v1M247.5 251v1M248.5 162v9M248.5 252v1M248.5 260v1M249.5 165v1M249.5 248v2M249.5 252v1M250.5 245v1M250.5 248v1M251.5 244v5M251.5 257v7M252.5 241v1M252.5 245v2M252.5 258v4M252.5 277v4M253.5 235v6M253.5 256v3M253.5 261v2M254.5 161v6M254.5 235v8M255.5 238v2M255.5 279v1M256.5 158v1M256.5 161v3M256.5 277v7M257.5 155v4M257.5 164v3M257.5 235v6M257.5 280v7M258.5 158v3M258.5 237v3M258.5 280v3M259.5 236v3M259.5 240v2M259.5 283v2M260.5 236v4M261.5 156v3M261.5 238v1M262.5 151v10M262.5 236v1M262.5 278v4M263.5 232v1M263.5 234v7M263.5 276v7M264.5 154v8M264.5 234v3M264.5 278v3M265.5 235v4M266.5 278v3M267.5 157v3M267.5 277v4M268.5 155v3M268.5 274v8M269.5 150v9M269.5 277v2M269.5 287v1M270.5 144v1M270.5 156v2M270.5 283v1M272.5 285v3M273.5 281v6M274.5 284v1M276.5 149v3M278.5 148v5M278.5 286v3M279.5 280v4M279.5 285v3M280.5 137v1M280.5 279v2M280.5 287v1M280.5 291v1M281.5 142v9M282.5 137v11M282.5 285v3M283.5 139v7M283.5 287v3M285.5 143v1M285.5 286v3M286.5 145v2M287.5 141v1M287.5 143v1M288.5 138v3M289.5 144v1M289.5 286v3M289.5 293v1M290.5 143v4M290.5 291v3M291.5 144v3M291.5 287v7M292.5 139v9M293.5 142v2M293.5 290v3M294.5 292v1M295.5 140v1M295.5 290v4M298.5 289v1M299.5 286v1M300.5 289v3M302.5 293v1M303.5 291v1M305.5 291v3M306.5 290v3M310.5 288v2M311.5 289v1M314.5 291v2M315.5 287v1M315.5 291v2M324.5 289v3M325.5 283v7M326.5 287v2M326.5 290v2M327.5 285v4M328.5 290v2M329.5 285v5M330.5 286v1M331.5 284v7M332.5 285v4M334.5 284v2M335.5 280v12M337.5 285v4M339.5 286v1M340.5 284v6M343.5 139v1M343.5 141v2M344.5 139v6M345.5 210v3M345.5 287v1M346.5 209v4M346.5 285v4M348.5 208v2M348.5 211v1M348.5 288v2M349.5 202v2M349.5 211v2M349.5 284v3M350.5 196v5M350.5 212v2M351.5 208v4M352.5 201v1M352.5 209v6M352.5 286v2M353.5 199v5M353.5 207v7M353.5 282v2M353.5 289v2M354.5 187v1M354.5 206v2M354.5 285v6M355.5 185v3M355.5 190v2M355.5 283v4M356.5 182v2M356.5 186v3M356.5 200v1M356.5 206v2M357.5 192v2M357.5 211v2M358.5 188v6M358.5 211v2M359.5 186v7M359.5 209v6M360.5 211v3M361.5 191v3M361.5 207v8M362.5 184v7M363.5 210v4M365.5 276v6M367.5 176v1M368.5 174v3M369.5 165v2M369.5 176v2M370.5 166v2M370.5 172v3M371.5 172v2M372.5 167v1M372.5 170v2M372.5 173v9M372.5 208v4M372.5 229v3M373.5 167v2M373.5 175v2M373.5 205v4M373.5 212v1M373.5 224v1M373.5 229v1M374.5 176v3M374.5 210v4M374.5 226v9M375.5 166v1M375.5 209v2M375.5 229v1M376.5 210v3M376.5 227v5M377.5 182v2M377.5 205v8M377.5 232v3M377.5 236v1M378.5 236v4M379.5 206v2M379.5 232v6M384.5 239v2M385.5 179v1M385.5 234v3M389.5 238v1M393.5 237v3M394.5 233v8M395.5 235v5M396.5 239v1M398.5 235v3M402.5 226v14M405.5 224v3M405.5 231v5M406.5 223v2M406.5 230v2M407.5 220v8M410.5 227v1M411.5 225v1M412.5 225v3M418.5 219v7M419.5 207v1M420.5 209v15M426.5 207v10M427.5 206v1M428.5 212v1M431.5 206v6M433.5 204v8M435.5 202v10M437.5 202v8M440.5 198v13M442.5 200v8M444.5 192v12M445.5 196v12M447.5 197v1M448.5 195v1M453.5 190v2M454.5 186v13M455.5 187v8M456.5 188v2M457.5 181v3M458.5 176v12M459.5 192v8M461.5 183v4"/>
<path stroke="#af1a32" d="M141.5 211v1M142.5 209v2M143.5 211v3M146.5 211v3M147.5 211v2M206.5 179v2M207.5 180v2M208.5 176v5M209.5 171v7M212.5 176v4M213.5 177v5M214.5 175v1M225.5 235v1M226.5 230v7M227.5 236v1M228.5 233v2M230.5 239v2M231.5 236v6M232.5 239v1M233.5 168v4M234.5 167v2M234.5 172v1M234.5 239v3M235.5 238v2M235.5 245v2M236.5 240v7M237.5 236v1M237.5 245v3M238.5 245v1M238.5 249v1M239.5 244v1M239.5 246v2M240.5 241v3M240.5 253v1M241.5 248v4M242.5 248v3M242.5 261v1M243.5 250v2M243.5 259v4M244.5 247v2M244.5 250v2M245.5 245v1M245.5 250v1M246.5 165v1M246.5 247v1M246.5 260v1M246.5 262v3M247.5 161v4M247.5 246v4M247.5 261v3M248.5 248v4M248.5 261v3M249.5 245v3M249.5 276v4M250.5 244v1M250.5 246v2M250.5 255v1M250.5 260v1M251.5 161v6M252.5 235v6M254.5 275v5M255.5 235v3M255.5 275v4M256.5 237v2M258.5 232v5M259.5 153v9M259.5 235v1M259.5 277v5M260.5 233v3M260.5 278v3M261.5 154v2M261.5 233v5M261.5 277v4M263.5 154v4M263.5 231v1M263.5 233v1M264.5 232v2M265.5 153v5M265.5 232v3M265.5 275v4M266.5 154v1M266.5 271v2M266.5 276v2M267.5 154v3M267.5 233v4M269.5 148v1M269.5 279v5M270.5 145v8M270.5 275v4M271.5 143v8M271.5 152v1M271.5 272v2M272.5 145v6M273.5 141v9M273.5 279v2M274.5 143v12M274.5 280v4M275.5 145v9M275.5 278v7M276.5 281v2M278.5 145v3M279.5 150v2M279.5 284v1M280.5 144v3M280.5 281v6M281.5 284v3M282.5 280v5M284.5 143v4M286.5 284v3M287.5 142v1M289.5 284v2M290.5 138v5M290.5 282v4M291.5 137v7M292.5 285v6M293.5 138v4M293.5 288v2M294.5 145v3M294.5 289v3M295.5 284v6M296.5 286v6M297.5 289v2M300.5 288v1M301.5 286v4M303.5 286v1M303.5 289v2M304.5 286v3M305.5 286v5M306.5 288v2M307.5 286v5M309.5 285v5M310.5 285v1M310.5 287v1M311.5 283v6M312.5 285v5M313.5 283v6M314.5 287v4M321.5 286v8M323.5 287v2M324.5 287v2M328.5 283v7M329.5 284v1M330.5 280v6M333.5 286v2M334.5 282v2M336.5 279v9M337.5 280v4M338.5 284v1M340.5 139v2M341.5 133v7M342.5 133v6M342.5 285v2M343.5 140v1M343.5 281v3M345.5 208v2M347.5 284v4M348.5 210v1M348.5 281v7M350.5 201v2M350.5 283v2M351.5 197v6M351.5 280v8M352.5 285v1M353.5 198v1M353.5 284v5M354.5 196v5M354.5 208v4M354.5 278v3M355.5 188v2M355.5 201v3M355.5 206v5M356.5 282v6M357.5 208v3M358.5 195v4M358.5 210v1M359.5 207v2M360.5 174v4M360.5 188v4M360.5 204v7M361.5 168v6M361.5 206v1M362.5 164v1M362.5 172v2M362.5 275v2M363.5 170v6M363.5 187v1M363.5 291v2M364.5 160v2M364.5 173v1M364.5 204v5M364.5 210v1M364.5 277v5M365.5 155v3M365.5 172v3M365.5 185v7M365.5 209v4M365.5 282v2M366.5 188v2M366.5 206v5M367.5 171v5M368.5 161v3M368.5 173v1M368.5 206v7M369.5 167v1M369.5 171v5M369.5 208v2M370.5 163v1M370.5 207v4M371.5 165v4M371.5 209v2M372.5 159v8M372.5 212v1M372.5 228v1M373.5 164v3M373.5 177v3M373.5 209v3M374.5 164v2M374.5 173v3M374.5 206v4M375.5 164v2M375.5 173v1M375.5 177v3M376.5 161v2M376.5 176v7M376.5 205v5M377.5 173v1M377.5 181v1M377.5 229v2M377.5 235v1M378.5 178v5M378.5 205v3M378.5 226v5M378.5 233v3M379.5 179v4M380.5 179v2M380.5 231v1M382.5 178v1M384.5 175v4M385.5 175v4M385.5 237v2M386.5 177v1M386.5 233v8M387.5 235v5M388.5 176v3M388.5 235v3M389.5 174v3M390.5 179v1M390.5 233v2M391.5 234v3M392.5 238v1M393.5 172v1M393.5 235v2M394.5 175v4M396.5 233v4M397.5 232v4M398.5 232v3M399.5 230v7M404.5 221v1M404.5 231v3M405.5 223v1M405.5 228v3M408.5 219v7M409.5 222v5M411.5 222v3M412.5 220v5M413.5 218v10M414.5 222v3M419.5 208v15M427.5 207v7M439.5 199v9M443.5 188v4M443.5 197v7M447.5 187v3M449.5 190v8M453.5 189v1M456.5 190v2M459.5 185v3M460.5 177v3M461.5 181v1M463.5 178v1M464.5 175v10"/>
<path stroke="#b11d19" d="M143.5 207v4M144.5 209v1M146.5 207v4M153.5 210v1M154.5 208v6M155.5 212v2M212.5 175v1M227.5 231v1M228.5 235v1M228.5 237v1M229.5 168v2M229.5 234v2M230.5 163v3M230.5 236v3M231.5 232v3M232.5 236v3M233.5 164v4M233.5 235v5M234.5 230v3M234.5 235v4M237.5 237v8M238.5 242v1M239.5 245v1M240.5 245v4M240.5 258v3M241.5 239v4M241.5 247v1M241.5 254v8M242.5 242v1M242.5 247v1M242.5 258v2M243.5 242v5M243.5 258v1M244.5 240v6M244.5 249v1M244.5 258v4M245.5 246v4M245.5 251v1M245.5 256v8M246.5 155v10M246.5 241v6M246.5 248v5M246.5 256v1M246.5 258v2M246.5 261v1M247.5 250v1M247.5 256v5M248.5 234v1M248.5 244v4M248.5 259v1M249.5 157v2M249.5 161v4M249.5 240v2M250.5 165v3M250.5 235v1M250.5 240v4M250.5 252v3M251.5 160v1M251.5 235v3M251.5 239v5M251.5 256v1M252.5 157v8M252.5 233v1M253.5 157v11M254.5 270v2M255.5 234v1M256.5 236v1M257.5 154v1M257.5 234v1M258.5 150v8M258.5 275v5M259.5 234v1M260.5 151v7M260.5 231v2M260.5 274v4M261.5 275v2M262.5 234v2M262.5 272v6M263.5 152v2M264.5 148v4M264.5 274v4M266.5 232v3M266.5 273v3M267.5 269v8M268.5 272v2M269.5 271v6M270.5 268v7M270.5 279v4M271.5 274v4M271.5 279v1M272.5 275v1M276.5 148v1M276.5 279v2M277.5 279v3M278.5 143v1M278.5 276v5M279.5 139v11M279.5 277v3M280.5 138v2M281.5 138v4M281.5 282v2M283.5 276v11M284.5 278v8M285.5 283v3M286.5 283v1M287.5 281v5M288.5 279v9M289.5 138v1M289.5 281v3M291.5 286v1M292.5 283v2M293.5 286v2M294.5 284v5M295.5 283v1M297.5 285v4M298.5 284v5M299.5 287v2M300.5 283v5M302.5 283v5M303.5 287v1M307.5 281v5M308.5 284v4M309.5 284v1M310.5 286v1M312.5 283v2M314.5 282v3M315.5 288v3M316.5 284v2M316.5 287v1M317.5 285v4M319.5 285v1M322.5 285v3M323.5 289v2M324.5 281v1M325.5 281v2M326.5 278v9M327.5 282v3M331.5 282v2M332.5 283v2M333.5 281v5M337.5 284v1M338.5 281v3M339.5 282v3M340.5 278v6M341.5 280v8M342.5 280v5M343.5 284v2M344.5 280v8M345.5 207v1M345.5 282v5M346.5 207v2M349.5 281v3M350.5 281v2M352.5 199v1M353.5 196v2M355.5 197v4M356.5 184v2M356.5 201v1M356.5 203v3M356.5 208v1M356.5 281v1M357.5 180v8M357.5 195v7M357.5 203v5M357.5 278v8M358.5 186v2M358.5 206v4M358.5 278v4M359.5 183v3M359.5 204v3M359.5 280v6M360.5 279v5M361.5 286v3M362.5 165v3M363.5 183v4M363.5 203v1M364.5 172v1M364.5 183v7M364.5 201v3M364.5 209v1M364.5 272v2M365.5 161v4M365.5 204v5M366.5 151v13M366.5 168v6M366.5 203v3M367.5 170v1M369.5 163v2M369.5 169v1M369.5 203v5M370.5 161v2M370.5 164v2M370.5 168v4M371.5 161v4M372.5 172v1M372.5 205v3M373.5 153v2M373.5 156v1M373.5 170v5M373.5 225v4M374.5 162v1M374.5 166v2M374.5 172v1M374.5 200v1M374.5 220v4M375.5 168v3M375.5 175v2M375.5 208v1M375.5 225v4M376.5 163v2M376.5 202v3M376.5 226v1M377.5 204v1M377.5 223v6M378.5 176v2M379.5 172v2M379.5 176v3M379.5 225v1M380.5 171v8M381.5 177v2M381.5 230v6M382.5 174v4M382.5 230v4M383.5 175v3M383.5 232v2M385.5 233v1M386.5 175v2M386.5 231v2M387.5 172v3M388.5 175v1M389.5 231v7M390.5 173v1M390.5 235v1M391.5 168v2M391.5 231v3M392.5 174v2M392.5 229v9M393.5 155v2M393.5 176v1M393.5 232v3M394.5 172v3M395.5 152v4M395.5 231v4M400.5 228v5M405.5 221v2M405.5 227v1M406.5 219v4M409.5 221v1M410.5 222v2M412.5 219v1M414.5 220v2M415.5 216v9M416.5 214v15M421.5 204v15M423.5 204v13M425.5 204v6M428.5 205v4M429.5 200v11M432.5 199v3M437.5 199v1M438.5 205v1M441.5 197v5M447.5 192v5M455.5 183v4M457.5 184v3M458.5 188v3M459.5 173v1M461.5 169v1"/>
<path stroke="#b42000" d="M228.5 231v2M229.5 225v6M230.5 234v2M231.5 161v7M231.5 230v1M231.5 235v1M232.5 160v6M232.5 231v1M235.5 235v3M236.5 231v1M236.5 234v4M238.5 234v8M239.5 233v5M239.5 239v5M240.5 244v1M241.5 246v1M242.5 243v4M242.5 252v6M243.5 241v1M243.5 247v3M243.5 252v3M243.5 256v2M244.5 246v1M244.5 253v5M245.5 157v5M245.5 240v5M245.5 253v1M246.5 154v1M246.5 253v3M246.5 257v1M247.5 159v2M247.5 241v4M247.5 252v4M248.5 154v8M248.5 253v6M249.5 154v3M249.5 159v2M249.5 236v4M249.5 242v3M249.5 257v3M250.5 155v10M250.5 232v3M250.5 236v4M250.5 256v4M251.5 159v1M251.5 229v6M251.5 238v1M252.5 234v1M252.5 274v3M253.5 231v4M253.5 270v7M254.5 154v7M254.5 229v6M255.5 159v3M255.5 232v2M256.5 227v9M256.5 272v5M257.5 228v6M257.5 274v6M258.5 231v1M259.5 274v3M261.5 273v2M263.5 271v5M264.5 152v2M264.5 271v3M265.5 149v4M265.5 270v5M266.5 152v2M267.5 147v3M268.5 145v1M268.5 147v8M269.5 147v1M269.5 270v1M271.5 278v1M272.5 276v4M273.5 275v4M274.5 273v7M277.5 143v4M277.5 276v3M278.5 144v1M278.5 275v1M282.5 278v1M285.5 279v4M286.5 279v4M288.5 141v1M289.5 139v5M290.5 286v1M291.5 280v4M292.5 138v1M296.5 280v6M297.5 283v2M301.5 282v4M302.5 280v3M303.5 279v7M304.5 284v2M305.5 280v6M306.5 282v6M312.5 280v3M313.5 282v1M315.5 285v2M316.5 280v4M316.5 286v1M317.5 283v2M318.5 285v1M319.5 284v1M320.5 280v3M323.5 285v2M324.5 282v5M327.5 281v1M328.5 279v4M329.5 283v1M331.5 278v3M332.5 281v2M338.5 278v3M339.5 281v1M346.5 281v4M350.5 194v2M351.5 191v6M351.5 279v1M352.5 195v4M352.5 279v6M353.5 194v2M353.5 280v2M354.5 281v4M355.5 274v4M355.5 280v3M359.5 200v2M360.5 184v4M360.5 202v2M361.5 179v8M361.5 199v7M361.5 277v9M362.5 170v2M362.5 207v2M362.5 277v11M363.5 169v1M363.5 204v6M364.5 170v2M365.5 169v3M365.5 181v4M365.5 203v1M365.5 272v4M366.5 202v1M366.5 269v12M367.5 160v2M367.5 167v2M367.5 199v10M368.5 156v5M368.5 166v7M368.5 203v3M369.5 157v6M369.5 168v1M369.5 170v1M369.5 202v1M370.5 158v3M370.5 203v4M371.5 153v1M371.5 156v4M371.5 203v6M372.5 153v1M373.5 155v1M373.5 161v3M373.5 202v3M373.5 223v1M374.5 160v2M374.5 163v1M374.5 168v4M374.5 201v5M374.5 224v2M375.5 148v3M375.5 152v1M375.5 160v4M375.5 171v2M375.5 174v1M375.5 201v7M375.5 220v5M376.5 168v8M376.5 224v2M377.5 165v8M377.5 174v4M377.5 202v2M378.5 171v5M378.5 198v7M378.5 224v1M378.5 231v2M379.5 196v10M379.5 218v2M379.5 227v5M380.5 198v6M380.5 225v6M380.5 232v1M381.5 197v3M382.5 171v3M382.5 201v2M383.5 230v2M383.5 234v2M384.5 227v2M384.5 231v3M385.5 173v2M387.5 175v2M387.5 233v2M388.5 229v6M390.5 165v3M390.5 172v1M390.5 174v5M390.5 231v2M391.5 171v4M391.5 228v3M392.5 152v3M392.5 173v1M393.5 157v1M393.5 173v2M393.5 230v2M394.5 155v2M394.5 227v6M396.5 229v4M397.5 172v1M397.5 225v7M398.5 230v2M403.5 228v3M404.5 225v5M405.5 218v1M407.5 218v2M410.5 217v5M414.5 214v6M417.5 213v13M418.5 206v2M418.5 212v5M424.5 204v7M434.5 196v11M436.5 197v10M438.5 195v9M442.5 194v6M444.5 189v3M445.5 179v15M447.5 191v1M449.5 186v3M450.5 181v10M452.5 185v3M454.5 183v3M460.5 176v1M461.5 173v8M462.5 171v9M463.5 176v2"/>
<path stroke="#b72300" d="M227.5 232v2M228.5 228v3M229.5 231v3M230.5 228v6M232.5 232v4M233.5 226v9M234.5 228v2M234.5 233v2M235.5 229v6M240.5 239v2M241.5 235v4M241.5 243v3M242.5 237v5M243.5 239v1M243.5 255v1M244.5 252v1M245.5 237v3M245.5 254v2M246.5 240v1M247.5 235v6M248.5 219v1M248.5 233v1M248.5 236v2M248.5 240v4M248.5 268v3M249.5 223v1M249.5 227v1M249.5 230v6M249.5 253v4M249.5 264v12M251.5 158v1M252.5 155v2M252.5 230v3M252.5 272v2M253.5 228v3M254.5 227v2M254.5 272v3M255.5 268v7M256.5 271v1M257.5 272v2M258.5 273v2M259.5 270v4M260.5 272v2M261.5 271v2M262.5 268v4M263.5 150v2M263.5 268v2M265.5 145v4M266.5 144v8M266.5 268v3M267.5 150v4M267.5 268v1M268.5 267v5M269.5 269v1M271.5 142v1M273.5 273v1M275.5 133v5M275.5 271v7M276.5 137v11M276.5 272v7M277.5 141v2M278.5 139v4M280.5 140v4M282.5 279v1M283.5 275v1M284.5 274v4M291.5 284v2M292.5 277v2M292.5 280v3M293.5 281v5M294.5 281v3M295.5 280v3M298.5 283v1M299.5 280v6M300.5 278v5M301.5 280v2M304.5 280v4M307.5 279v2M308.5 275v9M309.5 278v6M310.5 275v10M311.5 280v3M313.5 278v4M314.5 285v2M315.5 278v7M316.5 279v1M318.5 281v4M319.5 278v6M321.5 279v7M322.5 282v3M323.5 282v3M324.5 277v2M324.5 280v1M325.5 277v4M326.5 276v2M327.5 279v2M328.5 275v4M329.5 276v7M330.5 278v2M331.5 281v1M332.5 277v4M333.5 280v1M334.5 278v4M336.5 278v1M337.5 275v5M339.5 279v2M341.5 276v2M343.5 277v4M344.5 279v1M345.5 277v5M346.5 277v4M347.5 275v9M348.5 279v2M349.5 280v1M350.5 277v4M352.5 191v4M354.5 194v2M355.5 192v5M356.5 190v10M357.5 202v1M358.5 183v3M358.5 199v7M359.5 177v6M359.5 196v4M359.5 202v2M360.5 178v6M360.5 198v3M361.5 174v4M361.5 195v1M361.5 198v1M362.5 168v2M362.5 181v3M362.5 196v11M363.5 164v5M363.5 201v2M363.5 274v7M364.5 166v4M364.5 181v2M364.5 270v2M364.5 276v1M365.5 158v3M365.5 167v2M365.5 200v3M365.5 267v5M366.5 165v3M367.5 158v2M367.5 169v1M368.5 153v3M368.5 192v1M371.5 160v1M372.5 154v5M372.5 199v1M372.5 202v3M373.5 157v4M373.5 199v1M374.5 154v4M375.5 199v2M375.5 217v2M376.5 158v3M376.5 165v2M376.5 199v3M376.5 219v5M377.5 161v3M378.5 225v1M379.5 174v2M379.5 222v3M380.5 169v2M380.5 223v2M381.5 168v9M381.5 228v2M382.5 198v3M382.5 224v3M382.5 228v2M383.5 227v3M384.5 226v1M384.5 229v2M385.5 170v1M385.5 223v1M385.5 226v7M386.5 229v2M387.5 164v2M387.5 230v3M388.5 166v2M388.5 170v4M389.5 167v7M390.5 152v1M390.5 163v2M390.5 168v4M391.5 153v2M391.5 170v1M391.5 226v2M392.5 149v3M392.5 166v7M392.5 228v1M393.5 151v4M393.5 166v6M393.5 175v1M393.5 229v1M394.5 152v3M394.5 165v2M394.5 168v4M395.5 162v1M395.5 229v2M396.5 227v1M397.5 224v1M398.5 169v8M398.5 221v9M399.5 169v1M399.5 226v4M402.5 198v1M403.5 218v1M403.5 223v1M404.5 167v3M404.5 216v5M404.5 224v1M404.5 230v1M405.5 219v2M406.5 213v6M407.5 216v2M408.5 211v8M409.5 216v5M410.5 213v4M411.5 211v11M412.5 213v6M413.5 211v2M418.5 208v4M418.5 217v2M422.5 202v7M426.5 200v7M427.5 199v7M430.5 197v9M431.5 191v9M432.5 202v6M436.5 194v2M437.5 193v6M437.5 200v2M441.5 193v4M443.5 192v5M444.5 178v11M446.5 189v1M448.5 183v12M449.5 189v1M453.5 184v5M454.5 179v4M455.5 175v8M459.5 174v3M460.5 169v7M461.5 170v3M463.5 173v3"/>
<path stroke="#ba2600" d="M231.5 231v1M232.5 228v3M235.5 228v1M236.5 227v2M237.5 233v3M238.5 232v2M239.5 229v4M239.5 238v1M240.5 235v4M242.5 234v3M243.5 236v3M243.5 240v1M244.5 236v4M245.5 232v5M246.5 234v6M248.5 230v3M248.5 235v1M248.5 238v2M249.5 219v4M249.5 228v2M250.5 224v8M251.5 227v2M252.5 227v3M252.5 270v2M255.5 226v6M257.5 271v1M258.5 267v6M259.5 269v1M260.5 268v2M261.5 268v3M263.5 270v1M264.5 269v2M265.5 266v4M266.5 264v1M266.5 266v2M267.5 267v1M272.5 140v5M272.5 273v2M273.5 133v8M273.5 274v1M274.5 136v7M274.5 271v2M275.5 140v5M277.5 136v5M277.5 271v5M278.5 135v4M281.5 133v5M282.5 133v4M285.5 276v3M292.5 279v1M293.5 274v7M294.5 277v4M295.5 278v2M296.5 275v1M296.5 279v1M297.5 277v6M298.5 281v2M304.5 276v4M305.5 279v1M311.5 277v3M312.5 279v1M313.5 274v4M314.5 274v8M317.5 281v2M318.5 279v2M320.5 277v1M323.5 280v2M324.5 279v1M327.5 274v5M330.5 275v3M331.5 277v1M332.5 276v1M333.5 276v4M334.5 270v4M335.5 276v4M336.5 271v7M338.5 277v1M339.5 275v2M341.5 278v2M342.5 275v5M344.5 277v2M350.5 276v1M351.5 274v5M352.5 275v4M353.5 273v7M354.5 275v3M355.5 271v3M355.5 278v2M356.5 181v1M356.5 275v6M357.5 179v1M357.5 277v1M358.5 176v7M358.5 275v3M359.5 276v4M360.5 201v1M360.5 276v3M361.5 178v1M361.5 196v2M363.5 177v6M363.5 266v1M364.5 163v3M364.5 269v1M364.5 274v2M365.5 165v2M365.5 196v4M366.5 164v1M366.5 198v4M367.5 147v11M367.5 162v5M368.5 164v2M369.5 155v2M369.5 200v2M370.5 196v7M371.5 155v1M371.5 198v5M372.5 195v4M372.5 200v2M373.5 200v2M374.5 158v2M374.5 198v2M375.5 151v1M375.5 154v6M375.5 219v1M376.5 147v3M376.5 153v3M376.5 167v1M376.5 198v1M376.5 216v1M377.5 159v2M377.5 196v6M377.5 218v5M378.5 153v9M378.5 169v2M378.5 212v12M379.5 160v1M379.5 166v6M380.5 156v4M380.5 220v3M381.5 153v2M381.5 193v4M381.5 215v6M381.5 227v1M382.5 149v4M382.5 170v1M382.5 197v1M382.5 223v1M383.5 151v1M383.5 167v8M383.5 195v5M383.5 226v1M384.5 150v3M384.5 171v4M384.5 224v2M385.5 149v1M385.5 171v2M386.5 163v1M386.5 168v7M386.5 226v3M387.5 170v2M387.5 222v8M388.5 151v1M388.5 174v1M390.5 220v11M391.5 162v6M392.5 162v4M393.5 150v1M393.5 158v1M393.5 161v5M393.5 228v1M394.5 158v7M394.5 167v1M394.5 225v2M395.5 156v6M395.5 168v3M395.5 226v3M396.5 159v3M396.5 228v1M397.5 158v3M399.5 158v3M399.5 174v3M399.5 222v4M400.5 220v8M401.5 194v2M401.5 223v8M402.5 196v2M402.5 223v3M403.5 192v8M403.5 224v4M404.5 222v2M405.5 214v4M407.5 211v5M409.5 215v1M412.5 212v1M413.5 217v1M420.5 202v7M423.5 201v3M424.5 202v2M426.5 195v5M435.5 192v10M440.5 192v6M450.5 169v10M452.5 180v5M456.5 175v13M458.5 170v2"/>
<path stroke="#bd2a00" d="M230.5 227v1M231.5 224v6M232.5 225v3M234.5 227v1M235.5 225v1M236.5 229v1M236.5 232v2M237.5 229v4M240.5 231v1M242.5 227v2M242.5 233v1M243.5 228v8M244.5 226v10M245.5 229v1M246.5 153v1M246.5 219v1M247.5 151v8M247.5 219v2M248.5 216v3M248.5 220v2M248.5 224v6M249.5 226v1M250.5 223v1M251.5 221v6M251.5 267v3M252.5 266v4M256.5 266v5M257.5 264v7M259.5 266v3M260.5 270v2M262.5 264v4M263.5 265v3M264.5 264v5M265.5 262v1M266.5 265v1M267.5 145v2M273.5 271v2M274.5 266v5M276.5 135v2M276.5 269v3M277.5 130v6M296.5 278v1M297.5 274v3M298.5 276v5M299.5 278v2M309.5 277v1M311.5 272v5M312.5 275v4M315.5 274v4M317.5 278v3M318.5 274v1M318.5 276v3M320.5 278v2M321.5 274v5M322.5 278v4M328.5 272v1M328.5 274v1M329.5 273v3M330.5 273v2M331.5 271v6M332.5 273v3M333.5 273v2M334.5 274v4M335.5 269v7M337.5 273v2M338.5 270v7M339.5 277v2M340.5 274v4M341.5 272v4M342.5 273v2M343.5 274v3M344.5 270v4M345.5 275v2M346.5 272v5M347.5 272v3M348.5 269v10M349.5 276v4M352.5 272v1M356.5 273v2M357.5 275v2M358.5 274v1M359.5 271v5M360.5 275v1M361.5 273v4M362.5 176v5M362.5 274v1M363.5 192v4M363.5 198v3M364.5 162v1M364.5 195v1M364.5 197v4M364.5 264v5M365.5 266v1M367.5 192v7M368.5 195v8M369.5 194v1M369.5 199v1M371.5 154v1M371.5 197v1M374.5 197v1M375.5 193v6M376.5 156v2M376.5 215v1M377.5 152v7M377.5 164v1M377.5 195v1M378.5 162v5M378.5 194v4M379.5 152v8M379.5 220v2M380.5 194v4M380.5 217v3M381.5 151v2M381.5 191v2M381.5 221v6M382.5 217v6M382.5 227v1M383.5 221v5M384.5 146v4M384.5 169v2M384.5 195v4M385.5 148v1M385.5 163v7M385.5 193v5M386.5 146v4M386.5 165v3M387.5 149v2M387.5 168v2M388.5 149v2M388.5 168v2M388.5 222v7M389.5 164v3M389.5 223v8M391.5 160v1M392.5 159v3M392.5 224v4M393.5 159v2M393.5 222v6M394.5 157v1M394.5 224v1M395.5 163v5M395.5 225v1M396.5 168v6M396.5 223v4M397.5 157v1M397.5 165v7M398.5 157v1M398.5 166v3M399.5 157v1M399.5 167v1M399.5 170v4M400.5 159v1M400.5 167v7M401.5 154v4M401.5 166v4M402.5 157v1M402.5 195v1M403.5 155v5M403.5 165v5M403.5 212v6M404.5 193v3M406.5 211v2M407.5 167v1M407.5 208v3M408.5 164v1M408.5 209v2M409.5 212v3M410.5 208v5M413.5 213v4M414.5 208v3M414.5 212v2M415.5 209v7M416.5 207v7M419.5 201v6M420.5 201v1M421.5 200v4M428.5 193v12M430.5 187v8M431.5 200v6M433.5 188v16M440.5 189v3M441.5 183v3M441.5 188v5M442.5 175v19M443.5 181v7M444.5 169v7M446.5 187v2M447.5 176v11M449.5 174v12M450.5 179v2M451.5 176v8M453.5 177v7M459.5 172v1M462.5 166v5"/>
<path stroke="#bf2d00" d="M232.5 224v1M233.5 222v1M235.5 226v2M236.5 221v6M236.5 230v1M238.5 228v4M239.5 222v7M240.5 224v7M240.5 232v3M241.5 227v8M242.5 231v2M245.5 230v2M246.5 227v3M247.5 224v11M248.5 264v2M249.5 224v2M249.5 260v3M250.5 221v2M251.5 266v1M252.5 222v5M252.5 264v2M254.5 266v4M255.5 261v7M258.5 263v4M259.5 265v1M260.5 265v3M261.5 262v6M263.5 264v1M264.5 260v4M265.5 263v3M272.5 138v2M275.5 266v5M276.5 134v1M296.5 276v2M297.5 272v2M298.5 275v1M313.5 273v1M319.5 277v1M320.5 275v2M322.5 277v1M328.5 273v1M329.5 271v2M330.5 271v2M333.5 272v1M333.5 275v1M337.5 269v4M339.5 272v3M340.5 270v2M341.5 271v1M342.5 269v4M344.5 274v3M345.5 269v6M349.5 271v5M350.5 275v1M352.5 273v2M353.5 270v1M354.5 273v2M355.5 268v3M357.5 273v2M358.5 270v4M360.5 272v3M362.5 194v2M362.5 271v3M363.5 196v2M364.5 193v2M364.5 196v1M364.5 263v1M365.5 193v3M365.5 260v6M366.5 194v1M366.5 196v2M366.5 265v4M368.5 150v3M368.5 191v1M368.5 193v1M369.5 145v10M369.5 188v2M369.5 195v4M370.5 149v9M371.5 195v2M372.5 192v3M373.5 192v7M374.5 188v9M375.5 191v2M376.5 152v1M376.5 193v5M376.5 217v2M377.5 149v3M377.5 191v4M377.5 213v5M378.5 167v2M378.5 210v2M379.5 147v1M379.5 161v3M379.5 195v1M379.5 210v1M379.5 216v2M380.5 146v10M380.5 167v2M380.5 213v1M381.5 148v3M381.5 163v5M382.5 148v1M382.5 191v6M382.5 216v1M383.5 146v5M383.5 152v1M383.5 163v4M383.5 193v2M384.5 144v2M384.5 162v7M384.5 192v3M384.5 222v2M385.5 145v3M385.5 219v4M385.5 224v2M386.5 145v1M386.5 220v6M387.5 148v1M387.5 162v2M387.5 166v2M387.5 185v1M388.5 163v3M388.5 189v1M390.5 157v6M391.5 161v1M391.5 223v3M392.5 155v4M392.5 214v10M394.5 190v1M395.5 221v4M396.5 155v1M396.5 188v1M397.5 156v1M398.5 154v1M398.5 158v2M399.5 155v2M399.5 161v3M399.5 168v1M400.5 156v3M400.5 165v2M400.5 191v1M401.5 163v3M401.5 190v4M402.5 164v1M402.5 188v7M403.5 163v2M403.5 189v3M403.5 211v1M403.5 219v4M404.5 156v2M404.5 189v1M404.5 192v1M404.5 208v8M405.5 208v6M406.5 187v2M406.5 209v2M407.5 205v3M408.5 208v1M409.5 208v4M411.5 208v3M412.5 206v6M414.5 211v1M415.5 207v2M417.5 205v8M422.5 197v5M425.5 195v9M435.5 189v1M436.5 173v8M436.5 185v9M436.5 196v1M437.5 175v3M439.5 183v16M446.5 174v4M447.5 190v1M458.5 175v1"/>
<path stroke="#c23100" d="M231.5 223v1M232.5 221v3M233.5 223v3M234.5 218v9M235.5 222v3M236.5 218v2M237.5 216v1M237.5 218v1M238.5 227v1M242.5 229v2M244.5 225v1M246.5 216v3M246.5 230v4M247.5 221v3M248.5 222v2M249.5 263v1M250.5 261v1M251.5 220v1M251.5 264v2M253.5 263v7M254.5 260v6M260.5 260v5M262.5 263v1M274.5 133v3M275.5 138v2M312.5 271v4M318.5 275v1M319.5 273v4M334.5 269v1M335.5 267v2M338.5 269v1M340.5 272v2M341.5 268v3M343.5 267v3M343.5 271v3M346.5 267v5M350.5 268v7M351.5 272v2M352.5 271v1M353.5 271v2M354.5 267v6M356.5 269v4M357.5 267v6M358.5 269v1M359.5 266v5M361.5 269v4M362.5 260v3M362.5 268v2M363.5 262v4M363.5 267v7M364.5 260v3M366.5 148v3M366.5 195v1M367.5 144v1M368.5 194v1M369.5 190v4M370.5 148v1M370.5 190v2M371.5 191v4M372.5 189v3M373.5 191v1M375.5 153v1M376.5 150v2M376.5 185v1M377.5 148v1M378.5 151v2M378.5 190v4M379.5 148v4M379.5 164v2M379.5 192v3M379.5 211v3M380.5 160v7M380.5 188v6M380.5 211v2M380.5 216v1M381.5 146v2M381.5 187v3M381.5 213v2M382.5 161v9M382.5 215v1M383.5 156v7M383.5 219v2M384.5 190v2M384.5 216v1M385.5 162v1M385.5 191v2M385.5 210v1M386.5 162v1M386.5 164v1M386.5 187v4M387.5 145v3M387.5 152v5M387.5 159v3M387.5 186v1M389.5 152v1M389.5 155v1M389.5 159v5M389.5 218v1M389.5 220v2M390.5 153v3M390.5 216v4M391.5 155v5M392.5 189v3M393.5 185v6M394.5 219v5M395.5 188v1M395.5 219v2M396.5 156v3M396.5 162v6M396.5 185v3M396.5 216v7M397.5 152v4M397.5 161v4M397.5 189v2M397.5 212v12M398.5 151v3M398.5 164v2M399.5 164v3M400.5 154v2M400.5 160v5M402.5 153v4M402.5 165v5M402.5 208v5M402.5 216v7M403.5 153v2M403.5 160v3M403.5 207v4M404.5 154v2M404.5 163v2M404.5 190v2M404.5 205v3M405.5 186v4M405.5 205v3M406.5 164v5M406.5 201v8M408.5 150v1M408.5 207v1M409.5 204v4M410.5 207v1M411.5 205v3M413.5 206v5M414.5 203v5M415.5 204v1M419.5 200v1M420.5 197v4M423.5 196v5M424.5 193v9M429.5 190v10M432.5 182v17M434.5 188v8M437.5 183v10M441.5 177v6M447.5 169v7M448.5 165v18M451.5 173v3M456.5 167v8M457.5 162v19"/>
<path stroke="#c43500" d="M233.5 221v1M235.5 221v1M236.5 220v1M237.5 215v1M237.5 217v1M237.5 219v4M237.5 225v4M238.5 213v2M238.5 220v7M241.5 222v5M242.5 225v2M244.5 224v1M245.5 221v8M255.5 259v2M256.5 258v8M259.5 259v6M261.5 259v3M335.5 265v2M336.5 269v2M337.5 267v2M338.5 267v2M339.5 264v8M342.5 268v1M344.5 267v3M345.5 263v4M347.5 270v2M348.5 266v1M348.5 268v1M351.5 269v3M352.5 267v4M356.5 268v1M357.5 266v1M358.5 263v6M360.5 267v5M361.5 258v1M361.5 266v1M362.5 267v1M362.5 270v1M363.5 261v1M364.5 257v3M365.5 259v1M370.5 187v3M370.5 192v4M371.5 187v4M372.5 187v2M373.5 187v4M375.5 187v4M376.5 186v7M377.5 188v3M378.5 147v4M378.5 184v6M379.5 214v2M380.5 214v2M381.5 155v8M381.5 190v1M381.5 209v4M382.5 153v3M382.5 159v1M382.5 188v3M383.5 153v3M383.5 189v4M383.5 211v4M384.5 156v6M384.5 187v3M384.5 219v3M385.5 150v12M385.5 188v3M385.5 217v2M386.5 155v7M386.5 219v1M387.5 158v1M387.5 217v5M388.5 156v7M388.5 186v1M388.5 188v1M388.5 219v3M389.5 156v3M389.5 186v3M389.5 219v1M389.5 222v1M390.5 156v1M390.5 186v2M391.5 188v2M391.5 217v6M392.5 186v3M393.5 217v5M394.5 188v2M395.5 183v5M397.5 187v2M398.5 155v2M398.5 160v4M398.5 180v5M398.5 214v7M399.5 152v3M399.5 212v10M400.5 151v3M401.5 158v5M401.5 215v8M402.5 152v1M402.5 186v2M403.5 149v3M403.5 181v8M404.5 153v1M404.5 165v2M404.5 186v3M404.5 200v3M405.5 150v4M405.5 159v8M405.5 182v4M406.5 150v1M408.5 161v3M408.5 203v4M409.5 157v7M409.5 203v1M410.5 160v3M410.5 205v2M411.5 202v1M415.5 206v1M416.5 154v1M416.5 204v3M417.5 201v4M418.5 196v10M424.5 178v1M427.5 186v13M429.5 188v2M430.5 195v2M437.5 181v2M438.5 178v17M439.5 175v2M440.5 176v5M440.5 182v7M441.5 186v2M444.5 176v2M445.5 169v10M446.5 178v9M452.5 173v7M453.5 167v10M454.5 175v4M458.5 172v3"/>
<path stroke="#c73a00" d="M235.5 218v3M237.5 223v2M238.5 216v2M240.5 221v3M241.5 220v2M242.5 217v8M243.5 221v7M244.5 213v1M244.5 220v4M245.5 212v4M246.5 221v6M257.5 256v8M258.5 259v4M260.5 258v2M334.5 268v1M336.5 266v3M337.5 266v1M340.5 264v6M341.5 260v8M342.5 264v4M343.5 266v1M343.5 270v1M344.5 265v1M345.5 267v2M346.5 264v3M347.5 263v7M348.5 267v1M349.5 264v7M350.5 266v2M351.5 266v3M353.5 267v3M354.5 262v5M355.5 264v4M356.5 267v1M361.5 267v2M362.5 256v4M363.5 257v4M367.5 145v2M368.5 141v9M369.5 144v1M377.5 186v1M379.5 185v7M379.5 208v2M380.5 182v6M380.5 204v5M381.5 184v3M382.5 156v3M382.5 160v1M382.5 180v8M382.5 209v6M383.5 184v5M383.5 215v4M384.5 153v3M384.5 186v1M384.5 209v7M384.5 217v2M385.5 187v1M385.5 214v3M386.5 153v2M386.5 214v5M387.5 151v1M387.5 157v1M387.5 216v1M388.5 152v4M388.5 182v4M388.5 187v1M388.5 217v2M389.5 153v2M389.5 185v1M389.5 215v3M390.5 182v4M391.5 184v4M392.5 182v4M393.5 177v3M393.5 182v1M394.5 214v1M395.5 214v5M396.5 183v1M397.5 181v6M398.5 150v1M399.5 146v6M399.5 182v1M400.5 148v3M400.5 183v8M400.5 210v10M401.5 146v8M401.5 184v6M402.5 148v4M402.5 158v6M402.5 182v4M402.5 213v3M403.5 148v1M403.5 152v1M403.5 200v6M404.5 149v4M404.5 159v4M404.5 183v3M404.5 203v2M405.5 147v3M405.5 156v3M405.5 200v5M406.5 157v3M406.5 161v3M406.5 180v3M406.5 185v2M406.5 195v6M407.5 156v11M407.5 182v3M407.5 199v6M408.5 151v3M410.5 154v4M410.5 202v3M411.5 199v3M412.5 202v4M413.5 197v9M415.5 149v8M415.5 201v3M415.5 205v1M416.5 183v1M416.5 197v2M416.5 200v4M417.5 195v2M417.5 200v1M418.5 194v2M419.5 193v7M420.5 180v1M421.5 191v9M424.5 186v3M425.5 180v15M426.5 186v9M434.5 183v2M435.5 186v3M435.5 190v2M440.5 181v1M441.5 171v6M446.5 160v14M454.5 165v10M455.5 170v5"/>
<path stroke="#ca3e00" d="M238.5 212v1M239.5 221v1M240.5 209v1M240.5 216v5M241.5 207v1M241.5 216v4M243.5 208v3M244.5 212v1M245.5 220v1M246.5 220v1M255.5 257v2M256.5 254v4M336.5 265v1M337.5 263v3M338.5 262v5M344.5 266v1M348.5 265v1M349.5 262v2M351.5 263v1M351.5 265v1M352.5 265v2M353.5 262v5M356.5 263v4M361.5 264v2M362.5 263v4M377.5 187v1M378.5 183v1M380.5 209v2M381.5 180v4M381.5 200v9M382.5 205v4M383.5 208v3M384.5 180v6M385.5 182v5M385.5 213v1M386.5 150v3M386.5 181v6M386.5 207v2M387.5 182v3M387.5 214v2M388.5 210v4M388.5 215v2M390.5 181v1M390.5 214v2M391.5 175v1M391.5 179v5M391.5 215v2M392.5 210v4M393.5 180v2M393.5 183v2M393.5 215v2M394.5 179v9M395.5 176v1M395.5 182v1M396.5 213v3M397.5 209v3M399.5 177v1M399.5 179v3M401.5 145v1M401.5 183v1M401.5 198v6M402.5 177v4M402.5 202v6M403.5 147v1M403.5 206v1M404.5 145v4M405.5 178v4M406.5 151v5M406.5 160v1M406.5 183v2M408.5 201v2M409.5 199v4M410.5 159v1M410.5 163v1M410.5 195v7M411.5 158v4M411.5 203v2M412.5 199v3M414.5 200v3M416.5 179v4M416.5 199v1M417.5 181v3M417.5 199v1M420.5 188v9M422.5 175v4M422.5 187v10M423.5 190v6M424.5 189v1M427.5 175v2M431.5 185v6M433.5 184v4M436.5 172v1M437.5 169v4M438.5 169v1M441.5 168v3M442.5 164v11M443.5 171v10M449.5 162v12M451.5 165v8M452.5 170v3M454.5 161v2M455.5 167v3"/>
<path stroke="#cc4300" d="M238.5 218v2M239.5 214v7M244.5 217v3M245.5 216v4M256.5 252v2M257.5 254v2M335.5 263v2M336.5 260v5M337.5 261v2M338.5 259v3M339.5 263v1M343.5 264v2M344.5 261v2M345.5 262v1M346.5 259v5M347.5 262v1M348.5 262v3M350.5 262v4M352.5 259v6M357.5 256v10M358.5 260v3M359.5 259v7M360.5 262v5M361.5 259v5M381.5 179v1M382.5 179v1M382.5 204v1M383.5 178v6M383.5 201v7M384.5 201v5M385.5 211v2M386.5 178v3M386.5 203v3M386.5 211v1M387.5 177v3M388.5 180v2M388.5 214v1M389.5 177v8M389.5 211v4M390.5 180v1M390.5 211v3M391.5 176v3M391.5 211v4M392.5 179v3M392.5 209v1M393.5 210v5M394.5 215v4M395.5 179v3M396.5 182v1M396.5 184v1M400.5 177v2M400.5 180v3M401.5 176v7M401.5 209v6M402.5 181v1M402.5 200v2M403.5 179v2M404.5 158v1M404.5 180v3M405.5 154v2M405.5 194v6M406.5 179v1M406.5 191v1M407.5 149v4M407.5 168v1M407.5 176v6M408.5 154v3M408.5 158v3M408.5 177v3M408.5 196v5M409.5 149v5M409.5 197v2M410.5 153v1M411.5 147v2M411.5 151v7M411.5 198v1M412.5 195v3M413.5 196v1M414.5 199v1M415.5 179v2M415.5 198v1M416.5 177v2M416.5 195v2M417.5 177v4M417.5 188v3M417.5 197v2M418.5 177v4M418.5 190v4M419.5 177v2M419.5 189v4M420.5 177v3M423.5 177v4M424.5 176v2M427.5 173v2M428.5 169v7M428.5 182v11M429.5 181v7M430.5 171v1M430.5 183v4M433.5 179v5M434.5 179v4M434.5 185v3M435.5 173v10M436.5 181v4M437.5 173v2M439.5 174v1M439.5 177v6M440.5 166v10M444.5 166v3M450.5 166v3M451.5 163v2M452.5 169v1M455.5 163v4M456.5 157v10"/>
<path stroke="#cf4800" d="M240.5 210v1M241.5 215v1M242.5 212v5M243.5 214v7M244.5 214v3M337.5 258v3M344.5 263v2M345.5 258v2M347.5 261v1M348.5 259v1M351.5 259v4M351.5 264v1M354.5 260v2M355.5 257v7M356.5 261v2M360.5 260v2M382.5 203v1M383.5 200v1M384.5 199v2M385.5 180v2M385.5 207v3M386.5 209v2M386.5 212v2M387.5 180v2M387.5 205v1M387.5 207v7M388.5 179v1M388.5 205v5M389.5 208v3M390.5 210v1M391.5 210v1M392.5 176v3M393.5 196v2M394.5 198v5M394.5 207v1M394.5 209v5M395.5 171v5M395.5 177v2M395.5 211v3M396.5 174v8M396.5 206v7M397.5 178v3M399.5 178v1M400.5 174v3M400.5 179v1M401.5 170v4M401.5 175v1M402.5 199v1M404.5 196v4M405.5 190v4M406.5 156v1M406.5 172v7M406.5 192v3M407.5 153v3M407.5 187v12M408.5 157v1M408.5 176v1M409.5 154v3M409.5 174v2M410.5 158v1M411.5 197v1M412.5 152v6M412.5 198v1M413.5 146v3M413.5 195v1M414.5 195v4M415.5 195v3M415.5 199v2M416.5 184v2M417.5 175v2M417.5 191v4M419.5 176v1M421.5 183v8M423.5 183v4M424.5 190v3M425.5 175v5M426.5 172v6M429.5 170v5M431.5 168v5M431.5 179v6M432.5 181v1M437.5 178v3M438.5 170v8M439.5 164v10M440.5 165v1M441.5 167v1M444.5 159v7M447.5 162v1M447.5 166v3M448.5 160v5M452.5 159v10"/>
<path stroke="#d14d00" d="M238.5 215v1M239.5 209v5M240.5 213v3M241.5 209v6M345.5 260v2M346.5 256v3M347.5 257v4M348.5 257v2M348.5 260v2M349.5 257v5M350.5 260v2M353.5 259v3M354.5 256v4M355.5 256v1M356.5 253v8M360.5 258v2M384.5 206v3M385.5 202v5M386.5 206v1M387.5 204v1M391.5 201v1M391.5 204v1M391.5 206v4M392.5 202v7M393.5 198v4M393.5 204v6M394.5 197v1M394.5 208v1M395.5 196v2M395.5 205v6M397.5 173v5M397.5 207v2M398.5 177v3M398.5 203v11M401.5 174v1M401.5 196v2M402.5 172v1M402.5 174v3M403.5 170v9M404.5 170v10M405.5 172v6M407.5 172v4M408.5 171v5M409.5 196v1M410.5 147v6M410.5 173v2M410.5 192v3M412.5 192v3M413.5 149v1M413.5 188v7M414.5 150v8M414.5 170v7M414.5 191v4M415.5 148v1M415.5 174v5M415.5 192v3M416.5 151v3M416.5 172v3M416.5 176v1M417.5 174v1M417.5 184v4M418.5 154v2M418.5 173v4M418.5 186v4M420.5 152v1M420.5 173v4M421.5 167v9M422.5 179v2M423.5 175v2M423.5 181v2M423.5 187v3M424.5 172v4M424.5 179v7M426.5 178v8M427.5 177v9M428.5 179v3M429.5 176v5M430.5 180v3M434.5 168v6M435.5 171v2M435.5 183v3M437.5 165v1M443.5 167v4M450.5 162v1M451.5 160v3M454.5 163v2"/>
<path stroke="#d35300" d="M240.5 212v1M243.5 212v2M346.5 255v1M349.5 254v1M350.5 256v4M353.5 257v2M354.5 254v2M355.5 253v3M357.5 255v1M358.5 255v5M359.5 256v3M389.5 201v3M389.5 206v2M390.5 206v4M391.5 199v2M392.5 195v5M394.5 204v1M398.5 202v1M399.5 200v12M400.5 203v7M401.5 204v4M402.5 170v2M402.5 173v1M406.5 171v1M407.5 170v2M408.5 190v6M409.5 172v2M409.5 190v2M409.5 193v3M410.5 171v2M410.5 189v3M411.5 149v2M411.5 168v6M411.5 188v9M412.5 146v6M412.5 169v4M413.5 150v5M414.5 145v5M416.5 146v5M416.5 175v1M416.5 187v8M417.5 170v4M418.5 172v1M418.5 181v5M419.5 171v2M419.5 174v2M419.5 179v10M420.5 170v3M420.5 184v4M422.5 168v7M422.5 181v6M423.5 169v1M423.5 171v4M425.5 171v4M426.5 168v4M427.5 164v2M427.5 169v4M428.5 167v2M428.5 176v3M429.5 164v6M429.5 175v1M430.5 168v3M430.5 172v1M430.5 179v1M431.5 166v2M431.5 176v1M432.5 167v2M432.5 171v1M432.5 180v1M433.5 174v5M434.5 166v2M435.5 166v5M436.5 170v2M437.5 166v3M438.5 164v5M441.5 159v6M447.5 158v4M447.5 163v3M449.5 159v3M450.5 163v3M453.5 158v9"/>
<path stroke="#d65900" d="M240.5 211v1M241.5 208v1M242.5 210v2M243.5 211v1M347.5 254v3M348.5 252v5M349.5 255v2M386.5 202v1M387.5 200v4M387.5 206v1M388.5 202v3M389.5 204v2M390.5 193v4M390.5 198v8M391.5 193v6M391.5 203v1M391.5 205v1M393.5 191v5M393.5 202v2M394.5 191v6M394.5 203v1M394.5 205v2M395.5 194v2M395.5 200v5M396.5 190v5M401.5 208v1M405.5 167v5M406.5 169v2M407.5 169v1M408.5 165v4M408.5 189v1M409.5 171v1M409.5 187v3M409.5 192v1M410.5 167v4M410.5 186v1M414.5 186v2M415.5 168v6M415.5 188v4M416.5 166v1M416.5 186v1M417.5 150v2M418.5 144v10M418.5 169v3M419.5 149v4M419.5 168v3M419.5 173v1M420.5 151v1M420.5 168v2M420.5 181v3M421.5 176v7M424.5 169v3M428.5 166v1M430.5 165v1M430.5 173v6M431.5 162v4M431.5 177v2M432.5 166v1M432.5 172v8M436.5 162v8M437.5 164v1M438.5 161v3M441.5 165v2M442.5 157v1M442.5 161v3M443.5 158v9M445.5 162v7M446.5 151v9M447.5 154v4M448.5 159v1"/>
<path stroke="#d85f00" d="M242.5 208v2M386.5 200v2M387.5 195v5M388.5 200v2M389.5 190v3M389.5 200v1M390.5 197v1M391.5 190v3M391.5 202v1M392.5 200v2M395.5 189v5M396.5 202v4M397.5 197v10M398.5 201v1M406.5 189v2M407.5 186v1M408.5 169v2M409.5 164v7M410.5 187v2M411.5 162v2M411.5 184v4M412.5 168v1M412.5 188v4M413.5 145v1M413.5 165v7M413.5 186v2M414.5 168v2M414.5 188v3M415.5 166v2M416.5 167v5M417.5 167v3M418.5 167v2M419.5 167v1M420.5 148v3M421.5 149v2M422.5 145v1M423.5 166v3M423.5 170v1M424.5 163v6M425.5 169v2M427.5 166v3M428.5 163v3M430.5 166v2M431.5 173v3M432.5 162v4M432.5 169v2M433.5 162v12M434.5 159v7M434.5 174v5M436.5 161v1M439.5 154v2M439.5 160v4M440.5 160v5M441.5 154v5M445.5 153v9M451.5 156v4M452.5 150v9"/>
<path stroke="#db6500" d="M385.5 198v4M386.5 193v7M389.5 189v1M390.5 191v2M392.5 192v3M396.5 189v1M407.5 185v1M408.5 182v2M409.5 185v2M410.5 166v1M410.5 182v4M411.5 164v3M411.5 183v1M412.5 159v5M412.5 183v5M413.5 162v3M414.5 163v5M415.5 181v2M415.5 184v4M417.5 162v2M418.5 162v5M419.5 147v2M419.5 163v1M420.5 142v6M420.5 164v4M421.5 146v3M421.5 162v5M422.5 144v1M422.5 164v4M423.5 142v2M424.5 161v2M425.5 159v10M426.5 161v7M429.5 162v2M430.5 161v4M431.5 159v3M432.5 160v2M433.5 157v5M435.5 157v9M438.5 155v6M439.5 156v4M440.5 155v5M441.5 151v1M441.5 153v1M442.5 152v5M443.5 146v12"/>
<path stroke="#dd6c00" d="M388.5 195v5M389.5 194v6M390.5 188v3M396.5 198v4M397.5 193v4M398.5 192v9M399.5 194v6M400.5 200v3M408.5 184v5M409.5 177v8M410.5 164v2M411.5 167v1M411.5 182v1M412.5 158v1M412.5 164v4M412.5 179v4M413.5 179v7M414.5 181v5M416.5 159v2M417.5 164v3M419.5 164v3M420.5 160v4M423.5 164v2M427.5 161v3M428.5 160v3M432.5 159v1M434.5 158v1M435.5 156v1M436.5 151v10M437.5 154v10M439.5 149v5M440.5 149v6M441.5 152v1M442.5 149v3M442.5 158v3M444.5 148v11M448.5 153v6"/>
<path stroke="#df7200" d="M395.5 198v2M396.5 195v3M400.5 193v7M408.5 180v2M409.5 176v1M410.5 175v2M410.5 180v2M411.5 177v5M414.5 158v5M415.5 157v9M415.5 183v1M416.5 156v3M416.5 161v5M417.5 159v3M418.5 157v5M419.5 142v5M419.5 159v4M423.5 160v2M426.5 159v2M427.5 157v4M428.5 153v7M429.5 159v3M431.5 157v2M434.5 155v3M438.5 146v3M445.5 148v5M447.5 149v5"/>
<path stroke="#e17a00" d="M386.5 191v2M387.5 187v8M388.5 190v5M389.5 193v1M413.5 155v7M418.5 156v1M419.5 153v6M420.5 153v1M420.5 155v5M421.5 151v11M422.5 158v6M423.5 162v2M424.5 155v6M425.5 156v3M426.5 156v3M429.5 154v5M430.5 154v7M431.5 155v2M432.5 150v9M433.5 148v9M434.5 141v14M435.5 152v4M436.5 148v3M437.5 144v10"/>
<path stroke="#e48100" d="M397.5 192v1M398.5 190v2M399.5 189v5M400.5 192v1M410.5 177v3M411.5 174v1M411.5 176v1M412.5 173v6M414.5 177v4M416.5 155v1M417.5 152v7M422.5 147v3M422.5 153v5M423.5 153v7M424.5 152v3M425.5 153v3M426.5 151v5M427.5 152v5M431.5 153v2M432.5 147v3M435.5 146v6M438.5 149v6"/>
<path stroke="#e68900" d="M397.5 191v1M398.5 186v4M411.5 175v1M413.5 172v7M420.5 154v1M422.5 151v2M423.5 149v4M425.5 151v2M428.5 151v2M429.5 147v7M430.5 151v3M436.5 146v2M437.5 141v3"/>
<path stroke="#e89100" d="M423.5 146v3M424.5 150v2M425.5 145v6M426.5 149v2M427.5 146v6M428.5 146v5M429.5 140v7M430.5 146v5M431.5 144v9"/>
<path stroke="#ea9900" d="M398.5 185v1M399.5 183v6M422.5 146v1M422.5 150v1M423.5 144v2M424.5 145v5M430.5 141v5M432.5 145v2M433.5 140v8M435.5 145v1"/>
<path stroke="#efab00" d="M427.5 144v2M428.5 141v5M430.5 140v1"/>
</g>
<g stroke="#000" stroke-width="1" fill="none" shape-rendering="crispEdges">
<line x1="261.5" y1="350.0" x2="261.5" y2="436.5"/>
<line x1="558.5" y1="266.0" x2="558.5" y2="352.5"/>
</g>
<defs><filter id="al" x="0" y="0" width="640" height="480" filterUnits="userSpaceOnUse" color-interpolation-filters="sRGB"><feComponentTransfer><feFuncA type="discrete" tableValues="0 0 1 1 1"/></feComponentTransfer></filter></defs>
<g style="font-family:&quot;Liberation Sans&quot;,Arial,sans-serif;font-size:10.67px" fill="#000" filter="url(#al)">
<text x="73.8" y="119.0" text-anchor="end">3500</text>
<text x="73.8" y="132.5" text-anchor="end">3000</text>
<text x="73.8" y="146.0" text-anchor="end">2500</text>
<text x="73.8" y="159.5" text-anchor="end">2000</text>
<text x="73.8" y="173.0" text-anchor="end">1500</text>
<text x="73.8" y="186.5" text-anchor="end">1000</text>
<text x="73.8" y="200.0" text-anchor="end">500</text>
<text x="73.8" y="213.5" text-anchor="end">0</text>
<text x="73.8" y="227.0" text-anchor="end">−500</text>
<text x="73.8" y="240.5" text-anchor="end">−1000</text>
<text x="267.8" y="448.2" text-anchor="middle">0</text>
<text x="317.3" y="434.2" text-anchor="middle">50</text>
<text x="366.8" y="420.2" text-anchor="middle">100</text>
<text x="416.3" y="406.2" text-anchor="middle">150</text>
<text x="465.8" y="392.2" text-anchor="middle">200</text>
<text x="515.3" y="378.2" text-anchor="middle">250</text>
<text x="564.8" y="364.2" text-anchor="middle">300</text>
<text x="258.5" y="444.4" text-anchor="middle">0</text>
<text x="228.7" y="420.9" text-anchor="middle">100</text>
<text x="198.8" y="397.4" text-anchor="middle">200</text>
<text x="169.0" y="373.9" text-anchor="middle">300</text>
<text x="139.2" y="350.4" text-anchor="middle">400</text>
<text x="109.3" y="326.9" text-anchor="middle">500</text>
<text x="79.5" y="303.4" text-anchor="middle">600</text>
<text x="600.4" y="117.0">3500</text>
<text x="600.4" y="135.0">3000</text>
<text x="600.4" y="153.0">2500</text>
<text x="600.4" y="170.0">2000</text>
<text x="600.4" y="188.0">1500</text>
<text x="600.4" y="205.0">1000</text>
<text x="600.4" y="223.0">500</text>
<text x="600.4" y="240.0">0</text>
<text x="594.6" y="258.0">−</text>
<text x="600.4" y="258.0">500</text>
<text x="594.6" y="275.0">−</text>
<text x="600.4" y="275.0">1000</text>
</g>
<defs><linearGradient id="cb" x1="0" y1="1" x2="0" y2="0">
<stop offset="0.0000" stop-color="#000000"/>
<stop offset="0.0278" stop-color="#2a002c"/>
<stop offset="0.0556" stop-color="#3c0057"/>
<stop offset="0.0833" stop-color="#4a007f"/>
<stop offset="0.1111" stop-color="#5500a4"/>
<stop offset="0.1389" stop-color="#5f01c3"/>
<stop offset="0.1667" stop-color="#6801dd"/>
<stop offset="0.1944" stop-color="#7002f0"/>
<stop offset="0.2222" stop-color="#7803fb"/>
<stop offset="0.2500" stop-color="#8004ff"/>
<stop offset="0.2778" stop-color="#8605fb"/>
<stop offset="0.3056" stop-color="#8d07f0"/>
<stop offset="0.3333" stop-color="#9309dd"/>
<stop offset="0.3611" stop-color="#990cc3"/>
<stop offset="0.3889" stop-color="#9f0fa4"/>
<stop offset="0.4167" stop-color="#a5127f"/>
<stop offset="0.4444" stop-color="#aa1657"/>
<stop offset="0.4722" stop-color="#af1b2c"/>
<stop offset="0.5000" stop-color="#b42000"/>
<stop offset="0.5278" stop-color="#b92500"/>
<stop offset="0.5556" stop-color="#be2c00"/>
<stop offset="0.5833" stop-color="#c33300"/>
<stop offset="0.6111" stop-color="#c73a00"/>
<stop offset="0.6389" stop-color="#cc4200"/>
<stop offset="0.6667" stop-color="#d04c00"/>
<stop offset="0.6944" stop-color="#d45500"/>
<stop offset="0.7222" stop-color="#d96000"/>
<stop offset="0.7500" stop-color="#dd6c00"/>
<stop offset="0.7778" stop-color="#e17800"/>
<stop offset="0.8056" stop-color="#e58500"/>
<stop offset="0.8333" stop-color="#e99400"/>
<stop offset="0.8611" stop-color="#eda300"/>
<stop offset="0.8889" stop-color="#f0b300"/>
<stop offset="0.9167" stop-color="#f4c400"/>
<stop offset="0.9444" stop-color="#f8d700"/>
<stop offset="0.9722" stop-color="#fbea00"/>
<stop offset="1.0000" stop-color="#ffff00"/>
</linearGradient></defs>
<rect x="566.5" y="112.5" width="23" height="158" fill="url(#cb)" stroke="#000" stroke-width="1" shape-rendering="crispEdges"/>
<g stroke="#000" stroke-width="1" shape-rendering="crispEdges">
<line x1="567" y1="130.5" x2="571" y2="130.5"/>
<line x1="585" y1="130.5" x2="589" y2="130.5"/>
<line x1="567" y1="148.5" x2="571" y2="148.5"/>
<line x1="585" y1="148.5" x2="589" y2="148.5"/>
<line x1="567" y1="165.5" x2="571" y2="165.5"/>
<line x1="585" y1="165.5" x2="589" y2="165.5"/>
<line x1="567" y1="183.5" x2="571" y2="183.5"/>
<line x1="585" y1="183.5" x2="589" y2="183.5"/>
<line x1="567" y1="200.5" x2="571" y2="200.5"/>
<line x1="585" y1="200.5" x2="589" y2="200.5"/>
<line x1="567" y1="218.5" x2="571" y2="218.5"/>
<line x1="585" y1="218.5" x2="589" y2="218.5"/>
<line x1="567" y1="235.5" x2="571" y2="235.5"/>
<line x1="585" y1="235.5" x2="589" y2="235.5"/>
<line x1="567" y1="253.5" x2="571" y2="253.5"/>
<line x1="585" y1="253.5" x2="589" y2="253.5"/>
</g>
<text x="414.2" y="44.8" textLength="169.5" lengthAdjust="spacingAndGlyphs" style="font-family:&quot;Liberation Mono&quot;,&quot;DejaVu Sans Mono&quot;,monospace;font-size:12px" fill="#000" filter="url(#al)">Greenland Bedrock:NSIDC 2001</text>
</svg></body></html>
